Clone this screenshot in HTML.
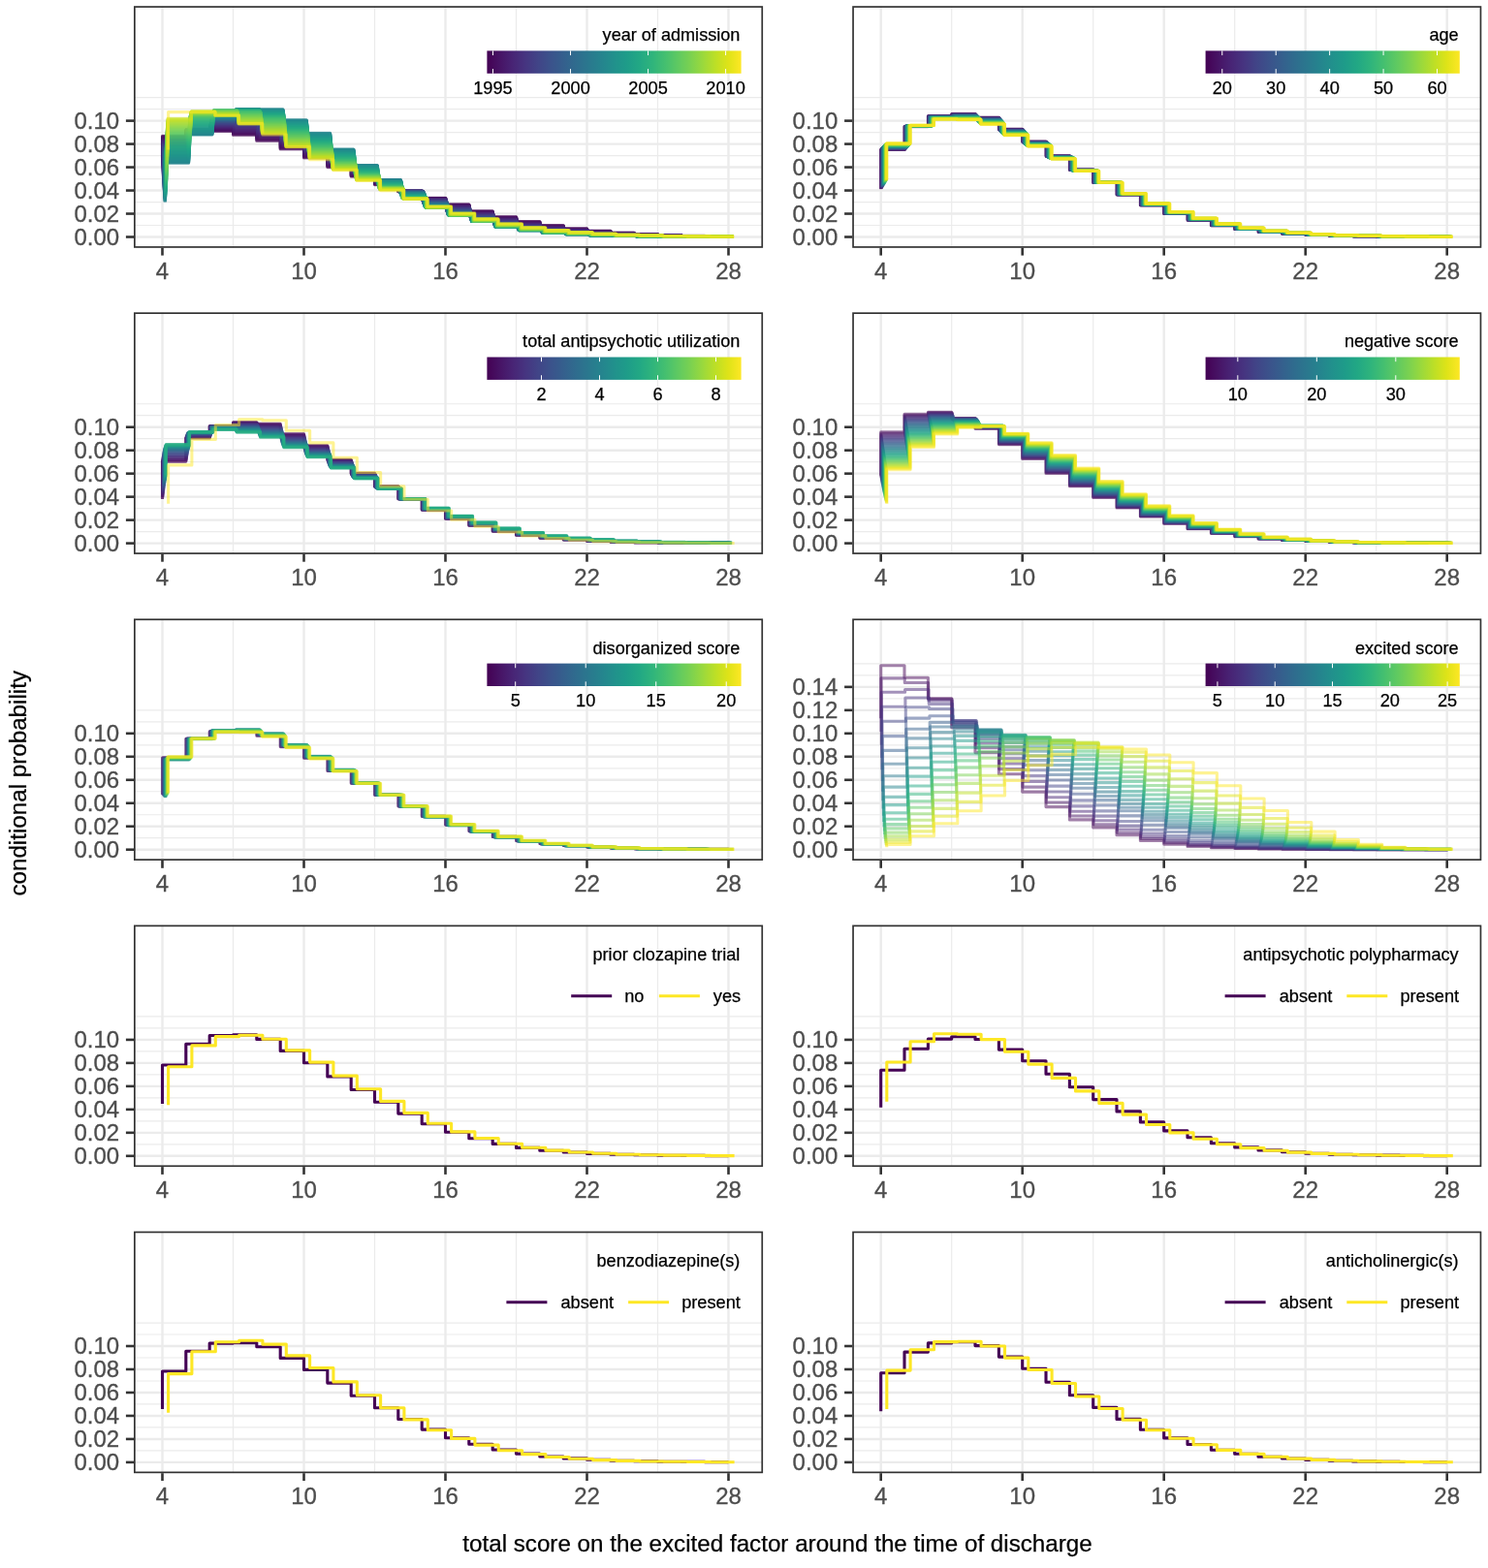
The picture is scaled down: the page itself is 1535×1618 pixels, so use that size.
<!DOCTYPE html><html><head><meta charset="utf-8"><title>conditional probability</title>
<style>html,body{margin:0;padding:0;background:#fff;}svg{display:block;}</style></head><body>
<svg width="1535" height="1618" viewBox="0 0 1535 1618" style="font-family:'Liberation Sans',Arial,Helvetica,sans-serif">
<rect width="1535" height="1618" fill="#fff"/>
<defs><clipPath id="c0"><rect x="138.00" y="6.20" width="649.10" height="249.60"/></clipPath></defs>
<g clip-path="url(#c0)">
<line x1="138.00" y1="232.52" x2="787.10" y2="232.52" stroke="#ebebeb" stroke-width="1.2"/>
<line x1="138.00" y1="208.54" x2="787.10" y2="208.54" stroke="#ebebeb" stroke-width="1.2"/>
<line x1="138.00" y1="184.56" x2="787.10" y2="184.56" stroke="#ebebeb" stroke-width="1.2"/>
<line x1="138.00" y1="160.58" x2="787.10" y2="160.58" stroke="#ebebeb" stroke-width="1.2"/>
<line x1="138.00" y1="136.60" x2="787.10" y2="136.60" stroke="#ebebeb" stroke-width="1.2"/>
<line x1="138.00" y1="112.62" x2="787.10" y2="112.62" stroke="#ebebeb" stroke-width="1.2"/>
<line x1="138.00" y1="100.63" x2="787.10" y2="100.63" stroke="#ebebeb" stroke-width="1.2"/>
<line x1="240.50" y1="6.20" x2="240.50" y2="255.80" stroke="#ebebeb" stroke-width="1.2"/>
<line x1="386.50" y1="6.20" x2="386.50" y2="255.80" stroke="#ebebeb" stroke-width="1.2"/>
<line x1="532.50" y1="6.20" x2="532.50" y2="255.80" stroke="#ebebeb" stroke-width="1.2"/>
<line x1="678.50" y1="6.20" x2="678.50" y2="255.80" stroke="#ebebeb" stroke-width="1.2"/>
<line x1="138.00" y1="244.51" x2="787.10" y2="244.51" stroke="#ebebeb" stroke-width="2.4"/>
<line x1="138.00" y1="220.53" x2="787.10" y2="220.53" stroke="#ebebeb" stroke-width="2.4"/>
<line x1="138.00" y1="196.55" x2="787.10" y2="196.55" stroke="#ebebeb" stroke-width="2.4"/>
<line x1="138.00" y1="172.57" x2="787.10" y2="172.57" stroke="#ebebeb" stroke-width="2.4"/>
<line x1="138.00" y1="148.59" x2="787.10" y2="148.59" stroke="#ebebeb" stroke-width="2.4"/>
<line x1="138.00" y1="124.61" x2="787.10" y2="124.61" stroke="#ebebeb" stroke-width="2.4"/>
<line x1="167.50" y1="6.20" x2="167.50" y2="255.80" stroke="#ebebeb" stroke-width="2.4"/>
<line x1="313.50" y1="6.20" x2="313.50" y2="255.80" stroke="#ebebeb" stroke-width="2.4"/>
<line x1="459.50" y1="6.20" x2="459.50" y2="255.80" stroke="#ebebeb" stroke-width="2.4"/>
<line x1="605.50" y1="6.20" x2="605.50" y2="255.80" stroke="#ebebeb" stroke-width="2.4"/>
<line x1="751.50" y1="6.20" x2="751.50" y2="255.80" stroke="#ebebeb" stroke-width="2.4"/>
<path d="M167.5,163.0L167.5,140.2 191.8,140.2 191.8,134.8 216.2,134.8 216.2,135.4 240.5,135.4 240.5,139.4 264.8,139.4 264.8,145.5 289.2,145.5 289.2,154.0 313.5,154.0 313.5,163.0 337.8,163.0 337.8,172.6 362.2,172.6 362.2,182.2 386.5,182.2 386.5,190.6 410.8,190.6 410.8,197.8 435.2,197.8 435.2,204.3 459.5,204.3 459.5,210.9 483.8,210.9 483.8,217.9 508.2,217.9 508.2,223.7 532.5,223.7 532.5,228.6 556.8,228.6 556.8,232.5 581.2,232.5 581.2,235.8 605.5,235.8 605.5,238.3 629.8,238.3 629.8,240.2 654.2,240.2 654.2,241.6 678.5,241.6 678.5,242.7 702.8,242.7 702.8,243.4 727.2,243.4 727.2,243.9 751.5,243.9" fill="none" stroke="#440154" stroke-width="3.10" stroke-opacity="0.500" stroke-linejoin="round"/>
<path d="M167.6,164.1L167.6,140.6 191.9,140.6 191.9,134.7 216.2,134.7 216.2,135.0 240.6,135.0 240.6,138.8 264.9,138.8 264.9,144.8 289.2,144.8 289.2,153.4 313.6,153.4 313.6,162.5 337.9,162.5 337.9,172.1 362.2,172.1 362.2,181.8 386.6,181.8 386.6,190.3 410.9,190.3 410.9,197.7 435.2,197.7 435.2,204.5 459.6,204.5 459.6,211.2 483.9,211.2 483.9,218.1 508.2,218.1 508.2,223.9 532.6,223.9 532.6,228.8 556.9,228.8 556.9,232.8 581.2,232.8 581.2,236.0 605.5,236.0 605.5,238.4 629.9,238.4 629.9,240.3 654.2,240.3 654.2,241.7 678.5,241.7 678.5,242.8 702.9,242.8 702.9,243.5 727.2,243.5 727.2,243.9 751.5,243.9" fill="none" stroke="#450457" stroke-width="3.10" stroke-opacity="0.500" stroke-linejoin="round"/>
<path d="M167.6,165.3L167.6,141.1 191.9,141.1 191.9,134.6 216.3,134.6 216.3,134.6 240.6,134.6 240.6,138.3 264.9,138.3 264.9,144.2 289.3,144.2 289.3,152.8 313.6,152.8 313.6,161.9 337.9,161.9 337.9,171.7 362.3,171.7 362.3,181.5 386.6,181.5 386.6,190.1 410.9,190.1 410.9,197.6 435.3,197.6 435.3,204.6 459.6,204.6 459.6,211.4 483.9,211.4 483.9,218.4 508.3,218.4 508.3,224.2 532.6,224.2 532.6,229.1 556.9,229.1 556.9,233.0 581.3,233.0 581.3,236.2 605.6,236.2 605.6,238.6 629.9,238.6 629.9,240.4 654.3,240.4 654.3,241.8 678.6,241.8 678.6,242.8 702.9,242.8 702.9,243.5 727.3,243.5 727.3,243.9 751.6,243.9" fill="none" stroke="#46075a" stroke-width="3.10" stroke-opacity="0.500" stroke-linejoin="round"/>
<path d="M167.7,166.4L167.7,141.5 192.0,141.5 192.0,134.5 216.3,134.5 216.3,134.2 240.7,134.2 240.7,137.7 265.0,137.7 265.0,143.5 289.3,143.5 289.3,152.2 313.7,152.2 313.7,161.4 338.0,161.4 338.0,171.3 362.3,171.3 362.3,181.1 386.7,181.1 386.7,189.8 411.0,189.8 411.0,197.5 435.3,197.5 435.3,204.7 459.7,204.7 459.7,211.6 484.0,211.6 484.0,218.6 508.3,218.6 508.3,224.5 532.7,224.5 532.7,229.4 557.0,229.4 557.0,233.3 581.3,233.3 581.3,236.4 605.7,236.4 605.7,238.8 630.0,238.8 630.0,240.6 654.3,240.6 654.3,241.9 678.7,241.9 678.7,242.9 703.0,242.9 703.0,243.5 727.3,243.5 727.3,244.0 751.6,244.0" fill="none" stroke="#460a5d" stroke-width="3.10" stroke-opacity="0.500" stroke-linejoin="round"/>
<path d="M167.7,167.5L167.7,141.9 192.0,141.9 192.0,134.4 216.4,134.4 216.4,133.8 240.7,133.8 240.7,137.2 265.0,137.2 265.0,142.9 289.4,142.9 289.4,151.7 313.7,151.7 313.7,160.9 338.0,160.9 338.0,170.8 362.4,170.8 362.4,180.8 386.7,180.8 386.7,189.6 411.0,189.6 411.0,197.5 435.4,197.5 435.4,204.8 459.7,204.8 459.7,211.8 484.0,211.8 484.0,218.8 508.4,218.8 508.4,224.7 532.7,224.7 532.7,229.6 557.0,229.6 557.0,233.5 581.4,233.5 581.4,236.6 605.7,236.6 605.7,238.9 630.0,238.9 630.0,240.7 654.4,240.7 654.4,242.0 678.7,242.0 678.7,242.9 703.0,242.9 703.0,243.5 727.4,243.5 727.4,244.0 751.7,244.0" fill="none" stroke="#470d60" stroke-width="3.10" stroke-opacity="0.500" stroke-linejoin="round"/>
<path d="M167.8,168.6L167.8,142.4 192.1,142.4 192.1,134.3 216.4,134.3 216.4,133.5 240.8,133.5 240.8,136.6 265.1,136.6 265.1,142.3 289.4,142.3 289.4,151.1 313.8,151.1 313.8,160.3 338.1,160.3 338.1,170.4 362.4,170.4 362.4,180.4 386.8,180.4 386.8,189.4 411.1,189.4 411.1,197.4 435.4,197.4 435.4,204.9 459.8,204.9 459.8,212.1 484.1,212.1 484.1,219.1 508.4,219.1 508.4,225.0 532.8,225.0 532.8,229.9 557.1,229.9 557.1,233.8 581.4,233.8 581.4,236.8 605.8,236.8 605.8,239.1 630.1,239.1 630.1,240.8 654.4,240.8 654.4,242.0 678.8,242.0 678.8,242.9 703.1,242.9 703.1,243.6 727.4,243.6 727.4,244.0 751.8,244.0" fill="none" stroke="#471063" stroke-width="3.10" stroke-opacity="0.500" stroke-linejoin="round"/>
<path d="M167.8,169.7L167.8,142.8 192.1,142.8 192.1,134.2 216.5,134.2 216.5,133.1 240.8,133.1 240.8,136.1 265.1,136.1 265.1,141.6 289.5,141.6 289.5,150.5 313.8,150.5 313.8,159.8 338.1,159.8 338.1,170.0 362.5,170.0 362.5,180.1 386.8,180.1 386.8,189.2 411.1,189.2 411.1,197.4 435.5,197.4 435.5,205.0 459.8,205.0 459.8,212.3 484.1,212.3 484.1,219.3 508.5,219.3 508.5,225.3 532.8,225.3 532.8,230.2 557.1,230.2 557.1,234.0 581.5,234.0 581.5,236.9 605.8,236.9 605.8,239.2 630.1,239.2 630.1,240.9 654.5,240.9 654.5,242.1 678.8,242.1 678.8,243.0 703.1,243.0 703.1,243.6 727.5,243.6 727.5,244.0 751.8,244.0" fill="none" stroke="#471365" stroke-width="3.10" stroke-opacity="0.500" stroke-linejoin="round"/>
<path d="M167.9,170.7L167.9,143.3 192.2,143.3 192.2,134.1 216.5,134.1 216.5,132.7 240.9,132.7 240.9,135.5 265.2,135.5 265.2,141.0 289.5,141.0 289.5,149.9 313.9,149.9 313.9,159.3 338.2,159.3 338.2,169.5 362.5,169.5 362.5,179.7 386.9,179.7 386.9,189.0 411.2,189.0 411.2,197.3 435.5,197.3 435.5,205.2 459.9,205.2 459.9,212.5 484.2,212.5 484.2,219.5 508.5,219.5 508.5,225.5 532.9,225.5 532.9,230.4 557.2,230.4 557.2,234.2 581.5,234.2 581.5,237.1 605.9,237.1 605.9,239.4 630.2,239.4 630.2,241.0 654.5,241.0 654.5,242.2 678.9,242.2 678.9,243.0 703.2,243.0 703.2,243.6 727.5,243.6 727.5,244.0 751.9,244.0" fill="none" stroke="#481769" stroke-width="3.10" stroke-opacity="0.500" stroke-linejoin="round"/>
<path d="M167.9,171.8L167.9,143.7 192.2,143.7 192.2,134.0 216.6,134.0 216.6,132.3 240.9,132.3 240.9,135.0 265.2,135.0 265.2,140.3 289.6,140.3 289.6,149.3 313.9,149.3 313.9,158.8 338.2,158.8 338.2,169.1 362.6,169.1 362.6,179.4 386.9,179.4 386.9,188.8 411.2,188.8 411.2,197.3 435.6,197.3 435.6,205.3 459.9,205.3 459.9,212.8 484.2,212.8 484.2,219.8 508.6,219.8 508.6,225.8 532.9,225.8 532.9,230.7 557.2,230.7 557.2,234.4 581.6,234.4 581.6,237.3 605.9,237.3 605.9,239.5 630.2,239.5 630.2,241.1 654.6,241.1 654.6,242.3 678.9,242.3 678.9,243.1 703.2,243.1 703.2,243.6 727.6,243.6 727.6,244.0 751.9,244.0" fill="none" stroke="#481a6c" stroke-width="3.10" stroke-opacity="0.500" stroke-linejoin="round"/>
<path d="M168.0,172.8L168.0,144.2 192.3,144.2 192.3,134.0 216.6,134.0 216.6,132.0 241.0,132.0 241.0,134.5 265.3,134.5 265.3,139.7 289.6,139.7 289.6,148.8 314.0,148.8 314.0,158.2 338.3,158.2 338.3,168.7 362.6,168.7 362.6,179.1 387.0,179.1 387.0,188.6 411.3,188.6 411.3,197.3 435.6,197.3 435.6,205.4 460.0,205.4 460.0,213.0 484.3,213.0 484.3,220.0 508.6,220.0 508.6,226.1 533.0,226.1 533.0,230.9 557.3,230.9 557.3,234.7 581.6,234.7 581.6,237.5 606.0,237.5 606.0,239.6 630.3,239.6 630.3,241.2 654.6,241.2 654.6,242.3 679.0,242.3 679.0,243.1 703.3,243.1 703.3,243.6 727.6,243.6 727.6,244.0 752.0,244.0" fill="none" stroke="#481c6e" stroke-width="3.10" stroke-opacity="0.500" stroke-linejoin="round"/>
<path d="M168.0,173.8L168.0,144.7 192.4,144.7 192.4,133.9 216.7,133.9 216.7,131.6 241.0,131.6 241.0,133.9 265.3,133.9 265.3,139.0 289.7,139.0 289.7,148.2 314.0,148.2 314.0,157.7 338.3,157.7 338.3,168.3 362.7,168.3 362.7,178.8 387.0,178.8 387.0,188.4 411.3,188.4 411.3,197.3 435.7,197.3 435.7,205.6 460.0,205.6 460.0,213.2 484.3,213.2 484.3,220.3 508.7,220.3 508.7,226.3 533.0,226.3 533.0,231.1 557.3,231.1 557.3,234.9 581.7,234.9 581.7,237.6 606.0,237.6 606.0,239.8 630.3,239.8 630.3,241.3 654.7,241.3 654.7,242.4 679.0,242.4 679.0,243.1 703.3,243.1 703.3,243.7 727.7,243.7 727.7,244.0 752.0,244.0" fill="none" stroke="#481f70" stroke-width="3.10" stroke-opacity="0.500" stroke-linejoin="round"/>
<path d="M168.1,174.8L168.1,145.1 192.4,145.1 192.4,133.9 216.7,133.9 216.7,131.2 241.1,131.2 241.1,133.4 265.4,133.4 265.4,138.4 289.7,138.4 289.7,147.6 314.1,147.6 314.1,157.2 338.4,157.2 338.4,167.9 362.7,167.9 362.7,178.5 387.1,178.5 387.1,188.2 411.4,188.2 411.4,197.2 435.7,197.2 435.7,205.7 460.1,205.7 460.1,213.5 484.4,213.5 484.4,220.5 508.7,220.5 508.7,226.6 533.1,226.6 533.1,231.4 557.4,231.4 557.4,235.1 581.7,235.1 581.7,237.8 606.1,237.8 606.1,239.9 630.4,239.9 630.4,241.4 654.7,241.4 654.7,242.5 679.1,242.5 679.1,243.2 703.4,243.2 703.4,243.7 727.7,243.7 727.7,244.1 752.1,244.1" fill="none" stroke="#482173" stroke-width="3.10" stroke-opacity="0.500" stroke-linejoin="round"/>
<path d="M168.1,175.8L168.1,145.6 192.5,145.6 192.5,133.8 216.8,133.8 216.8,130.9 241.1,130.9 241.1,132.8 265.5,132.8 265.5,137.7 289.8,137.7 289.8,147.0 314.1,147.0 314.1,156.7 338.5,156.7 338.5,167.5 362.8,167.5 362.8,178.1 387.1,178.1 387.1,188.0 411.4,188.0 411.4,197.2 435.8,197.2 435.8,205.9 460.1,205.9 460.1,213.7 484.4,213.7 484.4,220.7 508.8,220.7 508.8,226.8 533.1,226.8 533.1,231.6 557.4,231.6 557.4,235.3 581.8,235.3 581.8,238.0 606.1,238.0 606.1,240.0 630.4,240.0 630.4,241.5 654.8,241.5 654.8,242.5 679.1,242.5 679.1,243.2 703.4,243.2 703.4,243.7 727.8,243.7 727.8,244.1 752.1,244.1" fill="none" stroke="#482475" stroke-width="3.10" stroke-opacity="0.500" stroke-linejoin="round"/>
<path d="M168.2,176.8L168.2,146.1 192.5,146.1 192.5,133.8 216.8,133.8 216.8,130.5 241.2,130.5 241.2,132.3 265.5,132.3 265.5,137.1 289.8,137.1 289.8,146.4 314.2,146.4 314.2,156.1 338.5,156.1 338.5,167.0 362.8,167.0 362.8,177.8 387.2,177.8 387.2,187.8 411.5,187.8 411.5,197.2 435.8,197.2 435.8,206.0 460.2,206.0 460.2,213.9 484.5,213.9 484.5,221.0 508.8,221.0 508.8,227.1 533.2,227.1 533.2,231.8 557.5,231.8 557.5,235.5 581.8,235.5 581.8,238.1 606.2,238.1 606.2,240.1 630.5,240.1 630.5,241.6 654.8,241.6 654.8,242.6 679.2,242.6 679.2,243.3 703.5,243.3 703.5,243.7 727.8,243.7 727.8,244.1 752.2,244.1" fill="none" stroke="#482878" stroke-width="3.10" stroke-opacity="0.500" stroke-linejoin="round"/>
<path d="M168.2,177.8L168.2,146.5 192.6,146.5 192.6,133.7 216.9,133.7 216.9,130.2 241.2,130.2 241.2,131.8 265.6,131.8 265.6,136.5 289.9,136.5 289.9,145.9 314.2,145.9 314.2,155.6 338.6,155.6 338.6,166.6 362.9,166.6 362.9,177.5 387.2,177.5 387.2,187.7 411.6,187.7 411.6,197.2 435.9,197.2 435.9,206.2 460.2,206.2 460.2,214.2 484.6,214.2 484.6,221.2 508.9,221.2 508.9,227.3 533.2,227.3 533.2,232.1 557.6,232.1 557.6,235.7 581.9,235.7 581.9,238.3 606.2,238.3 606.2,240.3 630.5,240.3 630.5,241.7 654.9,241.7 654.9,242.6 679.2,242.6 679.2,243.3 703.5,243.3 703.5,243.7 727.9,243.7 727.9,244.1 752.2,244.1" fill="none" stroke="#472a7a" stroke-width="3.10" stroke-opacity="0.500" stroke-linejoin="round"/>
<path d="M168.3,178.7L168.3,147.0 192.6,147.0 192.6,133.7 216.9,133.7 216.9,129.8 241.3,129.8 241.3,131.2 265.6,131.2 265.6,135.8 289.9,135.8 289.9,145.3 314.3,145.3 314.3,155.1 338.6,155.1 338.6,166.2 362.9,166.2 362.9,177.2 387.3,177.2 387.3,187.5 411.6,187.5 411.6,197.2 435.9,197.2 435.9,206.3 460.3,206.3 460.3,214.4 484.6,214.4 484.6,221.4 508.9,221.4 508.9,227.6 533.3,227.6 533.3,232.3 557.6,232.3 557.6,235.9 581.9,235.9 581.9,238.4 606.3,238.4 606.3,240.4 630.6,240.4 630.6,241.8 654.9,241.8 654.9,242.7 679.3,242.7 679.3,243.3 703.6,243.3 703.6,243.7 727.9,243.7 727.9,244.1 752.3,244.1" fill="none" stroke="#472d7b" stroke-width="3.10" stroke-opacity="0.500" stroke-linejoin="round"/>
<path d="M168.3,179.7L168.3,147.5 192.7,147.5 192.7,133.7 217.0,133.7 217.0,129.5 241.3,129.5 241.3,130.7 265.7,130.7 265.7,135.2 290.0,135.2 290.0,144.7 314.3,144.7 314.3,154.6 338.7,154.6 338.7,165.8 363.0,165.8 363.0,176.9 387.3,176.9 387.3,187.4 411.7,187.4 411.7,197.2 436.0,197.2 436.0,206.5 460.3,206.5 460.3,214.7 484.7,214.7 484.7,221.7 509.0,221.7 509.0,227.8 533.3,227.8 533.3,232.5 557.7,232.5 557.7,236.1 582.0,236.1 582.0,238.6 606.3,238.6 606.3,240.5 630.7,240.5 630.7,241.8 655.0,241.8 655.0,242.8 679.3,242.8 679.3,243.4 703.7,243.4 703.7,243.8 728.0,243.8 728.0,244.1 752.3,244.1" fill="none" stroke="#472f7d" stroke-width="3.10" stroke-opacity="0.500" stroke-linejoin="round"/>
<path d="M168.4,180.6L168.4,148.0 192.7,148.0 192.7,133.7 217.0,133.7 217.0,129.1 241.4,129.1 241.4,130.2 265.7,130.2 265.7,134.5 290.0,134.5 290.0,144.1 314.4,144.1 314.4,154.1 338.7,154.1 338.7,165.4 363.0,165.4 363.0,176.6 387.4,176.6 387.4,187.2 411.7,187.2 411.7,197.3 436.0,197.3 436.0,206.7 460.4,206.7 460.4,214.9 484.7,214.9 484.7,221.9 509.0,221.9 509.0,228.1 533.4,228.1 533.4,232.7 557.7,232.7 557.7,236.3 582.0,236.3 582.0,238.7 606.4,238.7 606.4,240.6 630.7,240.6 630.7,241.9 655.0,241.9 655.0,242.8 679.4,242.8 679.4,243.4 703.7,243.4 703.7,243.8 728.0,243.8 728.0,244.1 752.4,244.1" fill="none" stroke="#46327e" stroke-width="3.10" stroke-opacity="0.500" stroke-linejoin="round"/>
<path d="M168.4,181.5L168.4,148.5 192.8,148.5 192.8,133.6 217.1,133.6 217.1,128.8 241.4,128.8 241.4,129.6 265.8,129.6 265.8,133.9 290.1,133.9 290.1,143.5 314.4,143.5 314.4,153.5 338.8,153.5 338.8,165.0 363.1,165.0 363.1,176.4 387.4,176.4 387.4,187.1 411.8,187.1 411.8,197.3 436.1,197.3 436.1,206.8 460.4,206.8 460.4,215.2 484.8,215.2 484.8,222.2 509.1,222.2 509.1,228.3 533.4,228.3 533.4,233.0 557.8,233.0 557.8,236.5 582.1,236.5 582.1,238.9 606.4,238.9 606.4,240.7 630.8,240.7 630.8,242.0 655.1,242.0 655.1,242.9 679.4,242.9 679.4,243.4 703.8,243.4 703.8,243.8 728.1,243.8 728.1,244.1 752.4,244.1" fill="none" stroke="#463480" stroke-width="3.10" stroke-opacity="0.500" stroke-linejoin="round"/>
<path d="M168.5,182.4L168.5,148.9 192.8,148.9 192.8,133.6 217.1,133.6 217.1,128.5 241.5,128.5 241.5,129.1 265.8,129.1 265.8,133.2 290.1,133.2 290.1,142.9 314.5,142.9 314.5,153.0 338.8,153.0 338.8,164.6 363.1,164.6 363.1,176.1 387.5,176.1 387.5,186.9 411.8,186.9 411.8,197.3 436.1,197.3 436.1,207.0 460.5,207.0 460.5,215.4 484.8,215.4 484.8,222.4 509.1,222.4 509.1,228.5 533.5,228.5 533.5,233.2 557.8,233.2 557.8,236.6 582.1,236.6 582.1,239.0 606.5,239.0 606.5,240.8 630.8,240.8 630.8,242.1 655.1,242.1 655.1,242.9 679.5,242.9 679.5,243.5 703.8,243.5 703.8,243.8 728.1,243.8 728.1,244.1 752.5,244.1" fill="none" stroke="#453882" stroke-width="3.10" stroke-opacity="0.500" stroke-linejoin="round"/>
<path d="M168.5,183.3L168.5,149.4 192.9,149.4 192.9,133.6 217.2,133.6 217.2,128.1 241.5,128.1 241.5,128.6 265.9,128.6 265.9,132.6 290.2,132.6 290.2,142.4 314.5,142.4 314.5,152.5 338.9,152.5 338.9,164.2 363.2,164.2 363.2,175.8 387.5,175.8 387.5,186.8 411.9,186.8 411.9,197.3 436.2,197.3 436.2,207.2 460.5,207.2 460.5,215.6 484.9,215.6 484.9,222.6 509.2,222.6 509.2,228.8 533.5,228.8 533.5,233.4 557.9,233.4 557.9,236.8 582.2,236.8 582.2,239.1 606.5,239.1 606.5,240.9 630.9,240.9 630.9,242.1 655.2,242.1 655.2,243.0 679.5,243.0 679.5,243.5 703.9,243.5 703.9,243.8 728.2,243.8 728.2,244.1 752.5,244.1" fill="none" stroke="#443a83" stroke-width="3.10" stroke-opacity="0.500" stroke-linejoin="round"/>
<path d="M168.6,184.2L168.6,149.9 192.9,149.9 192.9,133.6 217.2,133.6 217.2,127.8 241.6,127.8 241.6,128.1 265.9,128.1 265.9,131.9 290.2,131.9 290.2,141.8 314.6,141.8 314.6,152.0 338.9,152.0 338.9,163.8 363.2,163.8 363.2,175.5 387.6,175.5 387.6,186.6 411.9,186.6 411.9,197.4 436.2,197.4 436.2,207.4 460.6,207.4 460.6,215.9 484.9,215.9 484.9,222.9 509.2,222.9 509.2,229.0 533.6,229.0 533.6,233.6 557.9,233.6 557.9,237.0 582.2,237.0 582.2,239.3 606.6,239.3 606.6,241.0 630.9,241.0 630.9,242.2 655.2,242.2 655.2,243.0 679.6,243.0 679.6,243.5 703.9,243.5 703.9,243.8 728.2,243.8 728.2,244.2 752.6,244.2" fill="none" stroke="#433d84" stroke-width="3.10" stroke-opacity="0.500" stroke-linejoin="round"/>
<path d="M168.6,185.1L168.6,150.4 193.0,150.4 193.0,133.6 217.3,133.6 217.3,127.5 241.6,127.5 241.6,127.5 266.0,127.5 266.0,131.3 290.3,131.3 290.3,141.2 314.6,141.2 314.6,151.5 339.0,151.5 339.0,163.4 363.3,163.4 363.3,175.3 387.6,175.3 387.6,186.5 412.0,186.5 412.0,197.4 436.3,197.4 436.3,207.5 460.6,207.5 460.6,216.1 485.0,216.1 485.0,223.1 509.3,223.1 509.3,229.2 533.6,229.2 533.6,233.8 558.0,233.8 558.0,237.1 582.3,237.1 582.3,239.4 606.6,239.4 606.6,241.1 631.0,241.1 631.0,242.3 655.3,242.3 655.3,243.1 679.6,243.1 679.6,243.5 704.0,243.5 704.0,243.9 728.3,243.9 728.3,244.2 752.6,244.2" fill="none" stroke="#423f85" stroke-width="3.10" stroke-opacity="0.500" stroke-linejoin="round"/>
<path d="M168.7,185.9L168.7,150.9 193.0,150.9 193.0,133.6 217.4,133.6 217.4,127.2 241.7,127.2 241.7,127.0 266.0,127.0 266.0,130.6 290.3,130.6 290.3,140.6 314.7,140.6 314.7,151.0 339.0,151.0 339.0,163.1 363.3,163.1 363.3,175.0 387.7,175.0 387.7,186.4 412.0,186.4 412.0,197.5 436.3,197.5 436.3,207.7 460.7,207.7 460.7,216.4 485.0,216.4 485.0,223.3 509.3,223.3 509.3,229.5 533.7,229.5 533.7,234.0 558.0,234.0 558.0,237.3 582.3,237.3 582.3,239.5 606.7,239.5 606.7,241.2 631.0,241.2 631.0,242.4 655.3,242.4 655.3,243.1 679.7,243.1 679.7,243.6 704.0,243.6 704.0,243.9 728.3,243.9 728.3,244.2 752.7,244.2" fill="none" stroke="#424186" stroke-width="3.10" stroke-opacity="0.500" stroke-linejoin="round"/>
<path d="M168.7,186.8L168.7,151.4 193.1,151.4 193.1,133.7 217.4,133.7 217.4,126.9 241.7,126.9 241.7,126.5 266.1,126.5 266.1,130.0 290.4,130.0 290.4,140.0 314.7,140.0 314.7,150.5 339.1,150.5 339.1,162.7 363.4,162.7 363.4,174.7 387.7,174.7 387.7,186.3 412.1,186.3 412.1,197.5 436.4,197.5 436.4,207.9 460.7,207.9 460.7,216.6 485.1,216.6 485.1,223.6 509.4,223.6 509.4,229.7 533.7,229.7 533.7,234.2 558.1,234.2 558.1,237.5 582.4,237.5 582.4,239.6 606.7,239.6 606.7,241.3 631.1,241.3 631.1,242.4 655.4,242.4 655.4,243.1 679.7,243.1 679.7,243.6 704.1,243.6 704.1,243.9 728.4,243.9 728.4,244.2 752.7,244.2" fill="none" stroke="#414487" stroke-width="3.10" stroke-opacity="0.500" stroke-linejoin="round"/>
<path d="M168.8,187.6L168.8,151.9 193.1,151.9 193.1,133.7 217.5,133.7 217.5,126.6 241.8,126.6 241.8,126.0 266.1,126.0 266.1,129.4 290.5,129.4 290.5,139.5 314.8,139.5 314.8,150.0 339.1,150.0 339.1,162.3 363.5,162.3 363.5,174.5 387.8,174.5 387.8,186.2 412.1,186.2 412.1,197.6 436.5,197.6 436.5,208.1 460.8,208.1 460.8,216.9 485.1,216.9 485.1,223.8 509.4,223.8 509.4,229.9 533.8,229.9 533.8,234.4 558.1,234.4 558.1,237.6 582.4,237.6 582.4,239.8 606.8,239.8 606.8,241.4 631.1,241.4 631.1,242.5 655.4,242.5 655.4,243.2 679.8,243.2 679.8,243.6 704.1,243.6 704.1,243.9 728.4,243.9 728.4,244.2 752.8,244.2" fill="none" stroke="#3f4788" stroke-width="3.10" stroke-opacity="0.500" stroke-linejoin="round"/>
<path d="M168.8,188.4L168.8,152.4 193.2,152.4 193.2,133.7 217.5,133.7 217.5,126.2 241.8,126.2 241.8,125.5 266.2,125.5 266.2,128.7 290.5,128.7 290.5,138.9 314.8,138.9 314.8,149.4 339.2,149.4 339.2,161.9 363.5,161.9 363.5,174.2 387.8,174.2 387.8,186.1 412.2,186.1 412.2,197.6 436.5,197.6 436.5,208.3 460.8,208.3 460.8,217.1 485.2,217.1 485.2,224.0 509.5,224.0 509.5,230.1 533.8,230.1 533.8,234.6 558.2,234.6 558.2,237.8 582.5,237.8 582.5,239.9 606.8,239.9 606.8,241.5 631.2,241.5 631.2,242.5 655.5,242.5 655.5,243.2 679.8,243.2 679.8,243.6 704.2,243.6 704.2,243.9 728.5,243.9 728.5,244.2 752.8,244.2" fill="none" stroke="#3e4989" stroke-width="3.10" stroke-opacity="0.500" stroke-linejoin="round"/>
<path d="M168.9,189.3L168.9,153.0 193.2,153.0 193.2,133.8 217.6,133.8 217.6,126.0 241.9,126.0 241.9,125.0 266.2,125.0 266.2,128.1 290.6,128.1 290.6,138.3 314.9,138.3 314.9,149.0 339.2,149.0 339.2,161.6 363.6,161.6 363.6,174.1 387.9,174.1 387.9,186.0 412.2,186.0 412.2,197.7 436.6,197.7 436.6,208.4 460.9,208.4 460.9,217.3 485.2,217.3 485.2,224.2 509.6,224.2 509.6,230.3 533.9,230.3 533.9,234.7 558.2,234.7 558.2,237.9 582.6,237.9 582.6,240.0 606.9,240.0 606.9,241.5 631.2,241.5 631.2,242.6 655.6,242.6 655.6,243.3 679.9,243.3 679.9,243.7 704.2,243.7 704.2,243.9 728.5,243.9 728.5,244.2 752.9,244.2" fill="none" stroke="#3e4c8a" stroke-width="3.10" stroke-opacity="0.500" stroke-linejoin="round"/>
<path d="M168.9,190.2L168.9,153.6 193.3,153.6 193.3,134.0 217.6,134.0 217.6,125.7 241.9,125.7 241.9,124.5 266.3,124.5 266.3,127.5 290.6,127.5 290.6,137.8 314.9,137.8 314.9,148.5 339.3,148.5 339.3,161.3 363.6,161.3 363.6,173.9 387.9,173.9 387.9,186.0 412.3,186.0 412.3,197.8 436.6,197.8 436.6,208.5 460.9,208.5 460.9,217.4 485.3,217.4 485.3,224.4 509.6,224.4 509.6,230.4 533.9,230.4 533.9,234.8 558.3,234.8 558.3,238.0 582.6,238.0 582.6,240.0 606.9,240.0 606.9,241.6 631.3,241.6 631.3,242.6 655.6,242.6 655.6,243.3 679.9,243.3 679.9,243.7 704.3,243.7 704.3,244.0 728.6,244.0 728.6,244.2 752.9,244.2" fill="none" stroke="#3d4e8a" stroke-width="3.10" stroke-opacity="0.500" stroke-linejoin="round"/>
<path d="M169.0,191.1L169.0,154.2 193.3,154.2 193.3,134.1 217.7,134.1 217.7,125.5 242.0,125.5 242.0,124.0 266.3,124.0 266.3,126.9 290.7,126.9 290.7,137.2 315.0,137.2 315.0,148.1 339.3,148.1 339.3,161.0 363.7,161.0 363.7,173.7 388.0,173.7 388.0,186.0 412.3,186.0 412.3,197.8 436.7,197.8 436.7,208.7 461.0,208.7 461.0,217.6 485.3,217.6 485.3,224.6 509.7,224.6 509.7,230.6 534.0,230.6 534.0,235.0 558.3,235.0 558.3,238.1 582.7,238.1 582.7,240.1 607.0,240.1 607.0,241.6 631.3,241.6 631.3,242.7 655.7,242.7 655.7,243.3 680.0,243.3 680.0,243.7 704.3,243.7 704.3,244.0 728.7,244.0 728.7,244.2 753.0,244.2" fill="none" stroke="#3c508b" stroke-width="3.10" stroke-opacity="0.500" stroke-linejoin="round"/>
<path d="M169.0,192.0L169.0,154.8 193.4,154.8 193.4,134.3 217.7,134.3 217.7,125.3 242.0,125.3 242.0,123.5 266.4,123.5 266.4,126.3 290.7,126.3 290.7,136.6 315.0,136.6 315.0,147.6 339.4,147.6 339.4,160.7 363.7,160.7 363.7,173.6 388.0,173.6 388.0,186.0 412.4,186.0 412.4,197.9 436.7,197.9 436.7,208.8 461.0,208.8 461.0,217.8 485.4,217.8 485.4,224.7 509.7,224.7 509.7,230.7 534.0,230.7 534.0,235.1 558.4,235.1 558.4,238.2 582.7,238.2 582.7,240.2 607.0,240.2 607.0,241.7 631.4,241.7 631.4,242.7 655.7,242.7 655.7,243.4 680.0,243.4 680.0,243.7 704.4,243.7 704.4,244.0 728.7,244.0 728.7,244.2 753.0,244.2" fill="none" stroke="#3b528b" stroke-width="3.10" stroke-opacity="0.500" stroke-linejoin="round"/>
<path d="M169.1,192.9L169.1,155.3 193.4,155.3 193.4,134.4 217.8,134.4 217.8,125.0 242.1,125.0 242.1,123.0 266.4,123.0 266.4,125.7 290.8,125.7 290.8,136.1 315.1,136.1 315.1,147.2 339.4,147.2 339.4,160.4 363.8,160.4 363.8,173.4 388.1,173.4 388.1,185.9 412.4,185.9 412.4,198.0 436.8,198.0 436.8,209.0 461.1,209.0 461.1,217.9 485.4,217.9 485.4,224.9 509.8,224.9 509.8,230.9 534.1,230.9 534.1,235.2 558.4,235.2 558.4,238.3 582.8,238.3 582.8,240.3 607.1,240.3 607.1,241.8 631.4,241.8 631.4,242.8 655.8,242.8 655.8,243.4 680.1,243.4 680.1,243.8 704.4,243.8 704.4,244.0 728.8,244.0 728.8,244.3 753.1,244.3" fill="none" stroke="#3a548c" stroke-width="3.10" stroke-opacity="0.500" stroke-linejoin="round"/>
<path d="M169.1,193.7L169.1,155.9 193.5,155.9 193.5,134.6 217.8,134.6 217.8,124.8 242.1,124.8 242.1,122.6 266.5,122.6 266.5,125.2 290.8,125.2 290.8,135.5 315.1,135.5 315.1,146.7 339.5,146.7 339.5,160.1 363.8,160.1 363.8,173.3 388.1,173.3 388.1,185.9 412.5,185.9 412.5,198.1 436.8,198.1 436.8,209.1 461.1,209.1 461.1,218.1 485.5,218.1 485.5,225.1 509.8,225.1 509.8,231.0 534.1,231.0 534.1,235.3 558.5,235.3 558.5,238.4 582.8,238.4 582.8,240.4 607.1,240.4 607.1,241.8 631.5,241.8 631.5,242.8 655.8,242.8 655.8,243.4 680.1,243.4 680.1,243.8 704.5,243.8 704.5,244.0 728.8,244.0 728.8,244.3 753.1,244.3" fill="none" stroke="#38588c" stroke-width="3.10" stroke-opacity="0.500" stroke-linejoin="round"/>
<path d="M169.2,194.5L169.2,156.5 193.5,156.5 193.5,134.7 217.9,134.7 217.9,124.6 242.2,124.6 242.2,122.1 266.5,122.1 266.5,124.6 290.9,124.6 290.9,135.0 315.2,135.0 315.2,146.3 339.5,146.3 339.5,159.8 363.9,159.8 363.9,173.1 388.2,173.1 388.2,185.9 412.5,185.9 412.5,198.2 436.9,198.2 436.9,209.2 461.2,209.2 461.2,218.3 485.5,218.3 485.5,225.2 509.9,225.2 509.9,231.2 534.2,231.2 534.2,235.5 558.5,235.5 558.5,238.5 582.9,238.5 582.9,240.4 607.2,240.4 607.2,241.9 631.5,241.9 631.5,242.8 655.9,242.8 655.9,243.4 680.2,243.4 680.2,243.8 704.5,243.8 704.5,244.0 728.9,244.0 728.9,244.3 753.2,244.3" fill="none" stroke="#375a8c" stroke-width="3.10" stroke-opacity="0.500" stroke-linejoin="round"/>
<path d="M169.2,195.4L169.2,157.1 193.6,157.1 193.6,134.9 217.9,134.9 217.9,124.4 242.2,124.4 242.2,121.6 266.6,121.6 266.6,124.0 290.9,124.0 290.9,134.4 315.2,134.4 315.2,145.8 339.6,145.8 339.6,159.5 363.9,159.5 363.9,173.0 388.2,173.0 388.2,185.9 412.6,185.9 412.6,198.2 436.9,198.2 436.9,209.4 461.2,209.4 461.2,218.4 485.6,218.4 485.6,225.4 509.9,225.4 509.9,231.3 534.2,231.3 534.2,235.6 558.6,235.6 558.6,238.6 582.9,238.6 582.9,240.5 607.2,240.5 607.2,241.9 631.6,241.9 631.6,242.9 655.9,242.9 655.9,243.5 680.2,243.5 680.2,243.8 704.6,243.8 704.6,244.1 728.9,244.1 728.9,244.3 753.2,244.3" fill="none" stroke="#365c8d" stroke-width="3.10" stroke-opacity="0.500" stroke-linejoin="round"/>
<path d="M169.3,196.2L169.3,157.7 193.6,157.7 193.6,135.1 218.0,135.1 218.0,124.2 242.3,124.2 242.3,121.1 266.6,121.1 266.6,123.4 291.0,123.4 291.0,133.8 315.3,133.8 315.3,145.4 339.6,145.4 339.6,159.2 364.0,159.2 364.0,172.8 388.3,172.8 388.3,185.9 412.6,185.9 412.6,198.3 437.0,198.3 437.0,209.5 461.3,209.5 461.3,218.6 485.6,218.6 485.6,225.6 510.0,225.6 510.0,231.5 534.3,231.5 534.3,235.7 558.6,235.7 558.6,238.7 583.0,238.7 583.0,240.6 607.3,240.6 607.3,242.0 631.6,242.0 631.6,242.9 656.0,242.9 656.0,243.5 680.3,243.5 680.3,243.8 704.6,243.8 704.6,244.1 729.0,244.1 729.0,244.3 753.3,244.3" fill="none" stroke="#355e8d" stroke-width="3.10" stroke-opacity="0.500" stroke-linejoin="round"/>
<path d="M169.4,196.9L169.4,158.3 193.7,158.3 193.7,135.2 218.0,135.2 218.0,124.0 242.4,124.0 242.4,120.7 266.7,120.7 266.7,122.8 291.0,122.8 291.0,133.3 315.4,133.3 315.4,144.9 339.7,144.9 339.7,158.9 364.0,158.9 364.0,172.7 388.3,172.7 388.3,185.9 412.7,185.9 412.7,198.4 437.0,198.4 437.0,209.7 461.3,209.7 461.3,218.8 485.7,218.8 485.7,225.7 510.0,225.7 510.0,231.6 534.3,231.6 534.3,235.8 558.7,235.8 558.7,238.8 583.0,238.8 583.0,240.7 607.3,240.7 607.3,242.0 631.7,242.0 631.7,243.0 656.0,243.0 656.0,243.5 680.3,243.5 680.3,243.9 704.7,243.9 704.7,244.1 729.0,244.1 729.0,244.3 753.3,244.3" fill="none" stroke="#34608d" stroke-width="3.10" stroke-opacity="0.500" stroke-linejoin="round"/>
<path d="M169.4,197.7L169.4,158.9 193.7,158.9 193.7,135.4 218.1,135.4 218.1,123.7 242.4,123.7 242.4,120.2 266.7,120.2 266.7,122.2 291.1,122.2 291.1,132.7 315.4,132.7 315.4,144.5 339.7,144.5 339.7,158.6 364.1,158.6 364.1,172.6 388.4,172.6 388.4,185.9 412.7,185.9 412.7,198.5 437.1,198.5 437.1,209.8 461.4,209.8 461.4,218.9 485.7,218.9 485.7,225.9 510.1,225.9 510.1,231.8 534.4,231.8 534.4,235.9 558.7,235.9 558.7,238.9 583.1,238.9 583.1,240.7 607.4,240.7 607.4,242.1 631.7,242.1 631.7,243.0 656.1,243.0 656.1,243.6 680.4,243.6 680.4,243.9 704.7,243.9 704.7,244.1 729.1,244.1 729.1,244.3 753.4,244.3" fill="none" stroke="#33628d" stroke-width="3.10" stroke-opacity="0.500" stroke-linejoin="round"/>
<path d="M169.5,198.5L169.5,159.5 193.8,159.5 193.8,135.6 218.1,135.6 218.1,123.6 242.5,123.6 242.5,119.7 266.8,119.7 266.8,121.6 291.1,121.6 291.1,132.2 315.5,132.2 315.5,144.0 339.8,144.0 339.8,158.3 364.1,158.3 364.1,172.4 388.5,172.4 388.5,185.9 412.8,185.9 412.8,198.6 437.1,198.6 437.1,210.0 461.5,210.0 461.5,219.1 485.8,219.1 485.8,226.1 510.1,226.1 510.1,231.9 534.4,231.9 534.4,236.1 558.8,236.1 558.8,239.0 583.1,239.0 583.1,240.8 607.4,240.8 607.4,242.1 631.8,242.1 631.8,243.0 656.1,243.0 656.1,243.6 680.4,243.6 680.4,243.9 704.8,243.9 704.8,244.1 729.1,244.1 729.1,244.3 753.4,244.3" fill="none" stroke="#32658e" stroke-width="3.10" stroke-opacity="0.500" stroke-linejoin="round"/>
<path d="M169.5,199.3L169.5,160.1 193.8,160.1 193.8,135.8 218.2,135.8 218.2,123.4 242.5,123.4 242.5,119.3 266.8,119.3 266.8,121.0 291.2,121.0 291.2,131.6 315.5,131.6 315.5,143.6 339.8,143.6 339.8,158.0 364.2,158.0 364.2,172.3 388.5,172.3 388.5,185.9 412.8,185.9 412.8,198.7 437.2,198.7 437.2,210.1 461.5,210.1 461.5,219.3 485.8,219.3 485.8,226.2 510.2,226.2 510.2,232.1 534.5,232.1 534.5,236.2 558.8,236.2 558.8,239.0 583.2,239.0 583.2,240.9 607.5,240.9 607.5,242.2 631.8,242.2 631.8,243.1 656.2,243.1 656.2,243.6 680.5,243.6 680.5,243.9 704.8,243.9 704.8,244.1 729.2,244.1 729.2,244.3 753.5,244.3" fill="none" stroke="#31678e" stroke-width="3.10" stroke-opacity="0.500" stroke-linejoin="round"/>
<path d="M169.6,200.0L169.6,160.7 193.9,160.7 193.9,136.0 218.2,136.0 218.2,123.2 242.6,123.2 242.6,118.8 266.9,118.8 266.9,120.5 291.2,120.5 291.2,131.1 315.6,131.1 315.6,143.1 339.9,143.1 339.9,157.7 364.2,157.7 364.2,172.2 388.6,172.2 388.6,185.9 412.9,185.9 412.9,198.8 437.2,198.8 437.2,210.2 461.6,210.2 461.6,219.4 485.9,219.4 485.9,226.4 510.2,226.4 510.2,232.2 534.6,232.2 534.6,236.3 558.9,236.3 558.9,239.1 583.2,239.1 583.2,240.9 607.6,240.9 607.6,242.2 631.9,242.2 631.9,243.1 656.2,243.1 656.2,243.6 680.6,243.6 680.6,243.9 704.9,243.9 704.9,244.1 729.2,244.1 729.2,244.3 753.5,244.3" fill="none" stroke="#30698e" stroke-width="3.10" stroke-opacity="0.500" stroke-linejoin="round"/>
<path d="M169.6,200.7L169.6,161.3 193.9,161.3 193.9,136.2 218.3,136.2 218.3,123.0 242.6,123.0 242.6,118.3 266.9,118.3 266.9,119.9 291.3,119.9 291.3,130.5 315.6,130.5 315.6,142.7 339.9,142.7 339.9,157.4 364.3,157.4 364.3,172.0 388.6,172.0 388.6,185.9 412.9,185.9 412.9,198.9 437.3,198.9 437.3,210.4 461.6,210.4 461.6,219.6 485.9,219.6 485.9,226.5 510.3,226.5 510.3,232.3 534.6,232.3 534.6,236.4 558.9,236.4 558.9,239.2 583.3,239.2 583.3,241.0 607.6,241.0 607.6,242.3 631.9,242.3 631.9,243.1 656.3,243.1 656.3,243.6 680.6,243.6 680.6,244.0 704.9,244.0 704.9,244.2 729.3,244.2 729.3,244.3 753.6,244.3" fill="none" stroke="#2f6b8e" stroke-width="3.10" stroke-opacity="0.500" stroke-linejoin="round"/>
<path d="M169.7,201.4L169.7,161.9 194.0,161.9 194.0,136.4 218.3,136.4 218.3,122.8 242.7,122.8 242.7,117.9 267.0,117.9 267.0,119.3 291.3,119.3 291.3,129.9 315.7,129.9 315.7,142.2 340.0,142.2 340.0,157.2 364.3,157.2 364.3,171.9 388.7,171.9 388.7,185.9 413.0,185.9 413.0,199.0 437.3,199.0 437.3,210.5 461.7,210.5 461.7,219.8 486.0,219.8 486.0,226.7 510.3,226.7 510.3,232.5 534.7,232.5 534.7,236.5 559.0,236.5 559.0,239.3 583.3,239.3 583.3,241.1 607.7,241.1 607.7,242.3 632.0,242.3 632.0,243.2 656.3,243.2 656.3,243.7 680.7,243.7 680.7,244.0 705.0,244.0 705.0,244.2 729.3,244.2 729.3,244.4 753.7,244.4" fill="none" stroke="#2e6d8e" stroke-width="3.10" stroke-opacity="0.500" stroke-linejoin="round"/>
<path d="M169.7,202.2L169.7,162.5 194.0,162.5 194.0,136.6 218.4,136.6 218.4,122.6 242.7,122.6 242.7,117.4 267.0,117.4 267.0,118.7 291.4,118.7 291.4,129.4 315.7,129.4 315.7,141.8 340.0,141.8 340.0,156.9 364.4,156.9 364.4,171.8 388.7,171.8 388.7,185.9 413.0,185.9 413.0,199.1 437.4,199.1 437.4,210.7 461.7,210.7 461.7,219.9 486.0,219.9 486.0,226.9 510.4,226.9 510.4,232.6 534.7,232.6 534.7,236.6 559.0,236.6 559.0,239.4 583.4,239.4 583.4,241.1 607.7,241.1 607.7,242.4 632.0,242.4 632.0,243.2 656.4,243.2 656.4,243.7 680.7,243.7 680.7,244.0 705.0,244.0 705.0,244.2 729.4,244.2 729.4,244.4 753.7,244.4" fill="none" stroke="#2e6f8e" stroke-width="3.10" stroke-opacity="0.500" stroke-linejoin="round"/>
<path d="M169.8,202.9L169.8,163.1 194.1,163.1 194.1,136.9 218.4,136.9 218.4,122.5 242.8,122.5 242.8,117.0 267.1,117.0 267.1,118.1 291.4,118.1 291.4,128.8 315.8,128.8 315.8,141.4 340.1,141.4 340.1,156.6 364.4,156.6 364.4,171.7 388.8,171.7 388.8,185.9 413.1,185.9 413.1,199.2 437.4,199.2 437.4,210.8 461.8,210.8 461.8,220.1 486.1,220.1 486.1,227.0 510.4,227.0 510.4,232.8 534.8,232.8 534.8,236.7 559.1,236.7 559.1,239.5 583.4,239.5 583.4,241.2 607.8,241.2 607.8,242.4 632.1,242.4 632.1,243.2 656.4,243.2 656.4,243.7 680.8,243.7 680.8,244.0 705.1,244.0 705.1,244.2 729.4,244.2 729.4,244.4 753.8,244.4" fill="none" stroke="#2c718e" stroke-width="3.10" stroke-opacity="0.500" stroke-linejoin="round"/>
<path d="M169.8,203.5L169.8,163.6 194.1,163.6 194.1,137.1 218.5,137.1 218.5,122.3 242.8,122.3 242.8,116.5 267.1,116.5 267.1,117.5 291.5,117.5 291.5,128.3 315.8,128.3 315.8,140.9 340.1,140.9 340.1,156.3 364.5,156.3 364.5,171.5 388.8,171.5 388.8,185.9 413.1,185.9 413.1,199.3 437.5,199.3 437.5,211.0 461.8,211.0 461.8,220.2 486.1,220.2 486.1,227.2 510.5,227.2 510.5,232.9 534.8,232.9 534.8,236.8 559.1,236.8 559.1,239.6 583.5,239.6 583.5,241.2 607.8,241.2 607.8,242.5 632.1,242.5 632.1,243.3 656.5,243.3 656.5,243.7 680.8,243.7 680.8,244.0 705.1,244.0 705.1,244.2 729.5,244.2 729.5,244.4 753.8,244.4" fill="none" stroke="#2c738e" stroke-width="3.10" stroke-opacity="0.500" stroke-linejoin="round"/>
<path d="M169.9,204.2L169.9,164.2 194.2,164.2 194.2,137.3 218.5,137.3 218.5,122.1 242.9,122.1 242.9,116.1 267.2,116.1 267.2,117.0 291.5,117.0 291.5,127.7 315.9,127.7 315.9,140.5 340.2,140.5 340.2,156.0 364.5,156.0 364.5,171.4 388.9,171.4 388.9,185.9 413.2,185.9 413.2,199.4 437.5,199.4 437.5,211.1 461.9,211.1 461.9,220.4 486.2,220.4 486.2,227.3 510.5,227.3 510.5,233.0 534.9,233.0 534.9,236.9 559.2,236.9 559.2,239.6 583.5,239.6 583.5,241.3 607.9,241.3 607.9,242.5 632.2,242.5 632.2,243.3 656.5,243.3 656.5,243.8 680.9,243.8 680.9,244.0 705.2,244.0 705.2,244.2 729.5,244.2 729.5,244.4 753.9,244.4" fill="none" stroke="#2b758e" stroke-width="3.10" stroke-opacity="0.500" stroke-linejoin="round"/>
<path d="M169.9,204.9L169.9,164.8 194.2,164.8 194.2,137.5 218.6,137.5 218.6,122.0 242.9,122.0 242.9,115.7 267.2,115.7 267.2,116.4 291.6,116.4 291.6,127.2 315.9,127.2 315.9,140.0 340.2,140.0 340.2,155.7 364.6,155.7 364.6,171.3 388.9,171.3 388.9,185.9 413.2,185.9 413.2,199.5 437.6,199.5 437.6,211.3 461.9,211.3 461.9,220.6 486.2,220.6 486.2,227.5 510.6,227.5 510.6,233.2 534.9,233.2 534.9,237.0 559.2,237.0 559.2,239.7 583.6,239.7 583.6,241.4 607.9,241.4 607.9,242.6 632.2,242.6 632.2,243.3 656.6,243.3 656.6,243.8 680.9,243.8 680.9,244.0 705.2,244.0 705.2,244.2 729.6,244.2 729.6,244.4 753.9,244.4" fill="none" stroke="#2a778e" stroke-width="3.10" stroke-opacity="0.500" stroke-linejoin="round"/>
<path d="M170.0,205.5L170.0,165.4 194.3,165.4 194.3,137.8 218.6,137.8 218.6,121.8 243.0,121.8 243.0,115.2 267.3,115.2 267.3,115.8 291.6,115.8 291.6,126.6 316.0,126.6 316.0,139.6 340.3,139.6 340.3,155.5 364.6,155.5 364.6,171.2 389.0,171.2 389.0,185.9 413.3,185.9 413.3,199.6 437.6,199.6 437.6,211.4 462.0,211.4 462.0,220.7 486.3,220.7 486.3,227.7 510.6,227.7 510.6,233.3 535.0,233.3 535.0,237.2 559.3,237.2 559.3,239.8 583.6,239.8 583.6,241.4 608.0,241.4 608.0,242.6 632.3,242.6 632.3,243.3 656.6,243.3 656.6,243.8 681.0,243.8 681.0,244.1 705.3,244.1 705.3,244.2 729.6,244.2 729.6,244.4 754.0,244.4" fill="none" stroke="#29798e" stroke-width="3.10" stroke-opacity="0.500" stroke-linejoin="round"/>
<path d="M170.0,206.2L170.0,166.0 194.4,166.0 194.4,138.0 218.7,138.0 218.7,121.7 243.0,121.7 243.0,114.8 267.4,114.8 267.4,115.2 291.7,115.2 291.7,126.0 316.0,126.0 316.0,139.2 340.4,139.2 340.4,155.2 364.7,155.2 364.7,171.1 389.0,171.1 389.0,186.0 413.3,186.0 413.3,199.7 437.7,199.7 437.7,211.6 462.0,211.6 462.0,220.9 486.3,220.9 486.3,227.8 510.7,227.8 510.7,233.4 535.0,233.4 535.0,237.3 559.3,237.3 559.3,239.9 583.7,239.9 583.7,241.5 608.0,241.5 608.0,242.6 632.3,242.6 632.3,243.4 656.7,243.4 656.7,243.8 681.0,243.8 681.0,244.1 705.3,244.1 705.3,244.2 729.7,244.2 729.7,244.4 754.0,244.4" fill="none" stroke="#297b8e" stroke-width="3.10" stroke-opacity="0.500" stroke-linejoin="round"/>
<path d="M170.1,206.8L170.1,166.6 194.4,166.6 194.4,138.2 218.7,138.2 218.7,121.5 243.1,121.5 243.1,114.3 267.4,114.3 267.4,114.6 291.7,114.6 291.7,125.5 316.1,125.5 316.1,138.7 340.4,138.7 340.4,154.9 364.7,154.9 364.7,171.0 389.1,171.0 389.1,186.0 413.4,186.0 413.4,199.8 437.7,199.8 437.7,211.8 462.1,211.8 462.1,221.1 486.4,221.1 486.4,228.0 510.7,228.0 510.7,233.5 535.1,233.5 535.1,237.4 559.4,237.4 559.4,239.9 583.7,239.9 583.7,241.5 608.1,241.5 608.1,242.7 632.4,242.7 632.4,243.4 656.7,243.4 656.7,243.8 681.1,243.8 681.1,244.1 705.4,244.1 705.4,244.2 729.7,244.2 729.7,244.4 754.1,244.4" fill="none" stroke="#277e8e" stroke-width="3.10" stroke-opacity="0.500" stroke-linejoin="round"/>
<path d="M170.1,207.4L170.1,167.2 194.5,167.2 194.5,138.5 218.8,138.5 218.8,121.4 243.1,121.4 243.1,113.9 267.5,113.9 267.5,114.1 291.8,114.1 291.8,124.9 316.1,124.9 316.1,138.3 340.5,138.3 340.5,154.7 364.8,154.7 364.8,170.9 389.1,170.9 389.1,186.0 413.5,186.0 413.5,199.9 437.8,199.9 437.8,211.9 462.1,211.9 462.1,221.2 486.5,221.2 486.5,228.1 510.8,228.1 510.8,233.7 535.1,233.7 535.1,237.5 559.5,237.5 559.5,240.0 583.8,240.0 583.8,241.6 608.1,241.6 608.1,242.7 632.4,242.7 632.4,243.4 656.8,243.4 656.8,243.9 681.1,243.9 681.1,244.1 705.4,244.1 705.4,244.3 729.8,244.3 729.8,244.4 754.1,244.4" fill="none" stroke="#27808e" stroke-width="3.10" stroke-opacity="0.500" stroke-linejoin="round"/>
<path d="M170.2,208.0L170.2,167.7 194.5,167.7 194.5,138.7 218.8,138.7 218.8,121.2 243.2,121.2 243.2,113.5 267.5,113.5 267.5,113.5 291.8,113.5 291.8,124.4 316.2,124.4 316.2,137.8 340.5,137.8 340.5,154.4 364.8,154.4 364.8,170.7 389.2,170.7 389.2,186.0 413.5,186.0 413.5,200.0 437.8,200.0 437.8,212.1 462.2,212.1 462.2,221.4 486.5,221.4 486.5,228.3 510.8,228.3 510.8,233.8 535.2,233.8 535.2,237.6 559.5,237.6 559.5,240.1 583.8,240.1 583.8,241.7 608.2,241.7 608.2,242.8 632.5,242.8 632.5,243.5 656.8,243.5 656.8,243.9 681.2,243.9 681.2,244.1 705.5,244.1 705.5,244.3 729.8,244.3 729.8,244.4 754.2,244.4" fill="none" stroke="#26828e" stroke-width="3.10" stroke-opacity="0.500" stroke-linejoin="round"/>
<path d="M170.2,208.7L170.2,168.3 194.6,168.3 194.6,139.0 218.9,139.0 218.9,121.1 243.2,121.1 243.2,113.0 267.6,113.0 267.6,112.9 291.9,112.9 291.9,123.8 316.2,123.8 316.2,137.4 340.6,137.4 340.6,154.1 364.9,154.1 364.9,170.6 389.2,170.6 389.2,186.0 413.6,186.0 413.6,200.1 437.9,200.1 437.9,212.2 462.2,212.2 462.2,221.6 486.6,221.6 486.6,228.4 510.9,228.4 510.9,233.9 535.2,233.9 535.2,237.7 559.6,237.7 559.6,240.2 583.9,240.2 583.9,241.7 608.2,241.7 608.2,242.8 632.6,242.8 632.6,243.5 656.9,243.5 656.9,243.9 681.2,243.9 681.2,244.1 705.6,244.1 705.6,244.3 729.9,244.3 729.9,244.4 754.2,244.4" fill="none" stroke="#25838e" stroke-width="3.10" stroke-opacity="0.500" stroke-linejoin="round"/>
<path d="M170.3,208.4L170.3,168.0 194.6,168.0 194.6,138.6 218.9,138.6 218.9,120.8 243.3,120.8 243.3,112.9 267.6,112.9 267.6,112.9 291.9,112.9 291.9,124.0 316.3,124.0 316.3,137.6 340.6,137.6 340.6,154.3 364.9,154.3 364.9,170.8 389.3,170.8 389.3,186.2 413.6,186.2 413.6,200.3 437.9,200.3 437.9,212.3 462.3,212.3 462.3,221.6 486.6,221.6 486.6,228.5 510.9,228.5 510.9,234.0 535.3,234.0 535.3,237.7 559.6,237.7 559.6,240.2 583.9,240.2 583.9,241.7 608.3,241.7 608.3,242.8 632.6,242.8 632.6,243.5 656.9,243.5 656.9,243.9 681.3,243.9 681.3,244.1 705.6,244.1 705.6,244.3 729.9,244.3 729.9,244.4 754.3,244.4" fill="none" stroke="#25858e" stroke-width="3.10" stroke-opacity="0.500" stroke-linejoin="round"/>
<path d="M170.3,207.8L170.3,167.1 194.7,167.1 194.7,138.0 219.0,138.0 219.0,120.5 243.3,120.5 243.3,112.9 267.7,112.9 267.7,113.2 292.0,113.2 292.0,124.4 316.3,124.4 316.3,138.1 340.7,138.1 340.7,154.8 365.0,154.8 365.0,171.2 389.3,171.2 389.3,186.5 413.7,186.5 413.7,200.4 438.0,200.4 438.0,212.4 462.3,212.4 462.3,221.6 486.7,221.6 486.7,228.5 511.0,228.5 511.0,233.9 535.3,233.9 535.3,237.6 559.7,237.6 559.7,240.2 584.0,240.2 584.0,241.7 608.3,241.7 608.3,242.8 632.7,242.8 632.7,243.5 657.0,243.5 657.0,243.9 681.3,243.9 681.3,244.1 705.7,244.1 705.7,244.3 730.0,244.3 730.0,244.4 754.3,244.4" fill="none" stroke="#24878e" stroke-width="3.10" stroke-opacity="0.500" stroke-linejoin="round"/>
<path d="M170.4,207.2L170.4,166.3 194.7,166.3 194.7,137.3 219.0,137.3 219.0,120.2 243.4,120.2 243.4,113.0 267.7,113.0 267.7,113.5 292.0,113.5 292.0,124.9 316.4,124.9 316.4,138.6 340.7,138.6 340.7,155.2 365.0,155.2 365.0,171.5 389.4,171.5 389.4,186.7 413.7,186.7 413.7,200.6 438.0,200.6 438.0,212.5 462.4,212.5 462.4,221.7 486.7,221.7 486.7,228.5 511.0,228.5 511.0,233.9 535.4,233.9 535.4,237.6 559.7,237.6 559.7,240.1 584.0,240.1 584.0,241.7 608.4,241.7 608.4,242.8 632.7,242.8 632.7,243.5 657.0,243.5 657.0,243.9 681.4,243.9 681.4,244.1 705.7,244.1 705.7,244.3 730.0,244.3 730.0,244.4 754.4,244.4" fill="none" stroke="#238a8d" stroke-width="3.10" stroke-opacity="0.500" stroke-linejoin="round"/>
<path d="M170.4,206.5L170.4,165.5 194.8,165.5 194.8,136.7 219.1,136.7 219.1,119.9 243.4,119.9 243.4,113.0 267.8,113.0 267.8,113.8 292.1,113.8 292.1,125.3 316.4,125.3 316.4,139.1 340.8,139.1 340.8,155.7 365.1,155.7 365.1,171.9 389.4,171.9 389.4,187.0 413.8,187.0 413.8,200.7 438.1,200.7 438.1,212.5 462.4,212.5 462.4,221.7 486.8,221.7 486.8,228.5 511.1,228.5 511.1,233.9 535.4,233.9 535.4,237.6 559.8,237.6 559.8,240.1 584.1,240.1 584.1,241.7 608.4,241.7 608.4,242.8 632.8,242.8 632.8,243.4 657.1,243.4 657.1,243.9 681.4,243.9 681.4,244.1 705.8,244.1 705.8,244.3 730.1,244.3 730.1,244.4 754.4,244.4" fill="none" stroke="#228c8d" stroke-width="3.10" stroke-opacity="0.500" stroke-linejoin="round"/>
<path d="M170.5,205.9L170.5,164.7 194.8,164.7 194.8,136.0 219.1,136.0 219.1,119.6 243.5,119.6 243.5,113.0 267.8,113.0 267.8,114.2 292.1,114.2 292.1,125.8 316.5,125.8 316.5,139.6 340.8,139.6 340.8,156.1 365.1,156.1 365.1,172.2 389.5,172.2 389.5,187.2 413.8,187.2 413.8,200.9 438.1,200.9 438.1,212.6 462.5,212.6 462.5,221.7 486.8,221.7 486.8,228.4 511.1,228.4 511.1,233.9 535.5,233.9 535.5,237.6 559.8,237.6 559.8,240.1 584.1,240.1 584.1,241.6 608.5,241.6 608.5,242.7 632.8,242.7 632.8,243.4 657.1,243.4 657.1,243.9 681.5,243.9 681.5,244.1 705.8,244.1 705.8,244.3 730.1,244.3 730.1,244.4 754.5,244.4" fill="none" stroke="#218e8d" stroke-width="3.10" stroke-opacity="0.500" stroke-linejoin="round"/>
<path d="M170.5,205.2L170.5,163.8 194.9,163.8 194.9,135.4 219.2,135.4 219.2,119.3 243.5,119.3 243.5,113.1 267.9,113.1 267.9,114.5 292.2,114.5 292.2,126.2 316.5,126.2 316.5,140.1 340.9,140.1 340.9,156.5 365.2,156.5 365.2,172.6 389.5,172.6 389.5,187.4 413.9,187.4 413.9,201.0 438.2,201.0 438.2,212.7 462.5,212.7 462.5,221.7 486.9,221.7 486.9,228.4 511.2,228.4 511.2,233.9 535.5,233.9 535.5,237.6 559.9,237.6 559.9,240.1 584.2,240.1 584.2,241.6 608.5,241.6 608.5,242.7 632.9,242.7 632.9,243.4 657.2,243.4 657.2,243.8 681.5,243.8 681.5,244.1 705.9,244.1 705.9,244.3 730.2,244.3 730.2,244.4 754.5,244.4" fill="none" stroke="#21908d" stroke-width="3.10" stroke-opacity="0.500" stroke-linejoin="round"/>
<path d="M170.6,204.5L170.6,163.0 194.9,163.0 194.9,134.7 219.3,134.7 219.3,119.0 243.6,119.0 243.6,113.1 267.9,113.1 267.9,114.8 292.2,114.8 292.2,126.7 316.6,126.7 316.6,140.6 340.9,140.6 340.9,157.0 365.2,157.0 365.2,172.9 389.6,172.9 389.6,187.7 413.9,187.7 413.9,201.2 438.2,201.2 438.2,212.8 462.6,212.8 462.6,221.8 486.9,221.8 486.9,228.4 511.2,228.4 511.2,233.8 535.6,233.8 535.6,237.5 559.9,237.5 559.9,240.1 584.2,240.1 584.2,241.6 608.6,241.6 608.6,242.7 632.9,242.7 632.9,243.4 657.2,243.4 657.2,243.8 681.6,243.8 681.6,244.1 705.9,244.1 705.9,244.3 730.2,244.3 730.2,244.4 754.6,244.4" fill="none" stroke="#20928c" stroke-width="3.10" stroke-opacity="0.500" stroke-linejoin="round"/>
<path d="M170.6,203.8L170.6,162.1 195.0,162.1 195.0,134.1 219.3,134.1 219.3,118.7 243.6,118.7 243.6,113.2 268.0,113.2 268.0,115.1 292.3,115.1 292.3,127.2 316.6,127.2 316.6,141.0 341.0,141.0 341.0,157.4 365.3,157.4 365.3,173.3 389.6,173.3 389.6,187.9 414.0,187.9 414.0,201.3 438.3,201.3 438.3,212.8 462.6,212.8 462.6,221.8 487.0,221.8 487.0,228.4 511.3,228.4 511.3,233.8 535.6,233.8 535.6,237.5 560.0,237.5 560.0,240.0 584.3,240.0 584.3,241.6 608.6,241.6 608.6,242.7 633.0,242.7 633.0,243.4 657.3,243.4 657.3,243.8 681.6,243.8 681.6,244.1 706.0,244.1 706.0,244.2 730.3,244.2 730.3,244.4 754.6,244.4" fill="none" stroke="#20938c" stroke-width="3.10" stroke-opacity="0.500" stroke-linejoin="round"/>
<path d="M170.7,203.1L170.7,161.3 195.0,161.3 195.0,133.4 219.4,133.4 219.4,118.4 243.7,118.4 243.7,113.3 268.0,113.3 268.0,115.5 292.4,115.5 292.4,127.6 316.7,127.6 316.7,141.5 341.0,141.5 341.0,157.8 365.4,157.8 365.4,173.6 389.7,173.6 389.7,188.2 414.0,188.2 414.0,201.5 438.4,201.5 438.4,212.9 462.7,212.9 462.7,221.8 487.0,221.8 487.0,228.4 511.3,228.4 511.3,233.8 535.7,233.8 535.7,237.5 560.0,237.5 560.0,240.0 584.3,240.0 584.3,241.6 608.7,241.6 608.7,242.7 633.0,242.7 633.0,243.4 657.3,243.4 657.3,243.8 681.7,243.8 681.7,244.1 706.0,244.1 706.0,244.2 730.3,244.2 730.3,244.4 754.7,244.4" fill="none" stroke="#1f958b" stroke-width="3.10" stroke-opacity="0.500" stroke-linejoin="round"/>
<path d="M170.7,202.4L170.7,160.4 195.1,160.4 195.1,132.8 219.4,132.8 219.4,118.1 243.7,118.1 243.7,113.3 268.1,113.3 268.1,115.8 292.4,115.8 292.4,128.1 316.7,128.1 316.7,142.0 341.1,142.0 341.1,158.3 365.4,158.3 365.4,173.9 389.7,173.9 389.7,188.4 414.1,188.4 414.1,201.6 438.4,201.6 438.4,213.0 462.7,213.0 462.7,221.8 487.1,221.8 487.1,228.4 511.4,228.4 511.4,233.8 535.7,233.8 535.7,237.5 560.1,237.5 560.1,240.0 584.4,240.0 584.4,241.5 608.7,241.5 608.7,242.7 633.1,242.7 633.1,243.4 657.4,243.4 657.4,243.8 681.7,243.8 681.7,244.1 706.1,244.1 706.1,244.2 730.4,244.2 730.4,244.4 754.7,244.4" fill="none" stroke="#1f988b" stroke-width="3.10" stroke-opacity="0.500" stroke-linejoin="round"/>
<path d="M170.8,201.7L170.8,159.6 195.1,159.6 195.1,132.2 219.5,132.2 219.5,117.8 243.8,117.8 243.8,113.4 268.1,113.4 268.1,116.1 292.5,116.1 292.5,128.6 316.8,128.6 316.8,142.5 341.1,142.5 341.1,158.7 365.5,158.7 365.5,174.3 389.8,174.3 389.8,188.6 414.1,188.6 414.1,201.8 438.5,201.8 438.5,213.0 462.8,213.0 462.8,221.9 487.1,221.9 487.1,228.4 511.5,228.4 511.5,233.8 535.8,233.8 535.8,237.4 560.1,237.4 560.1,240.0 584.5,240.0 584.5,241.5 608.8,241.5 608.8,242.7 633.1,242.7 633.1,243.4 657.4,243.4 657.4,243.8 681.8,243.8 681.8,244.1 706.1,244.1 706.1,244.2 730.4,244.2 730.4,244.4 754.8,244.4" fill="none" stroke="#1f9a8a" stroke-width="3.10" stroke-opacity="0.500" stroke-linejoin="round"/>
<path d="M170.8,200.9L170.8,158.7 195.2,158.7 195.2,131.5 219.5,131.5 219.5,117.6 243.8,117.6 243.8,113.5 268.2,113.5 268.2,116.5 292.5,116.5 292.5,129.0 316.8,129.0 316.8,143.0 341.2,143.0 341.2,159.1 365.5,159.1 365.5,174.6 389.8,174.6 389.8,188.9 414.2,188.9 414.2,201.9 438.5,201.9 438.5,213.1 462.8,213.1 462.8,221.9 487.2,221.9 487.2,228.4 511.5,228.4 511.5,233.8 535.8,233.8 535.8,237.4 560.2,237.4 560.2,239.9 584.5,239.9 584.5,241.5 608.8,241.5 608.8,242.6 633.2,242.6 633.2,243.4 657.5,243.4 657.5,243.8 681.8,243.8 681.8,244.1 706.2,244.1 706.2,244.2 730.5,244.2 730.5,244.4 754.8,244.4" fill="none" stroke="#1e9c89" stroke-width="3.10" stroke-opacity="0.500" stroke-linejoin="round"/>
<path d="M170.9,200.2L170.9,157.8 195.2,157.8 195.2,130.9 219.6,130.9 219.6,117.3 243.9,117.3 243.9,113.6 268.2,113.6 268.2,116.8 292.6,116.8 292.6,129.5 316.9,129.5 316.9,143.5 341.2,143.5 341.2,159.6 365.6,159.6 365.6,175.0 389.9,175.0 389.9,189.1 414.2,189.1 414.2,202.0 438.6,202.0 438.6,213.2 462.9,213.2 462.9,221.9 487.2,221.9 487.2,228.4 511.6,228.4 511.6,233.7 535.9,233.7 535.9,237.4 560.2,237.4 560.2,239.9 584.6,239.9 584.6,241.5 608.9,241.5 608.9,242.6 633.2,242.6 633.2,243.4 657.6,243.4 657.6,243.8 681.9,243.8 681.9,244.1 706.2,244.1 706.2,244.2 730.6,244.2 730.6,244.4 754.9,244.4" fill="none" stroke="#1f9e89" stroke-width="3.10" stroke-opacity="0.500" stroke-linejoin="round"/>
<path d="M170.9,199.4L170.9,156.9 195.3,156.9 195.3,130.3 219.6,130.3 219.6,117.0 243.9,117.0 243.9,113.7 268.3,113.7 268.3,117.2 292.6,117.2 292.6,130.0 316.9,130.0 316.9,144.0 341.3,144.0 341.3,160.0 365.6,160.0 365.6,175.3 389.9,175.3 389.9,189.3 414.3,189.3 414.3,202.2 438.6,202.2 438.6,213.3 462.9,213.3 462.9,221.9 487.3,221.9 487.3,228.4 511.6,228.4 511.6,233.7 535.9,233.7 535.9,237.4 560.3,237.4 560.3,239.9 584.6,239.9 584.6,241.5 608.9,241.5 608.9,242.6 633.3,242.6 633.3,243.3 657.6,243.3 657.6,243.8 681.9,243.8 681.9,244.0 706.3,244.0 706.3,244.2 730.6,244.2 730.6,244.4 754.9,244.4" fill="none" stroke="#1fa088" stroke-width="3.10" stroke-opacity="0.500" stroke-linejoin="round"/>
<path d="M171.0,198.6L171.0,156.1 195.3,156.1 195.3,129.6 219.7,129.6 219.7,116.8 244.0,116.8 244.0,113.8 268.3,113.8 268.3,117.5 292.7,117.5 292.7,130.5 317.0,130.5 317.0,144.5 341.3,144.5 341.3,160.4 365.7,160.4 365.7,175.6 390.0,175.6 390.0,189.6 414.3,189.6 414.3,202.3 438.7,202.3 438.7,213.3 463.0,213.3 463.0,222.0 487.3,222.0 487.3,228.4 511.7,228.4 511.7,233.7 536.0,233.7 536.0,237.4 560.3,237.4 560.3,239.9 584.7,239.9 584.7,241.5 609.0,241.5 609.0,242.6 633.3,242.6 633.3,243.3 657.7,243.3 657.7,243.8 682.0,243.8 682.0,244.0 706.3,244.0 706.3,244.2 730.7,244.2 730.7,244.4 755.0,244.4" fill="none" stroke="#1fa187" stroke-width="3.10" stroke-opacity="0.500" stroke-linejoin="round"/>
<path d="M171.0,197.9L171.0,155.2 195.4,155.2 195.4,129.0 219.7,129.0 219.7,116.5 244.0,116.5 244.0,113.9 268.4,113.9 268.4,117.9 292.7,117.9 292.7,130.9 317.0,130.9 317.0,145.0 341.4,145.0 341.4,160.9 365.7,160.9 365.7,176.0 390.0,176.0 390.0,189.8 414.4,189.8 414.4,202.5 438.7,202.5 438.7,213.4 463.0,213.4 463.0,222.0 487.4,222.0 487.4,228.4 511.7,228.4 511.7,233.7 536.0,233.7 536.0,237.3 560.4,237.3 560.4,239.9 584.7,239.9 584.7,241.4 609.0,241.4 609.0,242.6 633.4,242.6 633.4,243.3 657.7,243.3 657.7,243.8 682.0,243.8 682.0,244.0 706.4,244.0 706.4,244.2 730.7,244.2 730.7,244.4 755.0,244.4" fill="none" stroke="#20a486" stroke-width="3.10" stroke-opacity="0.500" stroke-linejoin="round"/>
<path d="M171.1,197.1L171.1,154.3 195.4,154.3 195.4,128.4 219.8,128.4 219.8,116.3 244.1,116.3 244.1,114.0 268.4,114.0 268.4,118.3 292.8,118.3 292.8,131.4 317.1,131.4 317.1,145.5 341.4,145.5 341.4,161.3 365.8,161.3 365.8,176.3 390.1,176.3 390.1,190.1 414.4,190.1 414.4,202.6 438.8,202.6 438.8,213.5 463.1,213.5 463.1,222.0 487.4,222.0 487.4,228.4 511.8,228.4 511.8,233.7 536.1,233.7 536.1,237.3 560.4,237.3 560.4,239.8 584.8,239.8 584.8,241.4 609.1,241.4 609.1,242.6 633.4,242.6 633.4,243.3 657.8,243.3 657.8,243.8 682.1,243.8 682.1,244.0 706.4,244.0 706.4,244.2 730.8,244.2 730.8,244.4 755.1,244.4" fill="none" stroke="#21a685" stroke-width="3.10" stroke-opacity="0.500" stroke-linejoin="round"/>
<path d="M171.1,196.2L171.1,153.4 195.5,153.4 195.5,127.7 219.8,127.7 219.8,116.1 244.1,116.1 244.1,114.1 268.5,114.1 268.5,118.6 292.8,118.6 292.8,131.9 317.1,131.9 317.1,146.0 341.5,146.0 341.5,161.7 365.8,161.7 365.8,176.6 390.1,176.6 390.1,190.3 414.5,190.3 414.5,202.8 438.8,202.8 438.8,213.6 463.1,213.6 463.1,222.1 487.5,222.1 487.5,228.4 511.8,228.4 511.8,233.7 536.1,233.7 536.1,237.3 560.5,237.3 560.5,239.8 584.8,239.8 584.8,241.4 609.1,241.4 609.1,242.5 633.5,242.5 633.5,243.3 657.8,243.3 657.8,243.8 682.1,243.8 682.1,244.0 706.5,244.0 706.5,244.2 730.8,244.2 730.8,244.4 755.1,244.4" fill="none" stroke="#22a884" stroke-width="3.10" stroke-opacity="0.500" stroke-linejoin="round"/>
<path d="M171.2,195.4L171.2,152.5 195.5,152.5 195.5,127.1 219.9,127.1 219.9,115.9 244.2,115.9 244.2,114.3 268.5,114.3 268.5,119.0 292.9,119.0 292.9,132.4 317.2,132.4 317.2,146.4 341.5,146.4 341.5,162.1 365.9,162.1 365.9,177.0 390.2,177.0 390.2,190.5 414.5,190.5 414.5,202.9 438.9,202.9 438.9,213.6 463.2,213.6 463.2,222.1 487.5,222.1 487.5,228.4 511.9,228.4 511.9,233.6 536.2,233.6 536.2,237.3 560.5,237.3 560.5,239.8 584.9,239.8 584.9,241.4 609.2,241.4 609.2,242.5 633.5,242.5 633.5,243.3 657.9,243.3 657.9,243.7 682.2,243.7 682.2,244.0 706.5,244.0 706.5,244.2 730.9,244.2 730.9,244.4 755.2,244.4" fill="none" stroke="#24aa83" stroke-width="3.10" stroke-opacity="0.500" stroke-linejoin="round"/>
<path d="M171.3,194.6L171.3,151.5 195.6,151.5 195.6,126.5 219.9,126.5 219.9,115.6 244.3,115.6 244.3,114.4 268.6,114.4 268.6,119.4 292.9,119.4 292.9,132.9 317.2,132.9 317.2,146.9 341.6,146.9 341.6,162.6 365.9,162.6 365.9,177.3 390.2,177.3 390.2,190.8 414.6,190.8 414.6,203.1 438.9,203.1 438.9,213.7 463.2,213.7 463.2,222.1 487.6,222.1 487.6,228.4 511.9,228.4 511.9,233.6 536.2,233.6 536.2,237.2 560.6,237.2 560.6,239.8 584.9,239.8 584.9,241.4 609.2,241.4 609.2,242.5 633.6,242.5 633.6,243.3 657.9,243.3 657.9,243.7 682.2,243.7 682.2,244.0 706.6,244.0 706.6,244.2 730.9,244.2 730.9,244.4 755.2,244.4" fill="none" stroke="#25ac82" stroke-width="3.10" stroke-opacity="0.500" stroke-linejoin="round"/>
<path d="M171.3,193.7L171.3,150.6 195.6,150.6 195.6,125.9 220.0,125.9 220.0,115.4 244.3,115.4 244.3,114.5 268.6,114.5 268.6,119.8 293.0,119.8 293.0,133.3 317.3,133.3 317.3,147.4 341.6,147.4 341.6,163.0 366.0,163.0 366.0,177.6 390.3,177.6 390.3,191.0 414.6,191.0 414.6,203.2 439.0,203.2 439.0,213.8 463.3,213.8 463.3,222.1 487.6,222.1 487.6,228.4 512.0,228.4 512.0,233.6 536.3,233.6 536.3,237.2 560.6,237.2 560.6,239.8 585.0,239.8 585.0,241.3 609.3,241.3 609.3,242.5 633.6,242.5 633.6,243.3 658.0,243.3 658.0,243.7 682.3,243.7 682.3,244.0 706.6,244.0 706.6,244.2 731.0,244.2 731.0,244.4 755.3,244.4" fill="none" stroke="#27ad81" stroke-width="3.10" stroke-opacity="0.500" stroke-linejoin="round"/>
<path d="M171.4,192.8L171.4,149.7 195.7,149.7 195.7,125.3 220.0,125.3 220.0,115.2 244.4,115.2 244.4,114.7 268.7,114.7 268.7,120.2 293.0,120.2 293.0,133.8 317.4,133.8 317.4,147.9 341.7,147.9 341.7,163.4 366.0,163.4 366.0,178.0 390.4,178.0 390.4,191.2 414.7,191.2 414.7,203.4 439.0,203.4 439.0,213.9 463.4,213.9 463.4,222.2 487.7,222.2 487.7,228.4 512.0,228.4 512.0,233.6 536.3,233.6 536.3,237.2 560.7,237.2 560.7,239.7 585.0,239.7 585.0,241.3 609.3,241.3 609.3,242.5 633.7,242.5 633.7,243.2 658.0,243.2 658.0,243.7 682.3,243.7 682.3,244.0 706.7,244.0 706.7,244.2 731.0,244.2 731.0,244.4 755.3,244.4" fill="none" stroke="#2ab07f" stroke-width="3.10" stroke-opacity="0.500" stroke-linejoin="round"/>
<path d="M171.4,192.0L171.4,148.8 195.7,148.8 195.7,124.7 220.1,124.7 220.1,115.0 244.4,115.0 244.4,114.8 268.7,114.8 268.7,120.5 293.1,120.5 293.1,134.3 317.4,134.3 317.4,148.4 341.7,148.4 341.7,163.8 366.1,163.8 366.1,178.3 390.4,178.3 390.4,191.5 414.7,191.5 414.7,203.5 439.1,203.5 439.1,213.9 463.4,213.9 463.4,222.2 487.7,222.2 487.7,228.4 512.1,228.4 512.1,233.6 536.4,233.6 536.4,237.2 560.7,237.2 560.7,239.7 585.1,239.7 585.1,241.3 609.4,241.3 609.4,242.5 633.7,242.5 633.7,243.2 658.1,243.2 658.1,243.7 682.4,243.7 682.4,244.0 706.7,244.0 706.7,244.2 731.1,244.2 731.1,244.4 755.4,244.4" fill="none" stroke="#2db27d" stroke-width="3.10" stroke-opacity="0.500" stroke-linejoin="round"/>
<path d="M171.5,191.1L171.5,147.8 195.8,147.8 195.8,124.1 220.1,124.1 220.1,114.8 244.5,114.8 244.5,115.0 268.8,115.0 268.8,120.9 293.1,120.9 293.1,134.8 317.5,134.8 317.5,148.9 341.8,148.9 341.8,164.3 366.1,164.3 366.1,178.6 390.5,178.6 390.5,191.7 414.8,191.7 414.8,203.6 439.1,203.6 439.1,214.0 463.5,214.0 463.5,222.2 487.8,222.2 487.8,228.4 512.1,228.4 512.1,233.5 536.5,233.5 536.5,237.2 560.8,237.2 560.8,239.7 585.1,239.7 585.1,241.3 609.5,241.3 609.5,242.5 633.8,242.5 633.8,243.2 658.1,243.2 658.1,243.7 682.5,243.7 682.5,244.0 706.8,244.0 706.8,244.2 731.1,244.2 731.1,244.3 755.4,244.3" fill="none" stroke="#2fb47c" stroke-width="3.10" stroke-opacity="0.500" stroke-linejoin="round"/>
<path d="M171.5,190.2L171.5,146.9 195.8,146.9 195.8,123.5 220.2,123.5 220.2,114.6 244.5,114.6 244.5,115.1 268.8,115.1 268.8,121.3 293.2,121.3 293.2,135.3 317.5,135.3 317.5,149.4 341.8,149.4 341.8,164.7 366.2,164.7 366.2,179.0 390.5,179.0 390.5,191.9 414.8,191.9 414.8,203.8 439.2,203.8 439.2,214.1 463.5,214.1 463.5,222.3 487.8,222.3 487.8,228.4 512.2,228.4 512.2,233.5 536.5,233.5 536.5,237.1 560.8,237.1 560.8,239.7 585.2,239.7 585.2,241.3 609.5,241.3 609.5,242.4 633.8,242.4 633.8,243.2 658.2,243.2 658.2,243.7 682.5,243.7 682.5,244.0 706.8,244.0 706.8,244.2 731.2,244.2 731.2,244.3 755.5,244.3" fill="none" stroke="#32b67a" stroke-width="3.10" stroke-opacity="0.500" stroke-linejoin="round"/>
<path d="M171.6,189.2L171.6,146.0 195.9,146.0 195.9,122.9 220.2,122.9 220.2,114.5 244.6,114.5 244.6,115.3 268.9,115.3 268.9,121.7 293.2,121.7 293.2,135.8 317.6,135.8 317.6,149.9 341.9,149.9 341.9,165.1 366.2,165.1 366.2,179.3 390.6,179.3 390.6,192.2 414.9,192.2 414.9,203.9 439.2,203.9 439.2,214.2 463.6,214.2 463.6,222.3 487.9,222.3 487.9,228.4 512.2,228.4 512.2,233.5 536.6,233.5 536.6,237.1 560.9,237.1 560.9,239.6 585.2,239.6 585.2,241.2 609.6,241.2 609.6,242.4 633.9,242.4 633.9,243.2 658.2,243.2 658.2,243.7 682.6,243.7 682.6,244.0 706.9,244.0 706.9,244.2 731.2,244.2 731.2,244.3 755.6,244.3" fill="none" stroke="#35b779" stroke-width="3.10" stroke-opacity="0.500" stroke-linejoin="round"/>
<path d="M171.6,188.3L171.6,145.0 195.9,145.0 195.9,122.3 220.3,122.3 220.3,114.3 244.6,114.3 244.6,115.5 268.9,115.5 268.9,122.1 293.3,122.1 293.3,136.3 317.6,136.3 317.6,150.3 341.9,150.3 341.9,165.5 366.3,165.5 366.3,179.6 390.6,179.6 390.6,192.4 414.9,192.4 414.9,204.1 439.3,204.1 439.3,214.3 463.6,214.3 463.6,222.3 487.9,222.3 487.9,228.4 512.3,228.4 512.3,233.5 536.6,233.5 536.6,237.1 560.9,237.1 560.9,239.6 585.3,239.6 585.3,241.2 609.6,241.2 609.6,242.4 633.9,242.4 633.9,243.2 658.3,243.2 658.3,243.7 682.6,243.7 682.6,244.0 706.9,244.0 706.9,244.1 731.3,244.1 731.3,244.3 755.6,244.3" fill="none" stroke="#38b977" stroke-width="3.10" stroke-opacity="0.500" stroke-linejoin="round"/>
<path d="M171.7,187.3L171.7,144.1 196.0,144.1 196.0,121.7 220.3,121.7 220.3,114.1 244.7,114.1 244.7,115.7 269.0,115.7 269.0,122.5 293.3,122.5 293.3,136.8 317.7,136.8 317.7,150.8 342.0,150.8 342.0,166.0 366.3,166.0 366.3,180.0 390.7,180.0 390.7,192.6 415.0,192.6 415.0,204.2 439.3,204.2 439.3,214.3 463.7,214.3 463.7,222.3 488.0,222.3 488.0,228.4 512.3,228.4 512.3,233.5 536.7,233.5 536.7,237.1 561.0,237.1 561.0,239.6 585.3,239.6 585.3,241.2 609.7,241.2 609.7,242.4 634.0,242.4 634.0,243.2 658.3,243.2 658.3,243.7 682.7,243.7 682.7,244.0 707.0,244.0 707.0,244.1 731.3,244.1 731.3,244.3 755.7,244.3" fill="none" stroke="#3dbc74" stroke-width="3.10" stroke-opacity="0.500" stroke-linejoin="round"/>
<path d="M171.7,186.4L171.7,143.1 196.0,143.1 196.0,121.1 220.4,121.1 220.4,114.0 244.7,114.0 244.7,115.9 269.0,115.9 269.0,122.9 293.4,122.9 293.4,137.3 317.7,137.3 317.7,151.3 342.0,151.3 342.0,166.4 366.4,166.4 366.4,180.3 390.7,180.3 390.7,192.9 415.0,192.9 415.0,204.4 439.4,204.4 439.4,214.4 463.7,214.4 463.7,222.4 488.0,222.4 488.0,228.4 512.4,228.4 512.4,233.5 536.7,233.5 536.7,237.0 561.0,237.0 561.0,239.6 585.4,239.6 585.4,241.2 609.7,241.2 609.7,242.4 634.0,242.4 634.0,243.2 658.4,243.2 658.4,243.7 682.7,243.7 682.7,243.9 707.0,243.9 707.0,244.1 731.4,244.1 731.4,244.3 755.7,244.3" fill="none" stroke="#40bd72" stroke-width="3.10" stroke-opacity="0.500" stroke-linejoin="round"/>
<path d="M171.8,185.4L171.8,142.2 196.1,142.2 196.1,120.5 220.4,120.5 220.4,113.8 244.8,113.8 244.8,116.1 269.1,116.1 269.1,123.4 293.4,123.4 293.4,137.7 317.8,137.7 317.8,151.8 342.1,151.8 342.1,166.8 366.4,166.8 366.4,180.6 390.8,180.6 390.8,193.1 415.1,193.1 415.1,204.5 439.4,204.5 439.4,214.5 463.8,214.5 463.8,222.4 488.1,222.4 488.1,228.4 512.4,228.4 512.4,233.4 536.8,233.4 536.8,237.0 561.1,237.0 561.1,239.6 585.4,239.6 585.4,241.2 609.8,241.2 609.8,242.4 634.1,242.4 634.1,243.1 658.4,243.1 658.4,243.6 682.8,243.6 682.8,243.9 707.1,243.9 707.1,244.1 731.4,244.1 731.4,244.3 755.8,244.3" fill="none" stroke="#44bf70" stroke-width="3.10" stroke-opacity="0.500" stroke-linejoin="round"/>
<path d="M171.8,184.4L171.8,141.4 196.1,141.4 196.1,120.2 220.5,120.2 220.5,114.0 244.8,114.0 244.8,116.5 269.1,116.5 269.1,123.9 293.5,123.9 293.5,138.3 317.8,138.3 317.8,152.2 342.1,152.2 342.1,167.1 366.5,167.1 366.5,180.8 390.8,180.8 390.8,193.2 415.1,193.2 415.1,204.5 439.5,204.5 439.5,214.4 463.8,214.4 463.8,222.3 488.1,222.3 488.1,228.3 512.5,228.3 512.5,233.4 536.8,233.4 536.8,236.9 561.1,236.9 561.1,239.5 585.5,239.5 585.5,241.1 609.8,241.1 609.8,242.3 634.1,242.3 634.1,243.1 658.5,243.1 658.5,243.6 682.8,243.6 682.8,243.9 707.1,243.9 707.1,244.1 731.5,244.1 731.5,244.3 755.8,244.3" fill="none" stroke="#48c16e" stroke-width="3.10" stroke-opacity="0.500" stroke-linejoin="round"/>
<path d="M171.9,183.4L171.9,140.6 196.2,140.6 196.2,119.9 220.5,119.9 220.5,114.1 244.9,114.1 244.9,116.9 269.2,116.9 269.2,124.4 293.5,124.4 293.5,138.8 317.9,138.8 317.9,152.7 342.2,152.7 342.2,167.4 366.5,167.4 366.5,181.0 390.9,181.0 390.9,193.3 415.2,193.3 415.2,204.5 439.5,204.5 439.5,214.4 463.9,214.4 463.9,222.2 488.2,222.2 488.2,228.2 512.5,228.2 512.5,233.3 536.9,233.3 536.9,236.9 561.2,236.9 561.2,239.4 585.5,239.4 585.5,241.1 609.9,241.1 609.9,242.3 634.2,242.3 634.2,243.1 658.5,243.1 658.5,243.6 682.9,243.6 682.9,243.9 707.2,243.9 707.2,244.1 731.5,244.1 731.5,244.3 755.9,244.3" fill="none" stroke="#4cc26c" stroke-width="3.10" stroke-opacity="0.500" stroke-linejoin="round"/>
<path d="M171.9,182.3L171.9,139.8 196.3,139.8 196.3,119.7 220.6,119.7 220.6,114.3 244.9,114.3 244.9,117.3 269.3,117.3 269.3,125.0 293.6,125.0 293.6,139.3 317.9,139.3 317.9,153.1 342.3,153.1 342.3,167.7 366.6,167.7 366.6,181.2 390.9,181.2 390.9,193.3 415.2,193.3 415.2,204.5 439.6,204.5 439.6,214.3 463.9,214.3 463.9,222.2 488.2,222.2 488.2,228.1 512.6,228.1 512.6,233.2 536.9,233.2 536.9,236.8 561.2,236.8 561.2,239.4 585.6,239.4 585.6,241.0 609.9,241.0 609.9,242.2 634.2,242.2 634.2,243.1 658.6,243.1 658.6,243.6 682.9,243.6 682.9,243.9 707.2,243.9 707.2,244.1 731.6,244.1 731.6,244.3 755.9,244.3" fill="none" stroke="#50c46a" stroke-width="3.10" stroke-opacity="0.500" stroke-linejoin="round"/>
<path d="M172.0,181.3L172.0,139.0 196.3,139.0 196.3,119.4 220.6,119.4 220.6,114.4 245.0,114.4 245.0,117.7 269.3,117.7 269.3,125.5 293.6,125.5 293.6,139.9 318.0,139.9 318.0,153.6 342.3,153.6 342.3,168.1 366.6,168.1 366.6,181.4 391.0,181.4 391.0,193.4 415.3,193.4 415.3,204.5 439.6,204.5 439.6,214.3 464.0,214.3 464.0,222.1 488.3,222.1 488.3,228.0 512.6,228.0 512.6,233.1 537.0,233.1 537.0,236.7 561.3,236.7 561.3,239.3 585.6,239.3 585.6,241.0 610.0,241.0 610.0,242.2 634.3,242.2 634.3,243.0 658.6,243.0 658.6,243.6 683.0,243.6 683.0,243.9 707.3,243.9 707.3,244.1 731.6,244.1 731.6,244.3 756.0,244.3" fill="none" stroke="#54c568" stroke-width="3.10" stroke-opacity="0.500" stroke-linejoin="round"/>
<path d="M172.0,180.2L172.0,138.3 196.4,138.3 196.4,119.1 220.7,119.1 220.7,114.6 245.0,114.6 245.0,118.2 269.4,118.2 269.4,126.1 293.7,126.1 293.7,140.4 318.0,140.4 318.0,154.0 342.4,154.0 342.4,168.4 366.7,168.4 366.7,181.6 391.0,181.6 391.0,193.5 415.4,193.5 415.4,204.5 439.7,204.5 439.7,214.2 464.0,214.2 464.0,222.0 488.4,222.0 488.4,227.9 512.7,227.9 512.7,233.0 537.0,233.0 537.0,236.7 561.4,236.7 561.4,239.3 585.7,239.3 585.7,240.9 610.0,240.9 610.0,242.2 634.3,242.2 634.3,243.0 658.7,243.0 658.7,243.5 683.0,243.5 683.0,243.9 707.3,243.9 707.3,244.1 731.7,244.1 731.7,244.3 756.0,244.3" fill="none" stroke="#5ac864" stroke-width="3.10" stroke-opacity="0.500" stroke-linejoin="round"/>
<path d="M172.1,179.2L172.1,137.5 196.4,137.5 196.4,118.8 220.7,118.8 220.7,114.7 245.1,114.7 245.1,118.6 269.4,118.6 269.4,126.6 293.7,126.6 293.7,140.9 318.1,140.9 318.1,154.4 342.4,154.4 342.4,168.7 366.7,168.7 366.7,181.8 391.1,181.8 391.1,193.6 415.4,193.6 415.4,204.5 439.7,204.5 439.7,214.2 464.1,214.2 464.1,221.9 488.4,221.9 488.4,227.9 512.7,227.9 512.7,232.9 537.1,232.9 537.1,236.6 561.4,236.6 561.4,239.2 585.7,239.2 585.7,240.9 610.1,240.9 610.1,242.1 634.4,242.1 634.4,243.0 658.7,243.0 658.7,243.5 683.1,243.5 683.1,243.8 707.4,243.8 707.4,244.1 731.7,244.1 731.7,244.3 756.1,244.3" fill="none" stroke="#5ec962" stroke-width="3.10" stroke-opacity="0.500" stroke-linejoin="round"/>
<path d="M172.1,178.1L172.1,136.7 196.5,136.7 196.5,118.6 220.8,118.6 220.8,114.9 245.1,114.9 245.1,119.0 269.5,119.0 269.5,127.2 293.8,127.2 293.8,141.4 318.1,141.4 318.1,154.9 342.5,154.9 342.5,169.0 366.8,169.0 366.8,182.0 391.1,182.0 391.1,193.7 415.5,193.7 415.5,204.6 439.8,204.6 439.8,214.1 464.1,214.1 464.1,221.9 488.5,221.9 488.5,227.8 512.8,227.8 512.8,232.9 537.1,232.9 537.1,236.5 561.5,236.5 561.5,239.1 585.8,239.1 585.8,240.8 610.1,240.8 610.1,242.1 634.5,242.1 634.5,243.0 658.8,243.0 658.8,243.5 683.1,243.5 683.1,243.8 707.5,243.8 707.5,244.1 731.8,244.1 731.8,244.3 756.1,244.3" fill="none" stroke="#63cb5f" stroke-width="3.10" stroke-opacity="0.500" stroke-linejoin="round"/>
<path d="M172.2,177.0L172.2,135.9 196.5,135.9 196.5,118.3 220.8,118.3 220.8,115.1 245.2,115.1 245.2,119.5 269.5,119.5 269.5,127.7 293.8,127.7 293.8,142.0 318.2,142.0 318.2,155.3 342.5,155.3 342.5,169.3 366.8,169.3 366.8,182.2 391.2,182.2 391.2,193.8 415.5,193.8 415.5,204.6 439.8,204.6 439.8,214.1 464.2,214.1 464.2,221.8 488.5,221.8 488.5,227.7 512.8,227.7 512.8,232.8 537.2,232.8 537.2,236.4 561.5,236.4 561.5,239.1 585.8,239.1 585.8,240.8 610.2,240.8 610.2,242.1 634.5,242.1 634.5,242.9 658.8,242.9 658.8,243.5 683.2,243.5 683.2,243.8 707.5,243.8 707.5,244.0 731.8,244.0 731.8,244.3 756.2,244.3" fill="none" stroke="#67cc5c" stroke-width="3.10" stroke-opacity="0.500" stroke-linejoin="round"/>
<path d="M172.2,175.9L172.2,135.2 196.6,135.2 196.6,118.1 220.9,118.1 220.9,115.2 245.2,115.2 245.2,119.9 269.6,119.9 269.6,128.3 293.9,128.3 293.9,142.5 318.2,142.5 318.2,155.8 342.6,155.8 342.6,169.7 366.9,169.7 366.9,182.4 391.2,182.4 391.2,193.9 415.6,193.9 415.6,204.6 439.9,204.6 439.9,214.1 464.2,214.1 464.2,221.7 488.6,221.7 488.6,227.6 512.9,227.6 512.9,232.7 537.2,232.7 537.2,236.4 561.6,236.4 561.6,239.0 585.9,239.0 585.9,240.7 610.2,240.7 610.2,242.0 634.6,242.0 634.6,242.9 658.9,242.9 658.9,243.5 683.2,243.5 683.2,243.8 707.6,243.8 707.6,244.0 731.9,244.0 731.9,244.3 756.2,244.3" fill="none" stroke="#6ccd5a" stroke-width="3.10" stroke-opacity="0.500" stroke-linejoin="round"/>
<path d="M172.3,174.7L172.3,134.4 196.6,134.4 196.6,117.8 220.9,117.8 220.9,115.4 245.3,115.4 245.3,120.4 269.6,120.4 269.6,128.8 293.9,128.8 293.9,143.0 318.3,143.0 318.3,156.2 342.6,156.2 342.6,170.0 366.9,170.0 366.9,182.6 391.3,182.6 391.3,194.0 415.6,194.0 415.6,204.6 439.9,204.6 439.9,214.0 464.3,214.0 464.3,221.6 488.6,221.6 488.6,227.5 512.9,227.5 512.9,232.6 537.3,232.6 537.3,236.3 561.6,236.3 561.6,238.9 585.9,238.9 585.9,240.7 610.3,240.7 610.3,242.0 634.6,242.0 634.6,242.9 658.9,242.9 658.9,243.4 683.3,243.4 683.3,243.8 707.6,243.8 707.6,244.0 731.9,244.0 731.9,244.2 756.3,244.2" fill="none" stroke="#70cf57" stroke-width="3.10" stroke-opacity="0.500" stroke-linejoin="round"/>
<path d="M172.3,173.6L172.3,133.6 196.7,133.6 196.7,117.6 221.0,117.6 221.0,115.6 245.3,115.6 245.3,120.8 269.7,120.8 269.7,129.4 294.0,129.4 294.0,143.5 318.3,143.5 318.3,156.6 342.7,156.6 342.7,170.3 367.0,170.3 367.0,182.8 391.3,182.8 391.3,194.1 415.7,194.1 415.7,204.6 440.0,204.6 440.0,214.0 464.3,214.0 464.3,221.6 488.7,221.6 488.7,227.4 513.0,227.4 513.0,232.5 537.3,232.5 537.3,236.2 561.7,236.2 561.7,238.9 586.0,238.9 586.0,240.6 610.3,240.6 610.3,241.9 634.7,241.9 634.7,242.8 659.0,242.8 659.0,243.4 683.3,243.4 683.3,243.8 707.7,243.8 707.7,244.0 732.0,244.0 732.0,244.2 756.3,244.2" fill="none" stroke="#77d153" stroke-width="3.10" stroke-opacity="0.500" stroke-linejoin="round"/>
<path d="M172.4,172.4L172.4,132.8 196.7,132.8 196.7,117.3 221.0,117.3 221.0,115.8 245.4,115.8 245.4,121.3 269.7,121.3 269.7,129.9 294.0,129.9 294.0,144.1 318.4,144.1 318.4,157.1 342.7,157.1 342.7,170.6 367.0,170.6 367.0,183.0 391.4,183.0 391.4,194.2 415.7,194.2 415.7,204.6 440.0,204.6 440.0,213.9 464.4,213.9 464.4,221.5 488.7,221.5 488.7,227.3 513.0,227.3 513.0,232.4 537.4,232.4 537.4,236.1 561.7,236.1 561.7,238.8 586.0,238.8 586.0,240.6 610.4,240.6 610.4,241.9 634.7,241.9 634.7,242.8 659.0,242.8 659.0,243.4 683.4,243.4 683.4,243.7 707.7,243.7 707.7,244.0 732.0,244.0 732.0,244.2 756.4,244.2" fill="none" stroke="#7cd250" stroke-width="3.10" stroke-opacity="0.500" stroke-linejoin="round"/>
<path d="M172.4,171.2L172.4,132.0 196.8,132.0 196.8,117.1 221.1,117.1 221.1,116.0 245.4,116.0 245.4,121.7 269.8,121.7 269.8,130.5 294.1,130.5 294.1,144.6 318.4,144.6 318.4,157.5 342.8,157.5 342.8,170.9 367.1,170.9 367.1,183.2 391.4,183.2 391.4,194.3 415.8,194.3 415.8,204.6 440.1,204.6 440.1,213.9 464.4,213.9 464.4,221.4 488.8,221.4 488.8,227.2 513.1,227.2 513.1,232.3 537.4,232.3 537.4,236.0 561.8,236.0 561.8,238.8 586.1,238.8 586.1,240.5 610.4,240.5 610.4,241.9 634.8,241.9 634.8,242.8 659.1,242.8 659.1,243.4 683.4,243.4 683.4,243.7 707.8,243.7 707.8,244.0 732.1,244.0 732.1,244.2 756.4,244.2" fill="none" stroke="#81d34d" stroke-width="3.10" stroke-opacity="0.500" stroke-linejoin="round"/>
<path d="M172.5,170.0L172.5,131.3 196.8,131.3 196.8,116.9 221.2,116.9 221.2,116.2 245.5,116.2 245.5,122.2 269.8,122.2 269.8,131.0 294.1,131.0 294.1,145.1 318.5,145.1 318.5,158.0 342.8,158.0 342.8,171.3 367.1,171.3 367.1,183.4 391.5,183.4 391.5,194.4 415.8,194.4 415.8,204.7 440.1,204.7 440.1,213.8 464.5,213.8 464.5,221.3 488.8,221.3 488.8,227.1 513.1,227.1 513.1,232.3 537.5,232.3 537.5,236.0 561.8,236.0 561.8,238.7 586.1,238.7 586.1,240.5 610.5,240.5 610.5,241.8 634.8,241.8 634.8,242.8 659.1,242.8 659.1,243.3 683.5,243.3 683.5,243.7 707.8,243.7 707.8,244.0 732.1,244.0 732.1,244.2 756.5,244.2" fill="none" stroke="#86d549" stroke-width="3.10" stroke-opacity="0.500" stroke-linejoin="round"/>
<path d="M172.5,168.7L172.5,130.5 196.9,130.5 196.9,116.7 221.2,116.7 221.2,116.5 245.5,116.5 245.5,122.6 269.9,122.6 269.9,131.6 294.2,131.6 294.2,145.6 318.5,145.6 318.5,158.4 342.9,158.4 342.9,171.6 367.2,171.6 367.2,183.6 391.5,183.6 391.5,194.5 415.9,194.5 415.9,204.7 440.2,204.7 440.2,213.8 464.5,213.8 464.5,221.3 488.9,221.3 488.9,227.1 513.2,227.1 513.2,232.2 537.5,232.2 537.5,235.9 561.9,235.9 561.9,238.6 586.2,238.6 586.2,240.4 610.5,240.4 610.5,241.8 634.9,241.8 634.9,242.7 659.2,242.7 659.2,243.3 683.5,243.3 683.5,243.7 707.9,243.7 707.9,243.9 732.2,243.9 732.2,244.2 756.5,244.2" fill="none" stroke="#8bd646" stroke-width="3.10" stroke-opacity="0.500" stroke-linejoin="round"/>
<path d="M172.6,167.5L172.6,129.7 196.9,129.7 196.9,116.5 221.3,116.5 221.3,116.7 245.6,116.7 245.6,123.1 269.9,123.1 269.9,132.1 294.3,132.1 294.3,146.1 318.6,146.1 318.6,158.8 342.9,158.8 342.9,171.9 367.3,171.9 367.3,183.8 391.6,183.8 391.6,194.6 415.9,194.6 415.9,204.7 440.2,204.7 440.2,213.8 464.6,213.8 464.6,221.2 488.9,221.2 488.9,227.0 513.2,227.0 513.2,232.1 537.6,232.1 537.6,235.8 561.9,235.8 561.9,238.6 586.2,238.6 586.2,240.3 610.6,240.3 610.6,241.7 634.9,241.7 634.9,242.7 659.2,242.7 659.2,243.3 683.6,243.3 683.6,243.7 707.9,243.7 707.9,243.9 732.2,243.9 732.2,244.2 756.6,244.2" fill="none" stroke="#90d743" stroke-width="3.10" stroke-opacity="0.500" stroke-linejoin="round"/>
<path d="M172.6,166.2L172.6,129.0 197.0,129.0 197.0,116.3 221.3,116.3 221.3,116.9 245.6,116.9 245.6,123.6 270.0,123.6 270.0,132.7 294.3,132.7 294.3,146.7 318.6,146.7 318.6,159.3 343.0,159.3 343.0,172.2 367.3,172.2 367.3,184.0 391.6,184.0 391.6,194.7 416.0,194.7 416.0,204.7 440.3,204.7 440.3,213.7 464.6,213.7 464.6,221.1 489.0,221.1 489.0,226.9 513.3,226.9 513.3,232.0 537.6,232.0 537.6,235.7 562.0,235.7 562.0,238.5 586.3,238.5 586.3,240.3 610.6,240.3 610.6,241.7 635.0,241.7 635.0,242.7 659.3,242.7 659.3,243.3 683.6,243.3 683.6,243.7 708.0,243.7 708.0,243.9 732.3,243.9 732.3,244.2 756.6,244.2" fill="none" stroke="#98d83e" stroke-width="3.10" stroke-opacity="0.500" stroke-linejoin="round"/>
<path d="M172.7,164.9L172.7,128.2 197.0,128.2 197.0,116.1 221.4,116.1 221.4,117.1 245.7,117.1 245.7,124.0 270.0,124.0 270.0,133.3 294.4,133.3 294.4,147.2 318.7,147.2 318.7,159.7 343.0,159.7 343.0,172.5 367.4,172.5 367.4,184.2 391.7,184.2 391.7,194.8 416.0,194.8 416.0,204.7 440.4,204.7 440.4,213.7 464.7,213.7 464.7,221.1 489.0,221.1 489.0,226.8 513.4,226.8 513.4,231.9 537.7,231.9 537.7,235.7 562.0,235.7 562.0,238.4 586.4,238.4 586.4,240.2 610.7,240.2 610.7,241.6 635.0,241.6 635.0,242.6 659.3,242.6 659.3,243.2 683.7,243.2 683.7,243.6 708.0,243.6 708.0,243.9 732.3,243.9 732.3,244.2 756.7,244.2" fill="none" stroke="#9dd93b" stroke-width="3.10" stroke-opacity="0.500" stroke-linejoin="round"/>
<path d="M172.7,163.6L172.7,127.4 197.1,127.4 197.1,115.9 221.4,115.9 221.4,117.4 245.7,117.4 245.7,124.5 270.1,124.5 270.1,133.8 294.4,133.8 294.4,147.7 318.7,147.7 318.7,160.1 343.1,160.1 343.1,172.9 367.4,172.9 367.4,184.4 391.7,184.4 391.7,194.9 416.1,194.9 416.1,204.8 440.4,204.8 440.4,213.7 464.7,213.7 464.7,221.0 489.1,221.0 489.1,226.7 513.4,226.7 513.4,231.8 537.7,231.8 537.7,235.6 562.1,235.6 562.1,238.3 586.4,238.3 586.4,240.2 610.7,240.2 610.7,241.6 635.1,241.6 635.1,242.6 659.4,242.6 659.4,243.2 683.7,243.2 683.7,243.6 708.1,243.6 708.1,243.9 732.4,243.9 732.4,244.1 756.7,244.1" fill="none" stroke="#a2da37" stroke-width="3.10" stroke-opacity="0.500" stroke-linejoin="round"/>
<path d="M172.8,162.3L172.8,126.7 197.1,126.7 197.1,115.8 221.5,115.8 221.5,117.6 245.8,117.6 245.8,125.0 270.1,125.0 270.1,134.4 294.5,134.4 294.5,148.2 318.8,148.2 318.8,160.6 343.1,160.6 343.1,173.2 367.5,173.2 367.5,184.6 391.8,184.6 391.8,195.0 416.1,195.0 416.1,204.8 440.5,204.8 440.5,213.6 464.8,213.6 464.8,220.9 489.1,220.9 489.1,226.6 513.5,226.6 513.5,231.7 537.8,231.7 537.8,235.5 562.1,235.5 562.1,238.3 586.5,238.3 586.5,240.1 610.8,240.1 610.8,241.6 635.1,241.6 635.1,242.6 659.5,242.6 659.5,243.2 683.8,243.2 683.8,243.6 708.1,243.6 708.1,243.9 732.5,243.9 732.5,244.1 756.8,244.1" fill="none" stroke="#a8db34" stroke-width="3.10" stroke-opacity="0.500" stroke-linejoin="round"/>
<path d="M172.8,160.9L172.8,125.9 197.2,125.9 197.2,115.6 221.5,115.6 221.5,117.9 245.8,117.9 245.8,125.5 270.2,125.5 270.2,134.9 294.5,134.9 294.5,148.8 318.8,148.8 318.8,161.0 343.2,161.0 343.2,173.5 367.5,173.5 367.5,184.8 391.8,184.8 391.8,195.1 416.2,195.1 416.2,204.8 440.5,204.8 440.5,213.6 464.8,213.6 464.8,220.8 489.2,220.8 489.2,226.5 513.5,226.5 513.5,231.6 537.8,231.6 537.8,235.4 562.2,235.4 562.2,238.2 586.5,238.2 586.5,240.1 610.8,240.1 610.8,241.5 635.2,241.5 635.2,242.5 659.5,242.5 659.5,243.2 683.8,243.2 683.8,243.6 708.2,243.6 708.2,243.8 732.5,243.8 732.5,244.1 756.8,244.1" fill="none" stroke="#addc30" stroke-width="3.10" stroke-opacity="0.500" stroke-linejoin="round"/>
<path d="M172.9,159.6L172.9,125.2 197.2,125.2 197.2,115.5 221.6,115.5 221.6,118.2 245.9,118.2 245.9,125.9 270.2,125.9 270.2,135.5 294.6,135.5 294.6,149.3 318.9,149.3 318.9,161.5 343.2,161.5 343.2,173.8 367.6,173.8 367.6,185.1 391.9,185.1 391.9,195.2 416.2,195.2 416.2,204.8 440.6,204.8 440.6,213.6 464.9,213.6 464.9,220.8 489.2,220.8 489.2,226.4 513.6,226.4 513.6,231.5 537.9,231.5 537.9,235.3 562.2,235.3 562.2,238.1 586.6,238.1 586.6,240.0 610.9,240.0 610.9,241.5 635.2,241.5 635.2,242.5 659.6,242.5 659.6,243.1 683.9,243.1 683.9,243.5 708.2,243.5 708.2,243.8 732.6,243.8 732.6,244.1 756.9,244.1" fill="none" stroke="#b2dd2d" stroke-width="3.10" stroke-opacity="0.500" stroke-linejoin="round"/>
<path d="M172.9,158.2L172.9,124.4 197.3,124.4 197.3,115.3 221.6,115.3 221.6,118.4 245.9,118.4 245.9,126.4 270.3,126.4 270.3,136.1 294.6,136.1 294.6,149.8 318.9,149.8 318.9,161.9 343.3,161.9 343.3,174.2 367.6,174.2 367.6,185.3 391.9,185.3 391.9,195.4 416.3,195.4 416.3,204.9 440.6,204.9 440.6,213.5 464.9,213.5 464.9,220.7 489.3,220.7 489.3,226.4 513.6,226.4 513.6,231.5 537.9,231.5 537.9,235.2 562.3,235.2 562.3,238.1 586.6,238.1 586.6,239.9 610.9,239.9 610.9,241.4 635.3,241.4 635.3,242.4 659.6,242.4 659.6,243.1 683.9,243.1 683.9,243.5 708.3,243.5 708.3,243.8 732.6,243.8 732.6,244.1 756.9,244.1" fill="none" stroke="#bade28" stroke-width="3.10" stroke-opacity="0.500" stroke-linejoin="round"/>
<path d="M173.0,156.8L173.0,123.7 197.3,123.7 197.3,115.2 221.7,115.2 221.7,118.7 246.0,118.7 246.0,126.9 270.3,126.9 270.3,136.6 294.7,136.6 294.7,150.3 319.0,150.3 319.0,162.3 343.3,162.3 343.3,174.5 367.7,174.5 367.7,185.5 392.0,185.5 392.0,195.5 416.3,195.5 416.3,204.9 440.7,204.9 440.7,213.5 465.0,213.5 465.0,220.6 489.3,220.6 489.3,226.3 513.7,226.3 513.7,231.4 538.0,231.4 538.0,235.2 562.3,235.2 562.3,238.0 586.7,238.0 586.7,239.9 611.0,239.9 611.0,241.4 635.3,241.4 635.3,242.4 659.7,242.4 659.7,243.1 684.0,243.1 684.0,243.5 708.3,243.5 708.3,243.8 732.7,243.8 732.7,244.1 757.0,244.1" fill="none" stroke="#c0df25" stroke-width="3.10" stroke-opacity="0.500" stroke-linejoin="round"/>
<path d="M173.0,155.3L173.0,122.9 197.4,122.9 197.4,115.0 221.7,115.0 221.7,119.0 246.0,119.0 246.0,127.4 270.4,127.4 270.4,137.2 294.7,137.2 294.7,150.9 319.0,150.9 319.0,162.8 343.4,162.8 343.4,174.8 367.7,174.8 367.7,185.7 392.0,185.7 392.0,195.6 416.4,195.6 416.4,204.9 440.7,204.9 440.7,213.5 465.0,213.5 465.0,220.6 489.4,220.6 489.4,226.2 513.7,226.2 513.7,231.3 538.0,231.3 538.0,235.1 562.4,235.1 562.4,237.9 586.7,237.9 586.7,239.8 611.0,239.8 611.0,241.3 635.4,241.3 635.4,242.4 659.7,242.4 659.7,243.1 684.0,243.1 684.0,243.5 708.4,243.5 708.4,243.8 732.7,243.8 732.7,244.1 757.0,244.1" fill="none" stroke="#c5e021" stroke-width="3.10" stroke-opacity="0.500" stroke-linejoin="round"/>
<path d="M173.1,153.9L173.1,122.2 197.4,122.2 197.4,114.9 221.8,114.9 221.8,119.3 246.1,119.3 246.1,127.9 270.4,127.9 270.4,137.7 294.8,137.7 294.8,151.4 319.1,151.4 319.1,163.2 343.4,163.2 343.4,175.1 367.8,175.1 367.8,185.9 392.1,185.9 392.1,195.7 416.4,195.7 416.4,205.0 440.8,205.0 440.8,213.4 465.1,213.4 465.1,220.5 489.4,220.5 489.4,226.1 513.8,226.1 513.8,231.2 538.1,231.2 538.1,235.0 562.4,235.0 562.4,237.9 586.8,237.9 586.8,239.8 611.1,239.8 611.1,241.3 635.4,241.3 635.4,242.3 659.8,242.3 659.8,243.0 684.1,243.0 684.1,243.5 708.4,243.5 708.4,243.7 732.8,243.7 732.8,244.0 757.1,244.0" fill="none" stroke="#cae11f" stroke-width="3.10" stroke-opacity="0.500" stroke-linejoin="round"/>
<path d="M173.6,154.6L173.6,115.6 197.9,115.6 197.9,115.6 222.3,115.6 222.3,119.2 246.6,119.2 246.6,127.6 270.9,127.6 270.9,139.0 295.3,139.0 295.3,151.6 319.6,151.6 319.6,164.8 343.9,164.8 343.9,175.6 368.3,175.6 368.3,186.4 392.6,186.4 392.6,196.6 416.9,196.6 416.9,205.5 441.3,205.5 441.3,212.7 465.6,212.7 465.6,219.9 489.9,219.9 489.9,225.9 514.2,225.9 514.2,230.7 538.6,230.7 538.6,234.7 562.9,234.7 562.9,237.6 587.2,237.6 587.2,239.7 611.6,239.7 611.6,241.3 635.9,241.3 635.9,242.4 660.2,242.4 660.2,243.1 684.6,243.1 684.6,243.6 708.9,243.6 708.9,243.9 733.2,243.9 733.2,244.2 757.6,244.2" fill="none" stroke="#fde725" stroke-width="3.10" stroke-opacity="0.500" stroke-linejoin="round"/>
</g>
<text x="763.40" y="42.30" text-anchor="end" font-size="18.1" fill="#000" stroke="#000" stroke-width="0.25">year of admission</text>
<defs><linearGradient id="cb0g" x1="0" x2="1" y1="0" y2="0"><stop offset="0.000" stop-color="#440154"/><stop offset="0.050" stop-color="#471365"/><stop offset="0.100" stop-color="#482475"/><stop offset="0.150" stop-color="#463480"/><stop offset="0.200" stop-color="#414487"/><stop offset="0.250" stop-color="#3b528b"/><stop offset="0.300" stop-color="#355f8d"/><stop offset="0.350" stop-color="#2f6c8e"/><stop offset="0.400" stop-color="#2a788e"/><stop offset="0.450" stop-color="#25848e"/><stop offset="0.500" stop-color="#21918c"/><stop offset="0.550" stop-color="#1e9c89"/><stop offset="0.600" stop-color="#22a884"/><stop offset="0.650" stop-color="#2fb47c"/><stop offset="0.700" stop-color="#44bf70"/><stop offset="0.750" stop-color="#5ec962"/><stop offset="0.800" stop-color="#7ad151"/><stop offset="0.850" stop-color="#9bd93c"/><stop offset="0.900" stop-color="#bddf26"/><stop offset="0.950" stop-color="#dfe318"/><stop offset="1.000" stop-color="#fde725"/></linearGradient></defs>
<rect x="502.40" y="52.40" width="262.20" height="23.40" fill="url(#cb0g)"/>
<line x1="508.48" y1="52.40" x2="508.48" y2="57.08" stroke="#fff" stroke-width="1"/>
<line x1="508.48" y1="71.12" x2="508.48" y2="75.80" stroke="#fff" stroke-width="1"/>
<text x="508.48" y="97.20" text-anchor="middle" font-size="18.2" fill="#000" stroke="#000" stroke-width="0.25">1995</text>
<line x1="588.52" y1="52.40" x2="588.52" y2="57.08" stroke="#fff" stroke-width="1"/>
<line x1="588.52" y1="71.12" x2="588.52" y2="75.80" stroke="#fff" stroke-width="1"/>
<text x="588.52" y="97.20" text-anchor="middle" font-size="18.2" fill="#000" stroke="#000" stroke-width="0.25">2000</text>
<line x1="668.56" y1="52.40" x2="668.56" y2="57.08" stroke="#fff" stroke-width="1"/>
<line x1="668.56" y1="71.12" x2="668.56" y2="75.80" stroke="#fff" stroke-width="1"/>
<text x="668.56" y="97.20" text-anchor="middle" font-size="18.2" fill="#000" stroke="#000" stroke-width="0.25">2005</text>
<line x1="748.59" y1="52.40" x2="748.59" y2="57.08" stroke="#fff" stroke-width="1"/>
<line x1="748.59" y1="71.12" x2="748.59" y2="75.80" stroke="#fff" stroke-width="1"/>
<text x="748.59" y="97.20" text-anchor="middle" font-size="18.2" fill="#000" stroke="#000" stroke-width="0.25">2010</text>
<rect x="138.85" y="7.05" width="647.40" height="247.90" fill="none" stroke="#333" stroke-width="1.7"/>
<line x1="129.90" y1="244.51" x2="138.00" y2="244.51" stroke="#333" stroke-width="2.6"/>
<text x="123.10" y="252.91" text-anchor="end" font-size="24" fill="#4d4d4d" stroke="#4d4d4d" stroke-width="0.3">0.00</text>
<line x1="129.90" y1="220.53" x2="138.00" y2="220.53" stroke="#333" stroke-width="2.6"/>
<text x="123.10" y="228.93" text-anchor="end" font-size="24" fill="#4d4d4d" stroke="#4d4d4d" stroke-width="0.3">0.02</text>
<line x1="129.90" y1="196.55" x2="138.00" y2="196.55" stroke="#333" stroke-width="2.6"/>
<text x="123.10" y="204.95" text-anchor="end" font-size="24" fill="#4d4d4d" stroke="#4d4d4d" stroke-width="0.3">0.04</text>
<line x1="129.90" y1="172.57" x2="138.00" y2="172.57" stroke="#333" stroke-width="2.6"/>
<text x="123.10" y="180.97" text-anchor="end" font-size="24" fill="#4d4d4d" stroke="#4d4d4d" stroke-width="0.3">0.06</text>
<line x1="129.90" y1="148.59" x2="138.00" y2="148.59" stroke="#333" stroke-width="2.6"/>
<text x="123.10" y="156.99" text-anchor="end" font-size="24" fill="#4d4d4d" stroke="#4d4d4d" stroke-width="0.3">0.08</text>
<line x1="129.90" y1="124.61" x2="138.00" y2="124.61" stroke="#333" stroke-width="2.6"/>
<text x="123.10" y="133.01" text-anchor="end" font-size="24" fill="#4d4d4d" stroke="#4d4d4d" stroke-width="0.3">0.10</text>
<line x1="167.50" y1="255.80" x2="167.50" y2="263.60" stroke="#333" stroke-width="2.6"/>
<text x="167.50" y="287.80" text-anchor="middle" font-size="24" fill="#4d4d4d" stroke="#4d4d4d" stroke-width="0.3">4</text>
<line x1="313.50" y1="255.80" x2="313.50" y2="263.60" stroke="#333" stroke-width="2.6"/>
<text x="313.50" y="287.80" text-anchor="middle" font-size="24" fill="#4d4d4d" stroke="#4d4d4d" stroke-width="0.3">10</text>
<line x1="459.50" y1="255.80" x2="459.50" y2="263.60" stroke="#333" stroke-width="2.6"/>
<text x="459.50" y="287.80" text-anchor="middle" font-size="24" fill="#4d4d4d" stroke="#4d4d4d" stroke-width="0.3">16</text>
<line x1="605.50" y1="255.80" x2="605.50" y2="263.60" stroke="#333" stroke-width="2.6"/>
<text x="605.50" y="287.80" text-anchor="middle" font-size="24" fill="#4d4d4d" stroke="#4d4d4d" stroke-width="0.3">22</text>
<line x1="751.50" y1="255.80" x2="751.50" y2="263.60" stroke="#333" stroke-width="2.6"/>
<text x="751.50" y="287.80" text-anchor="middle" font-size="24" fill="#4d4d4d" stroke="#4d4d4d" stroke-width="0.3">28</text>
<defs><clipPath id="c1"><rect x="879.20" y="6.20" width="649.10" height="249.60"/></clipPath></defs>
<g clip-path="url(#c1)">
<line x1="879.20" y1="232.52" x2="1528.30" y2="232.52" stroke="#ebebeb" stroke-width="1.2"/>
<line x1="879.20" y1="208.54" x2="1528.30" y2="208.54" stroke="#ebebeb" stroke-width="1.2"/>
<line x1="879.20" y1="184.56" x2="1528.30" y2="184.56" stroke="#ebebeb" stroke-width="1.2"/>
<line x1="879.20" y1="160.58" x2="1528.30" y2="160.58" stroke="#ebebeb" stroke-width="1.2"/>
<line x1="879.20" y1="136.60" x2="1528.30" y2="136.60" stroke="#ebebeb" stroke-width="1.2"/>
<line x1="879.20" y1="112.62" x2="1528.30" y2="112.62" stroke="#ebebeb" stroke-width="1.2"/>
<line x1="879.20" y1="100.63" x2="1528.30" y2="100.63" stroke="#ebebeb" stroke-width="1.2"/>
<line x1="981.70" y1="6.20" x2="981.70" y2="255.80" stroke="#ebebeb" stroke-width="1.2"/>
<line x1="1127.70" y1="6.20" x2="1127.70" y2="255.80" stroke="#ebebeb" stroke-width="1.2"/>
<line x1="1273.70" y1="6.20" x2="1273.70" y2="255.80" stroke="#ebebeb" stroke-width="1.2"/>
<line x1="1419.70" y1="6.20" x2="1419.70" y2="255.80" stroke="#ebebeb" stroke-width="1.2"/>
<line x1="879.20" y1="244.51" x2="1528.30" y2="244.51" stroke="#ebebeb" stroke-width="2.4"/>
<line x1="879.20" y1="220.53" x2="1528.30" y2="220.53" stroke="#ebebeb" stroke-width="2.4"/>
<line x1="879.20" y1="196.55" x2="1528.30" y2="196.55" stroke="#ebebeb" stroke-width="2.4"/>
<line x1="879.20" y1="172.57" x2="1528.30" y2="172.57" stroke="#ebebeb" stroke-width="2.4"/>
<line x1="879.20" y1="148.59" x2="1528.30" y2="148.59" stroke="#ebebeb" stroke-width="2.4"/>
<line x1="879.20" y1="124.61" x2="1528.30" y2="124.61" stroke="#ebebeb" stroke-width="2.4"/>
<line x1="908.70" y1="6.20" x2="908.70" y2="255.80" stroke="#ebebeb" stroke-width="2.4"/>
<line x1="1054.70" y1="6.20" x2="1054.70" y2="255.80" stroke="#ebebeb" stroke-width="2.4"/>
<line x1="1200.70" y1="6.20" x2="1200.70" y2="255.80" stroke="#ebebeb" stroke-width="2.4"/>
<line x1="1346.70" y1="6.20" x2="1346.70" y2="255.80" stroke="#ebebeb" stroke-width="2.4"/>
<line x1="1492.70" y1="6.20" x2="1492.70" y2="255.80" stroke="#ebebeb" stroke-width="2.4"/>
<path d="M908.7,195.3L908.7,154.5 933.0,154.5 933.0,130.6 957.4,130.6 957.4,119.7 981.7,119.7 981.7,117.5 1006.0,117.5 1006.0,121.2 1030.4,121.2 1030.4,133.2 1054.7,133.2 1054.7,146.1 1079.0,146.1 1079.0,160.9 1103.4,160.9 1103.4,175.2 1127.7,175.2 1127.7,188.5 1152.0,188.5 1152.0,200.9 1176.4,200.9 1176.4,211.8 1200.7,211.8 1200.7,220.5 1225.0,220.5 1225.0,227.1 1249.4,227.1 1249.4,232.7 1273.7,232.7 1273.7,236.5 1298.0,236.5 1298.0,239.3 1322.4,239.3 1322.4,241.0 1346.7,241.0 1346.7,242.3 1371.0,242.3 1371.0,243.1 1395.4,243.1 1395.4,243.6 1419.7,243.6 1419.7,243.9 1444.0,243.9 1444.0,244.1 1468.4,244.1 1468.4,244.3 1492.7,244.3" fill="none" stroke="#440154" stroke-width="3.10" stroke-opacity="0.500" stroke-linejoin="round"/>
<path d="M908.8,195.1L908.8,154.3 933.2,154.3 933.2,130.5 957.5,130.5 957.5,119.7 981.8,119.7 981.8,117.7 1006.2,117.7 1006.2,121.4 1030.5,121.4 1030.5,133.4 1054.8,133.4 1054.8,146.2 1079.2,146.2 1079.2,161.0 1103.5,161.0 1103.5,175.2 1127.8,175.2 1127.8,188.5 1152.2,188.5 1152.2,200.8 1176.5,200.8 1176.5,211.7 1200.8,211.7 1200.8,220.5 1225.2,220.5 1225.2,227.1 1249.5,227.1 1249.5,232.6 1273.8,232.6 1273.8,236.5 1298.2,236.5 1298.2,239.3 1322.5,239.3 1322.5,241.0 1346.8,241.0 1346.8,242.3 1371.2,242.3 1371.2,243.1 1395.5,243.1 1395.5,243.6 1419.8,243.6 1419.8,243.9 1444.2,243.9 1444.2,244.1 1468.5,244.1 1468.5,244.3 1492.8,244.3" fill="none" stroke="#46085c" stroke-width="3.10" stroke-opacity="0.500" stroke-linejoin="round"/>
<path d="M909.0,194.9L909.0,154.2 933.3,154.2 933.3,130.5 957.6,130.5 957.6,119.8 982.0,119.8 982.0,117.8 1006.3,117.8 1006.3,121.5 1030.6,121.5 1030.6,133.5 1055.0,133.5 1055.0,146.3 1079.3,146.3 1079.3,161.1 1103.6,161.1 1103.6,175.2 1128.0,175.2 1128.0,188.5 1152.3,188.5 1152.3,200.8 1176.6,200.8 1176.6,211.7 1201.0,211.7 1201.0,220.4 1225.3,220.4 1225.3,227.0 1249.6,227.0 1249.6,232.6 1274.0,232.6 1274.0,236.5 1298.3,236.5 1298.3,239.2 1322.6,239.2 1322.6,241.0 1347.0,241.0 1347.0,242.3 1371.3,242.3 1371.3,243.1 1395.6,243.1 1395.6,243.6 1420.0,243.6 1420.0,243.9 1444.3,243.9 1444.3,244.1 1468.6,244.1 1468.6,244.3 1493.0,244.3" fill="none" stroke="#471063" stroke-width="3.10" stroke-opacity="0.500" stroke-linejoin="round"/>
<path d="M909.1,194.7L909.1,154.0 933.4,154.0 933.4,130.5 957.8,130.5 957.8,119.9 982.1,119.9 982.1,117.9 1006.4,117.9 1006.4,121.7 1030.8,121.7 1030.8,133.7 1055.1,133.7 1055.1,146.4 1079.4,146.4 1079.4,161.1 1103.8,161.1 1103.8,175.3 1128.1,175.3 1128.1,188.4 1152.4,188.4 1152.4,200.8 1176.8,200.8 1176.8,211.7 1201.1,211.7 1201.1,220.4 1225.4,220.4 1225.4,227.0 1249.8,227.0 1249.8,232.5 1274.1,232.5 1274.1,236.5 1298.4,236.5 1298.4,239.2 1322.8,239.2 1322.8,241.0 1347.1,241.0 1347.1,242.2 1371.4,242.2 1371.4,243.1 1395.8,243.1 1395.8,243.6 1420.1,243.6 1420.1,243.9 1444.4,243.9 1444.4,244.1 1468.8,244.1 1468.8,244.3 1493.1,244.3" fill="none" stroke="#48186a" stroke-width="3.10" stroke-opacity="0.500" stroke-linejoin="round"/>
<path d="M909.2,194.4L909.2,153.9 933.6,153.9 933.6,130.4 957.9,130.4 957.9,120.0 982.2,120.0 982.2,118.1 1006.6,118.1 1006.6,121.8 1030.9,121.8 1030.9,133.8 1055.2,133.8 1055.2,146.6 1079.6,146.6 1079.6,161.2 1103.9,161.2 1103.9,175.3 1128.2,175.3 1128.2,188.4 1152.6,188.4 1152.6,200.7 1176.9,200.7 1176.9,211.6 1201.2,211.6 1201.2,220.3 1225.6,220.3 1225.6,226.9 1249.9,226.9 1249.9,232.5 1274.2,232.5 1274.2,236.4 1298.5,236.4 1298.5,239.2 1322.9,239.2 1322.9,240.9 1347.2,240.9 1347.2,242.2 1371.5,242.2 1371.5,243.1 1395.9,243.1 1395.9,243.6 1420.2,243.6 1420.2,243.9 1444.5,243.9 1444.5,244.1 1468.9,244.1 1468.9,244.3 1493.2,244.3" fill="none" stroke="#481f70" stroke-width="3.10" stroke-opacity="0.500" stroke-linejoin="round"/>
<path d="M909.4,194.2L909.4,153.7 933.7,153.7 933.7,130.4 958.0,130.4 958.0,120.0 982.3,120.0 982.3,118.2 1006.7,118.2 1006.7,122.0 1031.0,122.0 1031.0,134.0 1055.3,134.0 1055.3,146.7 1079.7,146.7 1079.7,161.2 1104.0,161.2 1104.0,175.3 1128.3,175.3 1128.3,188.4 1152.7,188.4 1152.7,200.7 1177.0,200.7 1177.0,211.6 1201.3,211.6 1201.3,220.3 1225.7,220.3 1225.7,226.9 1250.0,226.9 1250.0,232.5 1274.3,232.5 1274.3,236.4 1298.7,236.4 1298.7,239.2 1323.0,239.2 1323.0,240.9 1347.3,240.9 1347.3,242.2 1371.7,242.2 1371.7,243.1 1396.0,243.1 1396.0,243.6 1420.3,243.6 1420.3,243.9 1444.7,243.9 1444.7,244.1 1469.0,244.1 1469.0,244.3 1493.3,244.3" fill="none" stroke="#482677" stroke-width="3.10" stroke-opacity="0.500" stroke-linejoin="round"/>
<path d="M909.5,194.0L909.5,153.6 933.8,153.6 933.8,130.4 958.1,130.4 958.1,120.1 982.5,120.1 982.5,118.3 1006.8,118.3 1006.8,122.2 1031.1,122.2 1031.1,134.1 1055.5,134.1 1055.5,146.8 1079.8,146.8 1079.8,161.3 1104.1,161.3 1104.1,175.3 1128.5,175.3 1128.5,188.4 1152.8,188.4 1152.8,200.7 1177.1,200.7 1177.1,211.5 1201.5,211.5 1201.5,220.2 1225.8,220.2 1225.8,226.8 1250.1,226.8 1250.1,232.4 1274.5,232.4 1274.5,236.4 1298.8,236.4 1298.8,239.1 1323.1,239.1 1323.1,240.9 1347.5,240.9 1347.5,242.2 1371.8,242.2 1371.8,243.1 1396.1,243.1 1396.1,243.6 1420.5,243.6 1420.5,243.9 1444.8,243.9 1444.8,244.1 1469.1,244.1 1469.1,244.3 1493.5,244.3" fill="none" stroke="#472d7b" stroke-width="3.10" stroke-opacity="0.500" stroke-linejoin="round"/>
<path d="M909.6,193.8L909.6,153.4 933.9,153.4 933.9,130.3 958.3,130.3 958.3,120.2 982.6,120.2 982.6,118.5 1006.9,118.5 1006.9,122.3 1031.3,122.3 1031.3,134.2 1055.6,134.2 1055.6,146.9 1079.9,146.9 1079.9,161.4 1104.3,161.4 1104.3,175.4 1128.6,175.4 1128.6,188.4 1152.9,188.4 1152.9,200.7 1177.3,200.7 1177.3,211.5 1201.6,211.5 1201.6,220.2 1225.9,220.2 1225.9,226.8 1250.3,226.8 1250.3,232.4 1274.6,232.4 1274.6,236.3 1298.9,236.3 1298.9,239.1 1323.3,239.1 1323.3,240.9 1347.6,240.9 1347.6,242.2 1371.9,242.2 1371.9,243.1 1396.3,243.1 1396.3,243.6 1420.6,243.6 1420.6,243.9 1444.9,243.9 1444.9,244.1 1469.3,244.1 1469.3,244.3 1493.6,244.3" fill="none" stroke="#463480" stroke-width="3.10" stroke-opacity="0.500" stroke-linejoin="round"/>
<path d="M909.7,193.6L909.7,153.3 934.1,153.3 934.1,130.3 958.4,130.3 958.4,120.2 982.7,120.2 982.7,118.6 1007.1,118.6 1007.1,122.5 1031.4,122.5 1031.4,134.4 1055.7,134.4 1055.7,147.0 1080.1,147.0 1080.1,161.4 1104.4,161.4 1104.4,175.4 1128.7,175.4 1128.7,188.4 1153.1,188.4 1153.1,200.6 1177.4,200.6 1177.4,211.5 1201.7,211.5 1201.7,220.1 1226.1,220.1 1226.1,226.8 1250.4,226.8 1250.4,232.4 1274.7,232.4 1274.7,236.3 1299.1,236.3 1299.1,239.1 1323.4,239.1 1323.4,240.9 1347.7,240.9 1347.7,242.2 1372.1,242.2 1372.1,243.0 1396.4,243.0 1396.4,243.6 1420.7,243.6 1420.7,243.9 1445.1,243.9 1445.1,244.1 1469.4,244.1 1469.4,244.3 1493.7,244.3" fill="none" stroke="#443a83" stroke-width="3.10" stroke-opacity="0.500" stroke-linejoin="round"/>
<path d="M909.9,193.4L909.9,153.1 934.2,153.1 934.2,130.3 958.5,130.3 958.5,120.3 982.9,120.3 982.9,118.7 1007.2,118.7 1007.2,122.6 1031.5,122.6 1031.5,134.5 1055.9,134.5 1055.9,147.1 1080.2,147.1 1080.2,161.5 1104.5,161.5 1104.5,175.4 1128.9,175.4 1128.9,188.4 1153.2,188.4 1153.2,200.6 1177.5,200.6 1177.5,211.4 1201.9,211.4 1201.9,220.1 1226.2,220.1 1226.2,226.7 1250.5,226.7 1250.5,232.3 1274.9,232.3 1274.9,236.3 1299.2,236.3 1299.2,239.1 1323.5,239.1 1323.5,240.8 1347.9,240.8 1347.9,242.2 1372.2,242.2 1372.2,243.0 1396.5,243.0 1396.5,243.6 1420.9,243.6 1420.9,243.9 1445.2,243.9 1445.2,244.1 1469.5,244.1 1469.5,244.3 1493.9,244.3" fill="none" stroke="#424186" stroke-width="3.10" stroke-opacity="0.500" stroke-linejoin="round"/>
<path d="M910.0,193.2L910.0,153.0 934.3,153.0 934.3,130.3 958.7,130.3 958.7,120.4 983.0,120.4 983.0,118.9 1007.3,118.9 1007.3,122.8 1031.7,122.8 1031.7,134.7 1056.0,134.7 1056.0,147.2 1080.3,147.2 1080.3,161.6 1104.7,161.6 1104.7,175.4 1129.0,175.4 1129.0,188.4 1153.3,188.4 1153.3,200.6 1177.7,200.6 1177.7,211.4 1202.0,211.4 1202.0,220.1 1226.3,220.1 1226.3,226.7 1250.7,226.7 1250.7,232.3 1275.0,232.3 1275.0,236.2 1299.3,236.2 1299.3,239.0 1323.7,239.0 1323.7,240.8 1348.0,240.8 1348.0,242.2 1372.3,242.2 1372.3,243.0 1396.7,243.0 1396.7,243.6 1421.0,243.6 1421.0,243.9 1445.3,243.9 1445.3,244.1 1469.7,244.1 1469.7,244.3 1494.0,244.3" fill="none" stroke="#3f4788" stroke-width="3.10" stroke-opacity="0.500" stroke-linejoin="round"/>
<path d="M910.1,193.0L910.1,152.8 934.5,152.8 934.5,130.2 958.8,130.2 958.8,120.4 983.1,120.4 983.1,119.0 1007.5,119.0 1007.5,122.9 1031.8,122.9 1031.8,134.8 1056.1,134.8 1056.1,147.3 1080.5,147.3 1080.5,161.6 1104.8,161.6 1104.8,175.5 1129.1,175.5 1129.1,188.4 1153.5,188.4 1153.5,200.5 1177.8,200.5 1177.8,211.3 1202.1,211.3 1202.1,220.0 1226.5,220.0 1226.5,226.6 1250.8,226.6 1250.8,232.2 1275.1,232.2 1275.1,236.2 1299.5,236.2 1299.5,239.0 1323.8,239.0 1323.8,240.8 1348.1,240.8 1348.1,242.1 1372.5,242.1 1372.5,243.0 1396.8,243.0 1396.8,243.6 1421.1,243.6 1421.1,243.9 1445.5,243.9 1445.5,244.1 1469.8,244.1 1469.8,244.3 1494.1,244.3" fill="none" stroke="#3d4d8a" stroke-width="3.10" stroke-opacity="0.500" stroke-linejoin="round"/>
<path d="M910.3,192.8L910.3,152.7 934.6,152.7 934.6,130.2 958.9,130.2 958.9,120.5 983.3,120.5 983.3,119.1 1007.6,119.1 1007.6,123.1 1031.9,123.1 1031.9,134.9 1056.3,134.9 1056.3,147.4 1080.6,147.4 1080.6,161.7 1104.9,161.7 1104.9,175.5 1129.3,175.5 1129.3,188.4 1153.6,188.4 1153.6,200.5 1177.9,200.5 1177.9,211.3 1202.3,211.3 1202.3,220.0 1226.6,220.0 1226.6,226.6 1250.9,226.6 1250.9,232.2 1275.3,232.2 1275.3,236.2 1299.6,236.2 1299.6,239.0 1323.9,239.0 1323.9,240.8 1348.3,240.8 1348.3,242.1 1372.6,242.1 1372.6,243.0 1396.9,243.0 1396.9,243.6 1421.2,243.6 1421.2,243.9 1445.6,243.9 1445.6,244.1 1469.9,244.1 1469.9,244.3 1494.2,244.3" fill="none" stroke="#3a538b" stroke-width="3.10" stroke-opacity="0.500" stroke-linejoin="round"/>
<path d="M910.4,192.6L910.4,152.5 934.7,152.5 934.7,130.2 959.1,130.2 959.1,120.6 983.4,120.6 983.4,119.3 1007.7,119.3 1007.7,123.2 1032.1,123.2 1032.1,135.1 1056.4,135.1 1056.4,147.5 1080.7,147.5 1080.7,161.8 1105.1,161.8 1105.1,175.5 1129.4,175.5 1129.4,188.4 1153.7,188.4 1153.7,200.5 1178.0,200.5 1178.0,211.3 1202.4,211.3 1202.4,219.9 1226.7,219.9 1226.7,226.5 1251.0,226.5 1251.0,232.2 1275.4,232.2 1275.4,236.2 1299.7,236.2 1299.7,239.0 1324.0,239.0 1324.0,240.8 1348.4,240.8 1348.4,242.1 1372.7,242.1 1372.7,243.0 1397.0,243.0 1397.0,243.5 1421.4,243.5 1421.4,243.9 1445.7,243.9 1445.7,244.1 1470.0,244.1 1470.0,244.3 1494.4,244.3" fill="none" stroke="#38598c" stroke-width="3.10" stroke-opacity="0.500" stroke-linejoin="round"/>
<path d="M910.5,192.4L910.5,152.4 934.8,152.4 934.8,130.1 959.2,130.1 959.2,120.7 983.5,120.7 983.5,119.4 1007.8,119.4 1007.8,123.4 1032.2,123.4 1032.2,135.2 1056.5,135.2 1056.5,147.6 1080.8,147.6 1080.8,161.8 1105.2,161.8 1105.2,175.5 1129.5,175.5 1129.5,188.4 1153.8,188.4 1153.8,200.5 1178.2,200.5 1178.2,211.2 1202.5,211.2 1202.5,219.9 1226.8,219.9 1226.8,226.5 1251.2,226.5 1251.2,232.1 1275.5,232.1 1275.5,236.1 1299.8,236.1 1299.8,239.0 1324.2,239.0 1324.2,240.8 1348.5,240.8 1348.5,242.1 1372.8,242.1 1372.8,243.0 1397.2,243.0 1397.2,243.5 1421.5,243.5 1421.5,243.9 1445.8,243.9 1445.8,244.1 1470.2,244.1 1470.2,244.3 1494.5,244.3" fill="none" stroke="#355f8d" stroke-width="3.10" stroke-opacity="0.500" stroke-linejoin="round"/>
<path d="M910.6,192.2L910.6,152.3 935.0,152.3 935.0,130.1 959.3,130.1 959.3,120.7 983.6,120.7 983.6,119.5 1008.0,119.5 1008.0,123.5 1032.3,123.5 1032.3,135.4 1056.6,135.4 1056.6,147.7 1081.0,147.7 1081.0,161.9 1105.3,161.9 1105.3,175.6 1129.6,175.6 1129.6,188.4 1154.0,188.4 1154.0,200.4 1178.3,200.4 1178.3,211.2 1202.6,211.2 1202.6,219.8 1227.0,219.8 1227.0,226.5 1251.3,226.5 1251.3,232.1 1275.6,232.1 1275.6,236.1 1300.0,236.1 1300.0,238.9 1324.3,238.9 1324.3,240.7 1348.6,240.7 1348.6,242.1 1373.0,242.1 1373.0,243.0 1397.3,243.0 1397.3,243.5 1421.6,243.5 1421.6,243.9 1446.0,243.9 1446.0,244.1 1470.3,244.1 1470.3,244.3 1494.6,244.3" fill="none" stroke="#32648e" stroke-width="3.10" stroke-opacity="0.500" stroke-linejoin="round"/>
<path d="M910.8,191.9L910.8,152.1 935.1,152.1 935.1,130.1 959.4,130.1 959.4,120.8 983.8,120.8 983.8,119.7 1008.1,119.7 1008.1,123.7 1032.4,123.7 1032.4,135.5 1056.8,135.5 1056.8,147.8 1081.1,147.8 1081.1,162.0 1105.4,162.0 1105.4,175.6 1129.8,175.6 1129.8,188.4 1154.1,188.4 1154.1,200.4 1178.4,200.4 1178.4,211.1 1202.8,211.1 1202.8,219.8 1227.1,219.8 1227.1,226.4 1251.4,226.4 1251.4,232.1 1275.8,232.1 1275.8,236.1 1300.1,236.1 1300.1,238.9 1324.4,238.9 1324.4,240.7 1348.8,240.7 1348.8,242.1 1373.1,242.1 1373.1,243.0 1397.4,243.0 1397.4,243.5 1421.8,243.5 1421.8,243.9 1446.1,243.9 1446.1,244.1 1470.4,244.1 1470.4,244.3 1494.8,244.3" fill="none" stroke="#306a8e" stroke-width="3.10" stroke-opacity="0.500" stroke-linejoin="round"/>
<path d="M910.9,191.7L910.9,152.0 935.2,152.0 935.2,130.1 959.6,130.1 959.6,120.9 983.9,120.9 983.9,119.8 1008.2,119.8 1008.2,123.9 1032.6,123.9 1032.6,135.6 1056.9,135.6 1056.9,147.9 1081.2,147.9 1081.2,162.0 1105.6,162.0 1105.6,175.6 1129.9,175.6 1129.9,188.4 1154.2,188.4 1154.2,200.4 1178.6,200.4 1178.6,211.1 1202.9,211.1 1202.9,219.7 1227.2,219.7 1227.2,226.4 1251.6,226.4 1251.6,232.0 1275.9,232.0 1275.9,236.0 1300.2,236.0 1300.2,238.9 1324.6,238.9 1324.6,240.7 1348.9,240.7 1348.9,242.1 1373.2,242.1 1373.2,243.0 1397.6,243.0 1397.6,243.5 1421.9,243.5 1421.9,243.9 1446.2,243.9 1446.2,244.1 1470.6,244.1 1470.6,244.3 1494.9,244.3" fill="none" stroke="#2e6f8e" stroke-width="3.10" stroke-opacity="0.500" stroke-linejoin="round"/>
<path d="M911.0,191.5L911.0,151.8 935.4,151.8 935.4,130.0 959.7,130.0 959.7,120.9 984.0,120.9 984.0,119.9 1008.4,119.9 1008.4,124.0 1032.7,124.0 1032.7,135.8 1057.0,135.8 1057.0,148.0 1081.4,148.0 1081.4,162.1 1105.7,162.1 1105.7,175.7 1130.0,175.7 1130.0,188.4 1154.4,188.4 1154.4,200.3 1178.7,200.3 1178.7,211.1 1203.0,211.1 1203.0,219.7 1227.4,219.7 1227.4,226.3 1251.7,226.3 1251.7,232.0 1276.0,232.0 1276.0,236.0 1300.4,236.0 1300.4,238.9 1324.7,238.9 1324.7,240.7 1349.0,240.7 1349.0,242.0 1373.4,242.0 1373.4,242.9 1397.7,242.9 1397.7,243.5 1422.0,243.5 1422.0,243.8 1446.4,243.8 1446.4,244.1 1470.7,244.1 1470.7,244.3 1495.0,244.3" fill="none" stroke="#2b748e" stroke-width="3.10" stroke-opacity="0.500" stroke-linejoin="round"/>
<path d="M911.2,191.3L911.2,151.7 935.5,151.7 935.5,130.0 959.8,130.0 959.8,121.0 984.2,121.0 984.2,120.1 1008.5,120.1 1008.5,124.2 1032.8,124.2 1032.8,135.9 1057.2,135.9 1057.2,148.1 1081.5,148.1 1081.5,162.2 1105.8,162.2 1105.8,175.7 1130.2,175.7 1130.2,188.4 1154.5,188.4 1154.5,200.3 1178.8,200.3 1178.8,211.0 1203.2,211.0 1203.2,219.7 1227.5,219.7 1227.5,226.3 1251.8,226.3 1251.8,231.9 1276.2,231.9 1276.2,236.0 1300.5,236.0 1300.5,238.8 1324.8,238.8 1324.8,240.7 1349.2,240.7 1349.2,242.0 1373.5,242.0 1373.5,242.9 1397.8,242.9 1397.8,243.5 1422.2,243.5 1422.2,243.8 1446.5,243.8 1446.5,244.1 1470.8,244.1 1470.8,244.3 1495.2,244.3" fill="none" stroke="#29798e" stroke-width="3.10" stroke-opacity="0.500" stroke-linejoin="round"/>
<path d="M911.3,191.1L911.3,151.5 935.6,151.5 935.6,130.0 960.0,130.0 960.0,121.1 984.3,121.1 984.3,120.2 1008.6,120.2 1008.6,124.3 1033.0,124.3 1033.0,136.0 1057.3,136.0 1057.3,148.3 1081.6,148.3 1081.6,162.2 1106.0,162.2 1106.0,175.7 1130.3,175.7 1130.3,188.4 1154.6,188.4 1154.6,200.3 1179.0,200.3 1179.0,211.0 1203.3,211.0 1203.3,219.6 1227.6,219.6 1227.6,226.2 1252.0,226.2 1252.0,231.9 1276.3,231.9 1276.3,235.9 1300.6,235.9 1300.6,238.8 1325.0,238.8 1325.0,240.6 1349.3,240.6 1349.3,242.0 1373.6,242.0 1373.6,242.9 1398.0,242.9 1398.0,243.5 1422.3,243.5 1422.3,243.8 1446.6,243.8 1446.6,244.1 1471.0,244.1 1471.0,244.3 1495.3,244.3" fill="none" stroke="#277e8e" stroke-width="3.10" stroke-opacity="0.500" stroke-linejoin="round"/>
<path d="M911.4,190.9L911.4,151.4 935.8,151.4 935.8,129.9 960.1,129.9 960.1,121.2 984.4,121.2 984.4,120.3 1008.8,120.3 1008.8,124.5 1033.1,124.5 1033.1,136.2 1057.4,136.2 1057.4,148.4 1081.8,148.4 1081.8,162.3 1106.1,162.3 1106.1,175.7 1130.4,175.7 1130.4,188.3 1154.8,188.3 1154.8,200.3 1179.1,200.3 1179.1,210.9 1203.4,210.9 1203.4,219.6 1227.8,219.6 1227.8,226.2 1252.1,226.2 1252.1,231.9 1276.4,231.9 1276.4,235.9 1300.7,235.9 1300.7,238.8 1325.1,238.8 1325.1,240.6 1349.4,240.6 1349.4,242.0 1373.7,242.0 1373.7,242.9 1398.1,242.9 1398.1,243.5 1422.4,243.5 1422.4,243.8 1446.7,243.8 1446.7,244.1 1471.1,244.1 1471.1,244.3 1495.4,244.3" fill="none" stroke="#25838e" stroke-width="3.10" stroke-opacity="0.500" stroke-linejoin="round"/>
<path d="M911.6,190.7L911.6,151.3 935.9,151.3 935.9,129.9 960.2,129.9 960.2,121.2 984.6,121.2 984.6,120.5 1008.9,120.5 1008.9,124.6 1033.2,124.6 1033.2,136.3 1057.5,136.3 1057.5,148.5 1081.9,148.5 1081.9,162.4 1106.2,162.4 1106.2,175.8 1130.5,175.8 1130.5,188.3 1154.9,188.3 1154.9,200.2 1179.2,200.2 1179.2,210.9 1203.5,210.9 1203.5,219.5 1227.9,219.5 1227.9,226.2 1252.2,226.2 1252.2,231.8 1276.5,231.8 1276.5,235.9 1300.9,235.9 1300.9,238.8 1325.2,238.8 1325.2,240.6 1349.5,240.6 1349.5,242.0 1373.9,242.0 1373.9,242.9 1398.2,242.9 1398.2,243.5 1422.5,243.5 1422.5,243.8 1446.9,243.8 1446.9,244.1 1471.2,244.1 1471.2,244.3 1495.5,244.3" fill="none" stroke="#23888e" stroke-width="3.10" stroke-opacity="0.500" stroke-linejoin="round"/>
<path d="M911.7,190.5L911.7,151.1 936.0,151.1 936.0,129.9 960.3,129.9 960.3,121.3 984.7,121.3 984.7,120.6 1009.0,120.6 1009.0,124.8 1033.3,124.8 1033.3,136.4 1057.7,136.4 1057.7,148.6 1082.0,148.6 1082.0,162.4 1106.3,162.4 1106.3,175.8 1130.7,175.8 1130.7,188.3 1155.0,188.3 1155.0,200.2 1179.3,200.2 1179.3,210.9 1203.7,210.9 1203.7,219.5 1228.0,219.5 1228.0,226.1 1252.3,226.1 1252.3,231.8 1276.7,231.8 1276.7,235.8 1301.0,235.8 1301.0,238.7 1325.3,238.7 1325.3,240.6 1349.7,240.6 1349.7,242.0 1374.0,242.0 1374.0,242.9 1398.3,242.9 1398.3,243.5 1422.7,243.5 1422.7,243.8 1447.0,243.8 1447.0,244.1 1471.3,244.1 1471.3,244.3 1495.7,244.3" fill="none" stroke="#218e8d" stroke-width="3.10" stroke-opacity="0.500" stroke-linejoin="round"/>
<path d="M911.8,190.3L911.8,151.0 936.1,151.0 936.1,129.9 960.5,129.9 960.5,121.4 984.8,121.4 984.8,120.7 1009.1,120.7 1009.1,124.9 1033.5,124.9 1033.5,136.6 1057.8,136.6 1057.8,148.7 1082.1,148.7 1082.1,162.5 1106.5,162.5 1106.5,175.8 1130.8,175.8 1130.8,188.3 1155.1,188.3 1155.1,200.2 1179.5,200.2 1179.5,210.8 1203.8,210.8 1203.8,219.4 1228.1,219.4 1228.1,226.1 1252.5,226.1 1252.5,231.8 1276.8,231.8 1276.8,235.8 1301.1,235.8 1301.1,238.7 1325.5,238.7 1325.5,240.6 1349.8,240.6 1349.8,242.0 1374.1,242.0 1374.1,242.9 1398.5,242.9 1398.5,243.5 1422.8,243.5 1422.8,243.8 1447.1,243.8 1447.1,244.0 1471.5,244.0 1471.5,244.3 1495.8,244.3" fill="none" stroke="#20928c" stroke-width="3.10" stroke-opacity="0.500" stroke-linejoin="round"/>
<path d="M911.9,190.0L911.9,150.8 936.3,150.8 936.3,129.8 960.6,129.8 960.6,121.4 984.9,121.4 984.9,120.8 1009.3,120.8 1009.3,125.1 1033.6,125.1 1033.6,136.7 1057.9,136.7 1057.9,148.8 1082.3,148.8 1082.3,162.6 1106.6,162.6 1106.6,175.8 1130.9,175.8 1130.9,188.3 1155.3,188.3 1155.3,200.2 1179.6,200.2 1179.6,210.8 1203.9,210.8 1203.9,219.4 1228.3,219.4 1228.3,226.0 1252.6,226.0 1252.6,231.7 1276.9,231.7 1276.9,235.8 1301.3,235.8 1301.3,238.7 1325.6,238.7 1325.6,240.6 1349.9,240.6 1349.9,241.9 1374.3,241.9 1374.3,242.9 1398.6,242.9 1398.6,243.5 1422.9,243.5 1422.9,243.8 1447.3,243.8 1447.3,244.0 1471.6,244.0 1471.6,244.3 1495.9,244.3" fill="none" stroke="#1f988b" stroke-width="3.10" stroke-opacity="0.500" stroke-linejoin="round"/>
<path d="M912.1,189.8L912.1,150.7 936.4,150.7 936.4,129.8 960.7,129.8 960.7,121.5 985.1,121.5 985.1,121.0 1009.4,121.0 1009.4,125.2 1033.7,125.2 1033.7,136.8 1058.1,136.8 1058.1,148.9 1082.4,148.9 1082.4,162.6 1106.7,162.6 1106.7,175.9 1131.1,175.9 1131.1,188.3 1155.4,188.3 1155.4,200.1 1179.7,200.1 1179.7,210.7 1204.1,210.7 1204.1,219.4 1228.4,219.4 1228.4,226.0 1252.7,226.0 1252.7,231.7 1277.1,231.7 1277.1,235.8 1301.4,235.8 1301.4,238.7 1325.7,238.7 1325.7,240.5 1350.1,240.5 1350.1,241.9 1374.4,241.9 1374.4,242.9 1398.7,242.9 1398.7,243.5 1423.1,243.5 1423.1,243.8 1447.4,243.8 1447.4,244.0 1471.7,244.0 1471.7,244.3 1496.1,244.3" fill="none" stroke="#1e9d89" stroke-width="3.10" stroke-opacity="0.500" stroke-linejoin="round"/>
<path d="M912.2,189.6L912.2,150.6 936.5,150.6 936.5,129.8 960.9,129.8 960.9,121.6 985.2,121.6 985.2,121.1 1009.5,121.1 1009.5,125.4 1033.9,125.4 1033.9,137.0 1058.2,137.0 1058.2,149.0 1082.5,149.0 1082.5,162.7 1106.9,162.7 1106.9,175.9 1131.2,175.9 1131.2,188.3 1155.5,188.3 1155.5,200.1 1179.9,200.1 1179.9,210.7 1204.2,210.7 1204.2,219.3 1228.5,219.3 1228.5,225.9 1252.9,225.9 1252.9,231.6 1277.2,231.6 1277.2,235.7 1301.5,235.7 1301.5,238.6 1325.9,238.6 1325.9,240.5 1350.2,240.5 1350.2,241.9 1374.5,241.9 1374.5,242.9 1398.9,242.9 1398.9,243.4 1423.2,243.4 1423.2,243.8 1447.5,243.8 1447.5,244.0 1471.9,244.0 1471.9,244.3 1496.2,244.3" fill="none" stroke="#1fa287" stroke-width="3.10" stroke-opacity="0.500" stroke-linejoin="round"/>
<path d="M912.3,189.4L912.3,150.4 936.7,150.4 936.7,129.8 961.0,129.8 961.0,121.7 985.3,121.7 985.3,121.2 1009.7,121.2 1009.7,125.5 1034.0,125.5 1034.0,137.1 1058.3,137.1 1058.3,149.1 1082.7,149.1 1082.7,162.7 1107.0,162.7 1107.0,175.9 1131.3,175.9 1131.3,188.3 1155.7,188.3 1155.7,200.1 1180.0,200.1 1180.0,210.7 1204.3,210.7 1204.3,219.3 1228.7,219.3 1228.7,225.9 1253.0,225.9 1253.0,231.6 1277.3,231.6 1277.3,235.7 1301.7,235.7 1301.7,238.6 1326.0,238.6 1326.0,240.5 1350.3,240.5 1350.3,241.9 1374.7,241.9 1374.7,242.8 1399.0,242.8 1399.0,243.4 1423.3,243.4 1423.3,243.8 1447.7,243.8 1447.7,244.0 1472.0,244.0 1472.0,244.3 1496.3,244.3" fill="none" stroke="#22a785" stroke-width="3.10" stroke-opacity="0.500" stroke-linejoin="round"/>
<path d="M912.5,189.2L912.5,150.3 936.8,150.3 936.8,129.8 961.1,129.8 961.1,121.7 985.5,121.7 985.5,121.4 1009.8,121.4 1009.8,125.7 1034.1,125.7 1034.1,137.2 1058.5,137.2 1058.5,149.2 1082.8,149.2 1082.8,162.8 1107.1,162.8 1107.1,176.0 1131.5,176.0 1131.5,188.3 1155.8,188.3 1155.8,200.1 1180.1,200.1 1180.1,210.6 1204.5,210.6 1204.5,219.2 1228.8,219.2 1228.8,225.9 1253.1,225.9 1253.1,231.6 1277.5,231.6 1277.5,235.7 1301.8,235.7 1301.8,238.6 1326.1,238.6 1326.1,240.5 1350.5,240.5 1350.5,241.9 1374.8,241.9 1374.8,242.8 1399.1,242.8 1399.1,243.4 1423.5,243.4 1423.5,243.8 1447.8,243.8 1447.8,244.0 1472.1,244.0 1472.1,244.3 1496.4,244.3" fill="none" stroke="#25ac82" stroke-width="3.10" stroke-opacity="0.500" stroke-linejoin="round"/>
<path d="M912.6,189.0L912.6,150.2 936.9,150.2 936.9,129.7 961.3,129.7 961.3,121.8 985.6,121.8 985.6,121.5 1009.9,121.5 1009.9,125.8 1034.3,125.8 1034.3,137.4 1058.6,137.4 1058.6,149.3 1082.9,149.3 1082.9,162.9 1107.3,162.9 1107.3,176.0 1131.6,176.0 1131.6,188.3 1155.9,188.3 1155.9,200.0 1180.2,200.0 1180.2,210.6 1204.6,210.6 1204.6,219.2 1228.9,219.2 1228.9,225.8 1253.2,225.8 1253.2,231.5 1277.6,231.5 1277.6,235.6 1301.9,235.6 1301.9,238.6 1326.2,238.6 1326.2,240.5 1350.6,240.5 1350.6,241.9 1374.9,241.9 1374.9,242.8 1399.2,242.8 1399.2,243.4 1423.6,243.4 1423.6,243.8 1447.9,243.8 1447.9,244.0 1472.2,244.0 1472.2,244.3 1496.6,244.3" fill="none" stroke="#2cb17e" stroke-width="3.10" stroke-opacity="0.500" stroke-linejoin="round"/>
<path d="M912.7,188.8L912.7,150.0 937.0,150.0 937.0,129.7 961.4,129.7 961.4,121.9 985.7,121.9 985.7,121.6 1010.0,121.6 1010.0,125.9 1034.4,125.9 1034.4,137.5 1058.7,137.5 1058.7,149.4 1083.0,149.4 1083.0,162.9 1107.4,162.9 1107.4,176.0 1131.7,176.0 1131.7,188.3 1156.0,188.3 1156.0,200.0 1180.4,200.0 1180.4,210.6 1204.7,210.6 1204.7,219.1 1229.0,219.1 1229.0,225.8 1253.4,225.8 1253.4,231.5 1277.7,231.5 1277.7,235.6 1302.0,235.6 1302.0,238.5 1326.4,238.5 1326.4,240.4 1350.7,240.4 1350.7,241.9 1375.0,241.9 1375.0,242.8 1399.4,242.8 1399.4,243.4 1423.7,243.4 1423.7,243.8 1448.0,243.8 1448.0,244.0 1472.4,244.0 1472.4,244.3 1496.7,244.3" fill="none" stroke="#32b67a" stroke-width="3.10" stroke-opacity="0.500" stroke-linejoin="round"/>
<path d="M912.8,188.5L912.8,149.9 937.2,149.9 937.2,129.7 961.5,129.7 961.5,121.9 985.8,121.9 985.8,121.7 1010.2,121.7 1010.2,126.1 1034.5,126.1 1034.5,137.6 1058.8,137.6 1058.8,149.5 1083.2,149.5 1083.2,163.0 1107.5,163.0 1107.5,176.0 1131.8,176.0 1131.8,188.3 1156.2,188.3 1156.2,200.0 1180.5,200.0 1180.5,210.5 1204.8,210.5 1204.8,219.1 1229.2,219.1 1229.2,225.7 1253.5,225.7 1253.5,231.5 1277.8,231.5 1277.8,235.6 1302.2,235.6 1302.2,238.5 1326.5,238.5 1326.5,240.4 1350.8,240.4 1350.8,241.9 1375.2,241.9 1375.2,242.8 1399.5,242.8 1399.5,243.4 1423.8,243.4 1423.8,243.8 1448.2,243.8 1448.2,244.0 1472.5,244.0 1472.5,244.3 1496.8,244.3" fill="none" stroke="#3bbb75" stroke-width="3.10" stroke-opacity="0.500" stroke-linejoin="round"/>
<path d="M913.0,188.3L913.0,149.8 937.3,149.8 937.3,129.7 961.6,129.7 961.6,122.0 986.0,122.0 986.0,121.9 1010.3,121.9 1010.3,126.2 1034.6,126.2 1034.6,137.8 1059.0,137.8 1059.0,149.6 1083.3,149.6 1083.3,163.1 1107.6,163.1 1107.6,176.1 1132.0,176.1 1132.0,188.3 1156.3,188.3 1156.3,200.0 1180.6,200.0 1180.6,210.5 1205.0,210.5 1205.0,219.1 1229.3,219.1 1229.3,225.7 1253.6,225.7 1253.6,231.4 1278.0,231.4 1278.0,235.5 1302.3,235.5 1302.3,238.5 1326.6,238.5 1326.6,240.4 1351.0,240.4 1351.0,241.8 1375.3,241.8 1375.3,242.8 1399.6,242.8 1399.6,243.4 1424.0,243.4 1424.0,243.8 1448.3,243.8 1448.3,244.0 1472.6,244.0 1472.6,244.3 1497.0,244.3" fill="none" stroke="#44bf70" stroke-width="3.10" stroke-opacity="0.500" stroke-linejoin="round"/>
<path d="M913.1,188.1L913.1,149.6 937.4,149.6 937.4,129.6 961.8,129.6 961.8,122.1 986.1,122.1 986.1,122.0 1010.4,122.0 1010.4,126.4 1034.8,126.4 1034.8,137.9 1059.1,137.9 1059.1,149.7 1083.4,149.7 1083.4,163.1 1107.8,163.1 1107.8,176.1 1132.1,176.1 1132.1,188.3 1156.4,188.3 1156.4,199.9 1180.8,199.9 1180.8,210.4 1205.1,210.4 1205.1,219.0 1229.4,219.0 1229.4,225.6 1253.8,225.6 1253.8,231.4 1278.1,231.4 1278.1,235.5 1302.4,235.5 1302.4,238.5 1326.8,238.5 1326.8,240.4 1351.1,240.4 1351.1,241.8 1375.4,241.8 1375.4,242.8 1399.8,242.8 1399.8,243.4 1424.1,243.4 1424.1,243.8 1448.4,243.8 1448.4,244.0 1472.8,244.0 1472.8,244.3 1497.1,244.3" fill="none" stroke="#50c46a" stroke-width="3.10" stroke-opacity="0.500" stroke-linejoin="round"/>
<path d="M913.2,187.9L913.2,149.5 937.6,149.5 937.6,129.6 961.9,129.6 961.9,122.2 986.2,122.2 986.2,122.1 1010.6,122.1 1010.6,126.5 1034.9,126.5 1034.9,138.0 1059.2,138.0 1059.2,149.8 1083.6,149.8 1083.6,163.2 1107.9,163.2 1107.9,176.1 1132.2,176.1 1132.2,188.3 1156.6,188.3 1156.6,199.9 1180.9,199.9 1180.9,210.4 1205.2,210.4 1205.2,219.0 1229.6,219.0 1229.6,225.6 1253.9,225.6 1253.9,231.4 1278.2,231.4 1278.2,235.5 1302.6,235.5 1302.6,238.5 1326.9,238.5 1326.9,240.4 1351.2,240.4 1351.2,241.8 1375.6,241.8 1375.6,242.8 1399.9,242.8 1399.9,243.4 1424.2,243.4 1424.2,243.8 1448.6,243.8 1448.6,244.0 1472.9,244.0 1472.9,244.3 1497.2,244.3" fill="none" stroke="#5ac864" stroke-width="3.10" stroke-opacity="0.500" stroke-linejoin="round"/>
<path d="M913.4,187.7L913.4,149.3 937.7,149.3 937.7,129.6 962.0,129.6 962.0,122.2 986.4,122.2 986.4,122.2 1010.7,122.2 1010.7,126.7 1035.0,126.7 1035.0,138.2 1059.4,138.2 1059.4,149.9 1083.7,149.9 1083.7,163.3 1108.0,163.3 1108.0,176.2 1132.4,176.2 1132.4,188.3 1156.7,188.3 1156.7,199.9 1181.0,199.9 1181.0,210.4 1205.4,210.4 1205.4,218.9 1229.7,218.9 1229.7,225.6 1254.0,225.6 1254.0,231.3 1278.4,231.3 1278.4,235.5 1302.7,235.5 1302.7,238.4 1327.0,238.4 1327.0,240.3 1351.4,240.3 1351.4,241.8 1375.7,241.8 1375.7,242.8 1400.0,242.8 1400.0,243.4 1424.4,243.4 1424.4,243.8 1448.7,243.8 1448.7,244.0 1473.0,244.0 1473.0,244.2 1497.4,244.2" fill="none" stroke="#67cc5c" stroke-width="3.10" stroke-opacity="0.500" stroke-linejoin="round"/>
<path d="M913.5,187.5L913.5,149.2 937.8,149.2 937.8,129.6 962.2,129.6 962.2,122.3 986.5,122.3 986.5,122.4 1010.8,122.4 1010.8,126.8 1035.2,126.8 1035.2,138.3 1059.5,138.3 1059.5,150.0 1083.8,150.0 1083.8,163.3 1108.2,163.3 1108.2,176.2 1132.5,176.2 1132.5,188.3 1156.8,188.3 1156.8,199.9 1181.2,199.9 1181.2,210.3 1205.5,210.3 1205.5,218.9 1229.8,218.9 1229.8,225.5 1254.2,225.5 1254.2,231.3 1278.5,231.3 1278.5,235.4 1302.8,235.4 1302.8,238.4 1327.2,238.4 1327.2,240.3 1351.5,240.3 1351.5,241.8 1375.8,241.8 1375.8,242.8 1400.2,242.8 1400.2,243.4 1424.5,243.4 1424.5,243.7 1448.8,243.7 1448.8,244.0 1473.2,244.0 1473.2,244.2 1497.5,244.2" fill="none" stroke="#73d056" stroke-width="3.10" stroke-opacity="0.500" stroke-linejoin="round"/>
<path d="M913.6,187.3L913.6,149.1 938.0,149.1 938.0,129.6 962.3,129.6 962.3,122.4 986.6,122.4 986.6,122.5 1011.0,122.5 1011.0,127.0 1035.3,127.0 1035.3,138.4 1059.6,138.4 1059.6,150.1 1084.0,150.1 1084.0,163.4 1108.3,163.4 1108.3,176.2 1132.6,176.2 1132.6,188.3 1157.0,188.3 1157.0,199.8 1181.3,199.8 1181.3,210.3 1205.6,210.3 1205.6,218.9 1230.0,218.9 1230.0,225.5 1254.3,225.5 1254.3,231.2 1278.6,231.2 1278.6,235.4 1303.0,235.4 1303.0,238.4 1327.3,238.4 1327.3,240.3 1351.6,240.3 1351.6,241.8 1375.9,241.8 1375.9,242.7 1400.3,242.7 1400.3,243.4 1424.6,243.4 1424.6,243.7 1448.9,243.7 1448.9,244.0 1473.3,244.0 1473.3,244.2 1497.6,244.2" fill="none" stroke="#7fd34e" stroke-width="3.10" stroke-opacity="0.500" stroke-linejoin="round"/>
<path d="M913.8,187.0L913.8,148.9 938.1,148.9 938.1,129.5 962.4,129.5 962.4,122.4 986.8,122.4 986.8,122.6 1011.1,122.6 1011.1,127.1 1035.4,127.1 1035.4,138.6 1059.7,138.6 1059.7,150.2 1084.1,150.2 1084.1,163.5 1108.4,163.5 1108.4,176.2 1132.7,176.2 1132.7,188.3 1157.1,188.3 1157.1,199.8 1181.4,199.8 1181.4,210.3 1205.7,210.3 1205.7,218.8 1230.1,218.8 1230.1,225.4 1254.4,225.4 1254.4,231.2 1278.7,231.2 1278.7,235.4 1303.1,235.4 1303.1,238.4 1327.4,238.4 1327.4,240.3 1351.7,240.3 1351.7,241.8 1376.1,241.8 1376.1,242.7 1400.4,242.7 1400.4,243.4 1424.7,243.4 1424.7,243.7 1449.1,243.7 1449.1,244.0 1473.4,244.0 1473.4,244.2 1497.7,244.2" fill="none" stroke="#8ed645" stroke-width="3.10" stroke-opacity="0.500" stroke-linejoin="round"/>
<path d="M913.9,186.8L913.9,148.8 938.2,148.8 938.2,129.5 962.5,129.5 962.5,122.5 986.9,122.5 986.9,122.8 1011.2,122.8 1011.2,127.3 1035.5,127.3 1035.5,138.7 1059.9,138.7 1059.9,150.3 1084.2,150.3 1084.2,163.5 1108.5,163.5 1108.5,176.3 1132.9,176.3 1132.9,188.3 1157.2,188.3 1157.2,199.8 1181.5,199.8 1181.5,210.2 1205.9,210.2 1205.9,218.8 1230.2,218.8 1230.2,225.4 1254.5,225.4 1254.5,231.2 1278.9,231.2 1278.9,235.3 1303.2,235.3 1303.2,238.3 1327.5,238.3 1327.5,240.3 1351.9,240.3 1351.9,241.7 1376.2,241.7 1376.2,242.7 1400.5,242.7 1400.5,243.4 1424.9,243.4 1424.9,243.7 1449.2,243.7 1449.2,244.0 1473.5,244.0 1473.5,244.2 1497.9,244.2" fill="none" stroke="#9bd93c" stroke-width="3.10" stroke-opacity="0.500" stroke-linejoin="round"/>
<path d="M914.0,186.6L914.0,148.7 938.3,148.7 938.3,129.5 962.7,129.5 962.7,122.6 987.0,122.6 987.0,122.9 1011.3,122.9 1011.3,127.4 1035.7,127.4 1035.7,138.8 1060.0,138.8 1060.0,150.4 1084.3,150.4 1084.3,163.6 1108.7,163.6 1108.7,176.3 1133.0,176.3 1133.0,188.3 1157.3,188.3 1157.3,199.8 1181.7,199.8 1181.7,210.2 1206.0,210.2 1206.0,218.7 1230.3,218.7 1230.3,225.4 1254.7,225.4 1254.7,231.1 1279.0,231.1 1279.0,235.3 1303.3,235.3 1303.3,238.3 1327.7,238.3 1327.7,240.2 1352.0,240.2 1352.0,241.7 1376.3,241.7 1376.3,242.7 1400.7,242.7 1400.7,243.3 1425.0,243.3 1425.0,243.7 1449.3,243.7 1449.3,244.0 1473.7,244.0 1473.7,244.2 1498.0,244.2" fill="none" stroke="#aadc32" stroke-width="3.10" stroke-opacity="0.500" stroke-linejoin="round"/>
<path d="M914.1,186.4L914.1,148.5 938.5,148.5 938.5,129.5 962.8,129.5 962.8,122.7 987.1,122.7 987.1,123.0 1011.5,123.0 1011.5,127.5 1035.8,127.5 1035.8,138.9 1060.1,138.9 1060.1,150.5 1084.5,150.5 1084.5,163.6 1108.8,163.6 1108.8,176.3 1133.1,176.3 1133.1,188.3 1157.5,188.3 1157.5,199.8 1181.8,199.8 1181.8,210.2 1206.1,210.2 1206.1,218.7 1230.5,218.7 1230.5,225.3 1254.8,225.3 1254.8,231.1 1279.1,231.1 1279.1,235.3 1303.5,235.3 1303.5,238.3 1327.8,238.3 1327.8,240.2 1352.1,240.2 1352.1,241.7 1376.5,241.7 1376.5,242.7 1400.8,242.7 1400.8,243.3 1425.1,243.3 1425.1,243.7 1449.5,243.7 1449.5,244.0 1473.8,244.0 1473.8,244.2 1498.1,244.2" fill="none" stroke="#b8de29" stroke-width="3.10" stroke-opacity="0.500" stroke-linejoin="round"/>
<path d="M914.3,186.2L914.3,148.4 938.6,148.4 938.6,129.5 962.9,129.5 962.9,122.7 987.3,122.7 987.3,123.1 1011.6,123.1 1011.6,127.7 1035.9,127.7 1035.9,139.1 1060.3,139.1 1060.3,150.6 1084.6,150.6 1084.6,163.7 1108.9,163.7 1108.9,176.4 1133.3,176.4 1133.3,188.3 1157.6,188.3 1157.6,199.7 1181.9,199.7 1181.9,210.1 1206.3,210.1 1206.3,218.6 1230.6,218.6 1230.6,225.3 1254.9,225.3 1254.9,231.1 1279.3,231.1 1279.3,235.2 1303.6,235.2 1303.6,238.3 1327.9,238.3 1327.9,240.2 1352.3,240.2 1352.3,241.7 1376.6,241.7 1376.6,242.7 1400.9,242.7 1400.9,243.3 1425.3,243.3 1425.3,243.7 1449.6,243.7 1449.6,244.0 1473.9,244.0 1473.9,244.2 1498.3,244.2" fill="none" stroke="#c8e020" stroke-width="3.10" stroke-opacity="0.500" stroke-linejoin="round"/>
<path d="M914.4,186.0L914.4,148.3 938.7,148.3 938.7,129.5 963.1,129.5 963.1,122.8 987.4,122.8 987.4,123.3 1011.7,123.3 1011.7,127.8 1036.1,127.8 1036.1,139.2 1060.4,139.2 1060.4,150.7 1084.7,150.7 1084.7,163.8 1109.1,163.8 1109.1,176.4 1133.4,176.4 1133.4,188.3 1157.7,188.3 1157.7,199.7 1182.1,199.7 1182.1,210.1 1206.4,210.1 1206.4,218.6 1230.7,218.6 1230.7,225.2 1255.1,225.2 1255.1,231.0 1279.4,231.0 1279.4,235.2 1303.7,235.2 1303.7,238.2 1328.1,238.2 1328.1,240.2 1352.4,240.2 1352.4,241.7 1376.7,241.7 1376.7,242.7 1401.1,242.7 1401.1,243.3 1425.4,243.3 1425.4,243.7 1449.7,243.7 1449.7,244.0 1474.1,244.0 1474.1,244.2 1498.4,244.2" fill="none" stroke="#d5e21a" stroke-width="3.10" stroke-opacity="0.500" stroke-linejoin="round"/>
<path d="M914.5,185.7L914.5,148.2 938.9,148.2 938.9,129.4 963.2,129.4 963.2,122.9 987.5,122.9 987.5,123.4 1011.9,123.4 1011.9,128.0 1036.2,128.0 1036.2,139.3 1060.5,139.3 1060.5,150.8 1084.9,150.8 1084.9,163.8 1109.2,163.8 1109.2,176.4 1133.5,176.4 1133.5,188.3 1157.9,188.3 1157.9,199.7 1182.2,199.7 1182.2,210.1 1206.5,210.1 1206.5,218.6 1230.9,218.6 1230.9,225.2 1255.2,225.2 1255.2,231.0 1279.5,231.0 1279.5,235.2 1303.9,235.2 1303.9,238.2 1328.2,238.2 1328.2,240.2 1352.5,240.2 1352.5,241.7 1376.9,241.7 1376.9,242.7 1401.2,242.7 1401.2,243.3 1425.5,243.3 1425.5,243.7 1449.9,243.7 1449.9,244.0 1474.2,244.0 1474.2,244.2 1498.5,244.2" fill="none" stroke="#e5e419" stroke-width="3.10" stroke-opacity="0.500" stroke-linejoin="round"/>
<path d="M914.7,185.5L914.7,148.0 939.0,148.0 939.0,129.4 963.3,129.4 963.3,123.0 987.7,123.0 987.7,123.5 1012.0,123.5 1012.0,128.1 1036.3,128.1 1036.3,139.5 1060.7,139.5 1060.7,150.9 1085.0,150.9 1085.0,163.9 1109.3,163.9 1109.3,176.4 1133.7,176.4 1133.7,188.3 1158.0,188.3 1158.0,199.7 1182.3,199.7 1182.3,210.0 1206.7,210.0 1206.7,218.5 1231.0,218.5 1231.0,225.2 1255.3,225.2 1255.3,230.9 1279.7,230.9 1279.7,235.1 1304.0,235.1 1304.0,238.2 1328.3,238.2 1328.3,240.2 1352.7,240.2 1352.7,241.7 1377.0,241.7 1377.0,242.7 1401.3,242.7 1401.3,243.3 1425.7,243.3 1425.7,243.7 1450.0,243.7 1450.0,244.0 1474.3,244.0 1474.3,244.2 1498.6,244.2" fill="none" stroke="#f1e51d" stroke-width="3.10" stroke-opacity="0.500" stroke-linejoin="round"/>
<path d="M914.8,185.3L914.8,147.9 939.1,147.9 939.1,129.4 963.5,129.4 963.5,123.0 987.8,123.0 987.8,123.6 1012.1,123.6 1012.1,128.3 1036.5,128.3 1036.5,139.6 1060.8,139.6 1060.8,151.0 1085.1,151.0 1085.1,164.0 1109.5,164.0 1109.5,176.5 1133.8,176.5 1133.8,188.3 1158.1,188.3 1158.1,199.6 1182.5,199.6 1182.5,210.0 1206.8,210.0 1206.8,218.5 1231.1,218.5 1231.1,225.1 1255.4,225.1 1255.4,230.9 1279.8,230.9 1279.8,235.1 1304.1,235.1 1304.1,238.2 1328.4,238.2 1328.4,240.1 1352.8,240.1 1352.8,241.6 1377.1,241.6 1377.1,242.7 1401.4,242.7 1401.4,243.3 1425.8,243.3 1425.8,243.7 1450.1,243.7 1450.1,244.0 1474.4,244.0 1474.4,244.2 1498.8,244.2" fill="none" stroke="#fde725" stroke-width="3.10" stroke-opacity="0.500" stroke-linejoin="round"/>
</g>
<text x="1504.60" y="42.30" text-anchor="end" font-size="18.1" fill="#000" stroke="#000" stroke-width="0.25">age</text>
<defs><linearGradient id="cb1g" x1="0" x2="1" y1="0" y2="0"><stop offset="0.000" stop-color="#440154"/><stop offset="0.050" stop-color="#471365"/><stop offset="0.100" stop-color="#482475"/><stop offset="0.150" stop-color="#463480"/><stop offset="0.200" stop-color="#414487"/><stop offset="0.250" stop-color="#3b528b"/><stop offset="0.300" stop-color="#355f8d"/><stop offset="0.350" stop-color="#2f6c8e"/><stop offset="0.400" stop-color="#2a788e"/><stop offset="0.450" stop-color="#25848e"/><stop offset="0.500" stop-color="#21918c"/><stop offset="0.550" stop-color="#1e9c89"/><stop offset="0.600" stop-color="#22a884"/><stop offset="0.650" stop-color="#2fb47c"/><stop offset="0.700" stop-color="#44bf70"/><stop offset="0.750" stop-color="#5ec962"/><stop offset="0.800" stop-color="#7ad151"/><stop offset="0.850" stop-color="#9bd93c"/><stop offset="0.900" stop-color="#bddf26"/><stop offset="0.950" stop-color="#dfe318"/><stop offset="1.000" stop-color="#fde725"/></linearGradient></defs>
<rect x="1243.60" y="52.40" width="262.20" height="23.40" fill="url(#cb1g)"/>
<line x1="1260.78" y1="52.40" x2="1260.78" y2="57.08" stroke="#fff" stroke-width="1"/>
<line x1="1260.78" y1="71.12" x2="1260.78" y2="75.80" stroke="#fff" stroke-width="1"/>
<text x="1260.78" y="97.20" text-anchor="middle" font-size="18.2" fill="#000" stroke="#000" stroke-width="0.25">20</text>
<line x1="1316.22" y1="52.40" x2="1316.22" y2="57.08" stroke="#fff" stroke-width="1"/>
<line x1="1316.22" y1="71.12" x2="1316.22" y2="75.80" stroke="#fff" stroke-width="1"/>
<text x="1316.22" y="97.20" text-anchor="middle" font-size="18.2" fill="#000" stroke="#000" stroke-width="0.25">30</text>
<line x1="1371.65" y1="52.40" x2="1371.65" y2="57.08" stroke="#fff" stroke-width="1"/>
<line x1="1371.65" y1="71.12" x2="1371.65" y2="75.80" stroke="#fff" stroke-width="1"/>
<text x="1371.65" y="97.20" text-anchor="middle" font-size="18.2" fill="#000" stroke="#000" stroke-width="0.25">40</text>
<line x1="1427.08" y1="52.40" x2="1427.08" y2="57.08" stroke="#fff" stroke-width="1"/>
<line x1="1427.08" y1="71.12" x2="1427.08" y2="75.80" stroke="#fff" stroke-width="1"/>
<text x="1427.08" y="97.20" text-anchor="middle" font-size="18.2" fill="#000" stroke="#000" stroke-width="0.25">50</text>
<line x1="1482.52" y1="52.40" x2="1482.52" y2="57.08" stroke="#fff" stroke-width="1"/>
<line x1="1482.52" y1="71.12" x2="1482.52" y2="75.80" stroke="#fff" stroke-width="1"/>
<text x="1482.52" y="97.20" text-anchor="middle" font-size="18.2" fill="#000" stroke="#000" stroke-width="0.25">60</text>
<rect x="880.05" y="7.05" width="647.40" height="247.90" fill="none" stroke="#333" stroke-width="1.7"/>
<line x1="871.10" y1="244.51" x2="879.20" y2="244.51" stroke="#333" stroke-width="2.6"/>
<text x="864.30" y="252.91" text-anchor="end" font-size="24" fill="#4d4d4d" stroke="#4d4d4d" stroke-width="0.3">0.00</text>
<line x1="871.10" y1="220.53" x2="879.20" y2="220.53" stroke="#333" stroke-width="2.6"/>
<text x="864.30" y="228.93" text-anchor="end" font-size="24" fill="#4d4d4d" stroke="#4d4d4d" stroke-width="0.3">0.02</text>
<line x1="871.10" y1="196.55" x2="879.20" y2="196.55" stroke="#333" stroke-width="2.6"/>
<text x="864.30" y="204.95" text-anchor="end" font-size="24" fill="#4d4d4d" stroke="#4d4d4d" stroke-width="0.3">0.04</text>
<line x1="871.10" y1="172.57" x2="879.20" y2="172.57" stroke="#333" stroke-width="2.6"/>
<text x="864.30" y="180.97" text-anchor="end" font-size="24" fill="#4d4d4d" stroke="#4d4d4d" stroke-width="0.3">0.06</text>
<line x1="871.10" y1="148.59" x2="879.20" y2="148.59" stroke="#333" stroke-width="2.6"/>
<text x="864.30" y="156.99" text-anchor="end" font-size="24" fill="#4d4d4d" stroke="#4d4d4d" stroke-width="0.3">0.08</text>
<line x1="871.10" y1="124.61" x2="879.20" y2="124.61" stroke="#333" stroke-width="2.6"/>
<text x="864.30" y="133.01" text-anchor="end" font-size="24" fill="#4d4d4d" stroke="#4d4d4d" stroke-width="0.3">0.10</text>
<line x1="908.70" y1="255.80" x2="908.70" y2="263.60" stroke="#333" stroke-width="2.6"/>
<text x="908.70" y="287.80" text-anchor="middle" font-size="24" fill="#4d4d4d" stroke="#4d4d4d" stroke-width="0.3">4</text>
<line x1="1054.70" y1="255.80" x2="1054.70" y2="263.60" stroke="#333" stroke-width="2.6"/>
<text x="1054.70" y="287.80" text-anchor="middle" font-size="24" fill="#4d4d4d" stroke="#4d4d4d" stroke-width="0.3">10</text>
<line x1="1200.70" y1="255.80" x2="1200.70" y2="263.60" stroke="#333" stroke-width="2.6"/>
<text x="1200.70" y="287.80" text-anchor="middle" font-size="24" fill="#4d4d4d" stroke="#4d4d4d" stroke-width="0.3">16</text>
<line x1="1346.70" y1="255.80" x2="1346.70" y2="263.60" stroke="#333" stroke-width="2.6"/>
<text x="1346.70" y="287.80" text-anchor="middle" font-size="24" fill="#4d4d4d" stroke="#4d4d4d" stroke-width="0.3">22</text>
<line x1="1492.70" y1="255.80" x2="1492.70" y2="263.60" stroke="#333" stroke-width="2.6"/>
<text x="1492.70" y="287.80" text-anchor="middle" font-size="24" fill="#4d4d4d" stroke="#4d4d4d" stroke-width="0.3">28</text>
<defs><clipPath id="c2"><rect x="138.00" y="322.30" width="649.10" height="249.60"/></clipPath></defs>
<g clip-path="url(#c2)">
<line x1="138.00" y1="548.62" x2="787.10" y2="548.62" stroke="#ebebeb" stroke-width="1.2"/>
<line x1="138.00" y1="524.64" x2="787.10" y2="524.64" stroke="#ebebeb" stroke-width="1.2"/>
<line x1="138.00" y1="500.66" x2="787.10" y2="500.66" stroke="#ebebeb" stroke-width="1.2"/>
<line x1="138.00" y1="476.68" x2="787.10" y2="476.68" stroke="#ebebeb" stroke-width="1.2"/>
<line x1="138.00" y1="452.70" x2="787.10" y2="452.70" stroke="#ebebeb" stroke-width="1.2"/>
<line x1="138.00" y1="428.72" x2="787.10" y2="428.72" stroke="#ebebeb" stroke-width="1.2"/>
<line x1="138.00" y1="416.73" x2="787.10" y2="416.73" stroke="#ebebeb" stroke-width="1.2"/>
<line x1="240.50" y1="322.30" x2="240.50" y2="571.90" stroke="#ebebeb" stroke-width="1.2"/>
<line x1="386.50" y1="322.30" x2="386.50" y2="571.90" stroke="#ebebeb" stroke-width="1.2"/>
<line x1="532.50" y1="322.30" x2="532.50" y2="571.90" stroke="#ebebeb" stroke-width="1.2"/>
<line x1="678.50" y1="322.30" x2="678.50" y2="571.90" stroke="#ebebeb" stroke-width="1.2"/>
<line x1="138.00" y1="560.61" x2="787.10" y2="560.61" stroke="#ebebeb" stroke-width="2.4"/>
<line x1="138.00" y1="536.63" x2="787.10" y2="536.63" stroke="#ebebeb" stroke-width="2.4"/>
<line x1="138.00" y1="512.65" x2="787.10" y2="512.65" stroke="#ebebeb" stroke-width="2.4"/>
<line x1="138.00" y1="488.67" x2="787.10" y2="488.67" stroke="#ebebeb" stroke-width="2.4"/>
<line x1="138.00" y1="464.69" x2="787.10" y2="464.69" stroke="#ebebeb" stroke-width="2.4"/>
<line x1="138.00" y1="440.71" x2="787.10" y2="440.71" stroke="#ebebeb" stroke-width="2.4"/>
<line x1="167.50" y1="322.30" x2="167.50" y2="571.90" stroke="#ebebeb" stroke-width="2.4"/>
<line x1="313.50" y1="322.30" x2="313.50" y2="571.90" stroke="#ebebeb" stroke-width="2.4"/>
<line x1="459.50" y1="322.30" x2="459.50" y2="571.90" stroke="#ebebeb" stroke-width="2.4"/>
<line x1="605.50" y1="322.30" x2="605.50" y2="571.90" stroke="#ebebeb" stroke-width="2.4"/>
<line x1="751.50" y1="322.30" x2="751.50" y2="571.90" stroke="#ebebeb" stroke-width="2.4"/>
<path d="M167.5,515.1L167.5,476.1 191.8,476.1 191.8,452.0 216.2,452.0 216.2,439.7 240.5,439.7 240.5,435.7 264.8,435.7 264.8,437.4 289.2,437.4 289.2,447.9 313.5,447.9 313.5,459.8 337.8,459.8 337.8,474.2 362.2,474.2 362.2,488.4 386.5,488.4 386.5,501.9 410.8,501.9 410.8,514.7 435.2,514.7 435.2,526.1 459.5,526.1 459.5,535.2 483.8,535.2 483.8,542.2 508.2,542.2 508.2,548.1 532.5,548.1 532.5,552.2 556.8,552.2 556.8,555.1 581.2,555.1 581.2,556.9 605.5,556.9 605.5,558.3 629.8,558.3 629.8,559.1 654.2,559.1 654.2,559.7 678.5,559.7 678.5,560.0 702.8,560.0 702.8,560.2 727.2,560.2 727.2,560.4 751.5,560.4" fill="none" stroke="#440154" stroke-width="3.10" stroke-opacity="0.750" stroke-linejoin="round"/>
<path d="M167.8,513.3L167.8,474.5 192.1,474.5 192.1,451.2 216.4,451.2 216.4,439.7 240.8,439.7 240.8,436.4 265.1,436.4 265.1,438.6 289.4,438.6 289.4,449.1 313.8,449.1 313.8,460.9 338.1,460.9 338.1,475.0 362.4,475.0 362.4,488.9 386.8,488.9 386.8,502.1 411.1,502.1 411.1,514.7 435.4,514.7 435.4,525.9 459.8,525.9 459.8,535.0 484.1,535.0 484.1,542.0 508.4,542.0 508.4,547.9 532.8,547.9 532.8,552.0 557.1,552.0 557.1,554.9 581.4,554.9 581.4,556.8 605.7,556.8 605.7,558.2 630.1,558.2 630.1,559.1 654.4,559.1 654.4,559.6 678.7,559.6 678.7,560.0 703.1,560.0 703.1,560.2 727.4,560.2 727.4,560.4 751.7,560.4" fill="none" stroke="#471063" stroke-width="3.10" stroke-opacity="0.750" stroke-linejoin="round"/>
<path d="M168.0,511.4L168.0,472.9 192.3,472.9 192.3,450.4 216.7,450.4 216.7,439.8 241.0,439.8 241.0,437.1 265.3,437.1 265.3,439.7 289.7,439.7 289.7,450.3 314.0,450.3 314.0,461.9 338.3,461.9 338.3,475.8 362.7,475.8 362.7,489.4 387.0,489.4 387.0,502.3 411.3,502.3 411.3,514.7 435.7,514.7 435.7,525.8 460.0,525.8 460.0,534.8 484.3,534.8 484.3,541.7 508.7,541.7 508.7,547.6 533.0,547.6 533.0,551.8 557.3,551.8 557.3,554.8 581.7,554.8 581.7,556.7 606.0,556.7 606.0,558.1 630.3,558.1 630.3,559.0 654.7,559.0 654.7,559.6 679.0,559.6 679.0,559.9 703.3,559.9 703.3,560.2 727.7,560.2 727.7,560.4 752.0,560.4" fill="none" stroke="#481f70" stroke-width="3.10" stroke-opacity="0.750" stroke-linejoin="round"/>
<path d="M168.3,509.6L168.3,471.3 192.6,471.3 192.6,449.7 216.9,449.7 216.9,439.9 241.3,439.9 241.3,437.9 265.6,437.9 265.6,440.8 289.9,440.8 289.9,451.5 314.3,451.5 314.3,463.0 338.6,463.0 338.6,476.5 362.9,476.5 362.9,489.9 387.3,489.9 387.3,502.6 411.6,502.6 411.6,514.7 435.9,514.7 435.9,525.7 460.3,525.7 460.3,534.6 484.6,534.6 484.6,541.5 508.9,541.5 508.9,547.4 533.3,547.4 533.3,551.6 557.6,551.6 557.6,554.6 581.9,554.6 581.9,556.6 606.3,556.6 606.3,558.0 630.6,558.0 630.6,558.9 654.9,558.9 654.9,559.5 679.3,559.5 679.3,559.9 703.6,559.9 703.6,560.1 727.9,560.1 727.9,560.4 752.3,560.4" fill="none" stroke="#472c7a" stroke-width="3.10" stroke-opacity="0.750" stroke-linejoin="round"/>
<path d="M168.5,507.6L168.5,469.7 192.8,469.7 192.8,449.0 217.2,449.0 217.2,440.1 241.5,440.1 241.5,438.6 265.8,438.6 265.8,441.9 290.2,441.9 290.2,452.6 314.5,452.6 314.5,464.0 338.8,464.0 338.8,477.3 363.2,477.3 363.2,490.4 387.5,490.4 387.5,502.8 411.8,502.8 411.8,514.8 436.2,514.8 436.2,525.6 460.5,525.6 460.5,534.4 484.8,534.4 484.8,541.3 509.2,541.3 509.2,547.2 533.5,547.2 533.5,551.4 557.8,551.4 557.8,554.5 582.2,554.5 582.2,556.4 606.5,556.4 606.5,557.9 630.8,557.9 630.8,558.9 655.2,558.9 655.2,559.5 679.5,559.5 679.5,559.9 703.8,559.9 703.8,560.1 728.2,560.1 728.2,560.4 752.5,560.4" fill="none" stroke="#443983" stroke-width="3.10" stroke-opacity="0.750" stroke-linejoin="round"/>
<path d="M168.8,505.7L168.8,468.2 193.1,468.2 193.1,448.3 217.4,448.3 217.4,440.2 241.8,440.2 241.8,439.4 266.1,439.4 266.1,443.0 290.4,443.0 290.4,453.8 314.8,453.8 314.8,465.0 339.1,465.0 339.1,478.1 363.4,478.1 363.4,490.9 387.8,490.9 387.8,503.1 412.1,503.1 412.1,514.8 436.4,514.8 436.4,525.5 460.8,525.5 460.8,534.3 485.1,534.3 485.1,541.1 509.4,541.1 509.4,547.0 533.8,547.0 533.8,551.3 558.1,551.3 558.1,554.3 582.4,554.3 582.4,556.3 606.8,556.3 606.8,557.8 631.1,557.8 631.1,558.8 655.4,558.8 655.4,559.4 679.8,559.4 679.8,559.8 704.1,559.8 704.1,560.1 728.4,560.1 728.4,560.3 752.8,560.3" fill="none" stroke="#404588" stroke-width="3.10" stroke-opacity="0.750" stroke-linejoin="round"/>
<path d="M169.0,503.7L169.0,466.7 193.3,466.7 193.3,447.7 217.7,447.7 217.7,440.4 242.0,440.4 242.0,440.2 266.3,440.2 266.3,444.0 290.7,444.0 290.7,454.8 315.0,454.8 315.0,466.0 339.3,466.0 339.3,478.8 363.7,478.8 363.7,491.4 388.0,491.4 388.0,503.3 412.3,503.3 412.3,514.8 436.7,514.8 436.7,525.4 461.0,525.4 461.0,534.1 485.3,534.1 485.3,540.8 509.7,540.8 509.7,546.8 534.0,546.8 534.0,551.1 558.3,551.1 558.3,554.2 582.7,554.2 582.7,556.2 607.0,556.2 607.0,557.7 631.3,557.7 631.3,558.7 655.7,558.7 655.7,559.4 680.0,559.4 680.0,559.8 704.3,559.8 704.3,560.1 728.7,560.1 728.7,560.3 753.0,560.3" fill="none" stroke="#3b518b" stroke-width="3.10" stroke-opacity="0.750" stroke-linejoin="round"/>
<path d="M169.3,501.7L169.3,465.2 193.6,465.2 193.6,447.1 217.9,447.1 217.9,440.6 242.3,440.6 242.3,440.9 266.6,440.9 266.6,445.1 290.9,445.1 290.9,455.9 315.3,455.9 315.3,466.9 339.6,466.9 339.6,479.5 363.9,479.5 363.9,491.8 388.3,491.8 388.3,503.6 412.6,503.6 412.6,514.9 436.9,514.9 436.9,525.3 461.3,525.3 461.3,533.9 485.6,533.9 485.6,540.6 509.9,540.6 509.9,546.6 534.3,546.6 534.3,550.9 558.6,550.9 558.6,554.0 582.9,554.0 582.9,556.1 607.3,556.1 607.3,557.6 631.6,557.6 631.6,558.7 655.9,558.7 655.9,559.3 680.3,559.3 680.3,559.7 704.6,559.7 704.6,560.0 728.9,560.0 728.9,560.3 753.3,560.3" fill="none" stroke="#365d8d" stroke-width="3.10" stroke-opacity="0.750" stroke-linejoin="round"/>
<path d="M169.5,500.2L169.5,464.2 193.8,464.2 193.8,446.8 218.2,446.8 218.2,440.9 242.5,440.9 242.5,441.6 266.8,441.6 266.8,445.9 291.2,445.9 291.2,456.8 315.5,456.8 315.5,467.6 339.8,467.6 339.8,480.1 364.2,480.1 364.2,492.1 388.5,492.1 388.5,503.7 412.8,503.7 412.8,514.9 437.2,514.9 437.2,525.2 461.5,525.2 461.5,533.7 485.8,533.7 485.8,540.4 510.2,540.4 510.2,546.4 534.5,546.4 534.5,550.7 558.8,550.7 558.8,553.9 583.2,553.9 583.2,555.9 607.5,555.9 607.5,557.5 631.8,557.5 631.8,558.6 656.2,558.6 656.2,559.3 680.5,559.3 680.5,559.7 704.8,559.7 704.8,560.0 729.2,560.0 729.2,560.3 753.5,560.3" fill="none" stroke="#31678e" stroke-width="3.10" stroke-opacity="0.750" stroke-linejoin="round"/>
<path d="M169.8,498.8L169.8,463.3 194.1,463.3 194.1,446.6 218.4,446.6 218.4,441.3 242.8,441.3 242.8,442.3 267.1,442.3 267.1,446.7 291.4,446.7 291.4,457.5 315.8,457.5 315.8,468.2 340.1,468.2 340.1,480.5 364.4,480.5 364.4,492.4 388.8,492.4 388.8,503.7 413.1,503.7 413.1,514.8 437.4,514.8 437.4,525.0 461.8,525.0 461.8,533.5 486.1,533.5 486.1,540.2 510.4,540.2 510.4,546.2 534.8,546.2 534.8,550.5 559.1,550.5 559.1,553.7 583.4,553.7 583.4,555.8 607.8,555.8 607.8,557.4 632.1,557.4 632.1,558.5 656.4,558.5 656.4,559.2 680.8,559.2 680.8,559.7 705.1,559.7 705.1,560.0 729.4,560.0 729.4,560.3 753.8,560.3" fill="none" stroke="#2c718e" stroke-width="3.10" stroke-opacity="0.750" stroke-linejoin="round"/>
<path d="M170.0,497.5L170.0,462.5 194.4,462.5 194.4,446.4 218.7,446.4 218.7,441.6 243.0,441.6 243.0,442.9 267.4,442.9 267.4,447.5 291.7,447.5 291.7,458.2 316.0,458.2 316.0,468.8 340.3,468.8 340.3,480.9 364.7,480.9 364.7,492.6 389.0,492.6 389.0,503.8 413.3,503.8 413.3,514.7 437.7,514.7 437.7,524.9 462.0,524.9 462.0,533.3 486.3,533.3 486.3,540.0 510.7,540.0 510.7,546.0 535.0,546.0 535.0,550.4 559.3,550.4 559.3,553.6 583.7,553.6 583.7,555.7 608.0,555.7 608.0,557.4 632.3,557.4 632.3,558.5 656.7,558.5 656.7,559.2 681.0,559.2 681.0,559.6 705.3,559.6 705.3,559.9 729.7,559.9 729.7,560.2 754.0,560.2" fill="none" stroke="#297b8e" stroke-width="3.10" stroke-opacity="0.750" stroke-linejoin="round"/>
<path d="M170.3,496.1L170.3,461.7 194.6,461.7 194.6,446.3 218.9,446.3 218.9,442.0 243.3,442.0 243.3,443.6 267.6,443.6 267.6,448.3 291.9,448.3 291.9,459.0 316.3,459.0 316.3,469.4 340.6,469.4 340.6,481.3 364.9,481.3 364.9,492.9 389.3,492.9 389.3,503.9 413.6,503.9 413.6,514.7 437.9,514.7 437.9,524.7 462.3,524.7 462.3,533.1 486.6,533.1 486.6,539.8 510.9,539.8 510.9,545.8 535.3,545.8 535.3,550.2 559.6,550.2 559.6,553.5 583.9,553.5 583.9,555.6 608.3,555.6 608.3,557.3 632.6,557.3 632.6,558.4 656.9,558.4 656.9,559.2 681.3,559.2 681.3,559.6 705.6,559.6 705.6,559.9 729.9,559.9 729.9,560.2 754.3,560.2" fill="none" stroke="#25858e" stroke-width="3.10" stroke-opacity="0.750" stroke-linejoin="round"/>
<path d="M170.5,494.7L170.5,460.9 194.9,460.9 194.9,446.1 219.2,446.1 219.2,442.3 243.5,442.3 243.5,444.2 267.9,444.2 267.9,449.1 292.2,449.1 292.2,459.7 316.5,459.7 316.5,470.0 340.9,470.0 340.9,481.7 365.2,481.7 365.2,493.1 389.5,493.1 389.5,504.0 413.9,504.0 413.9,514.6 438.2,514.6 438.2,524.6 462.5,524.6 462.5,533.0 486.9,533.0 486.9,539.6 511.2,539.6 511.2,545.6 535.5,545.6 535.5,550.0 559.8,550.0 559.8,553.3 584.2,553.3 584.2,555.5 608.5,555.5 608.5,557.2 632.8,557.2 632.8,558.4 657.2,558.4 657.2,559.1 681.5,559.1 681.5,559.6 705.8,559.6 705.8,559.9 730.2,559.9 730.2,560.2 754.5,560.2" fill="none" stroke="#218f8d" stroke-width="3.10" stroke-opacity="0.750" stroke-linejoin="round"/>
<path d="M170.8,493.3L170.8,460.1 195.1,460.1 195.1,446.0 219.4,446.0 219.4,442.7 243.8,442.7 243.8,444.8 268.1,444.8 268.1,449.8 292.4,449.8 292.4,460.4 316.8,460.4 316.8,470.6 341.1,470.6 341.1,482.2 365.4,482.2 365.4,493.3 389.8,493.3 389.8,504.0 414.1,504.0 414.1,514.6 438.4,514.6 438.4,524.5 462.8,524.5 462.8,532.8 487.1,532.8 487.1,539.4 511.4,539.4 511.4,545.4 535.8,545.4 535.8,549.9 560.1,549.9 560.1,553.2 584.4,553.2 584.4,555.4 608.8,555.4 608.8,557.1 633.1,557.1 633.1,558.3 657.4,558.3 657.4,559.1 681.8,559.1 681.8,559.5 706.1,559.5 706.1,559.8 730.4,559.8 730.4,560.2 754.8,560.2" fill="none" stroke="#1f998a" stroke-width="3.10" stroke-opacity="0.750" stroke-linejoin="round"/>
<path d="M171.0,491.9L171.0,459.4 195.4,459.4 195.4,445.9 219.7,445.9 219.7,443.0 244.0,443.0 244.0,445.5 268.4,445.5 268.4,450.5 292.7,450.5 292.7,461.1 317.0,461.1 317.0,471.2 341.4,471.2 341.4,482.6 365.7,482.6 365.7,493.6 390.0,493.6 390.0,504.1 414.4,504.1 414.4,514.5 438.7,514.5 438.7,524.3 463.0,524.3 463.0,532.6 487.4,532.6 487.4,539.2 511.7,539.2 511.7,545.2 536.0,545.2 536.0,549.7 560.4,549.7 560.4,553.1 584.7,553.1 584.7,555.3 609.0,555.3 609.0,557.0 633.4,557.0 633.4,558.2 657.7,558.2 657.7,559.0 682.0,559.0 682.0,559.5 706.3,559.5 706.3,559.8 730.7,559.8 730.7,560.2 755.0,560.2" fill="none" stroke="#20a386" stroke-width="3.10" stroke-opacity="0.750" stroke-linejoin="round"/>
<path d="M171.3,490.5L171.3,458.6 195.6,458.6 195.6,445.8 219.9,445.8 219.9,443.4 244.3,443.4 244.3,446.1 268.6,446.1 268.6,451.3 292.9,451.3 292.9,461.8 317.3,461.8 317.3,471.7 341.6,471.7 341.6,483.0 365.9,483.0 365.9,493.8 390.3,493.8 390.3,504.2 414.6,504.2 414.6,514.5 438.9,514.5 438.9,524.2 463.3,524.2 463.3,532.4 487.6,532.4 487.6,539.0 511.9,539.0 511.9,545.0 536.3,545.0 536.3,549.5 560.6,549.5 560.6,552.9 584.9,552.9 584.9,555.2 609.3,555.2 609.3,556.9 633.6,556.9 633.6,558.2 657.9,558.2 657.9,559.0 682.3,559.0 682.3,559.4 706.6,559.4 706.6,559.8 730.9,559.8 730.9,560.1 755.3,560.1" fill="none" stroke="#26ad81" stroke-width="3.10" stroke-opacity="0.750" stroke-linejoin="round"/>
<path d="M173.6,519.7L173.6,479.9 197.9,479.9 197.9,453.4 222.3,453.4 222.3,438.5 246.6,438.5 246.6,432.7 270.9,432.7 270.9,433.7 295.3,433.7 295.3,444.3 319.6,444.3 319.6,456.9 343.9,456.9 343.9,472.3 368.3,472.3 368.3,487.5 392.6,487.5 392.6,501.9 416.9,501.9 416.9,515.3 441.3,515.3 441.3,527.0 465.6,527.0 465.6,536.3 489.9,536.3 489.9,543.2 514.2,543.2 514.2,549.0 538.6,549.0 538.6,552.9 562.9,552.9 562.9,555.6 587.2,555.6 587.2,557.3 611.6,557.3 611.6,558.6 635.9,558.6 635.9,559.4 660.2,559.4 660.2,559.8 684.6,559.8 684.6,560.1 708.9,560.1 708.9,560.3 733.2,560.3 733.2,560.5 757.6,560.5" fill="none" stroke="#fde725" stroke-width="3.10" stroke-opacity="0.500" stroke-linejoin="round"/>
</g>
<text x="763.40" y="358.40" text-anchor="end" font-size="18.1" fill="#000" stroke="#000" stroke-width="0.25">total antipsychotic utilization</text>
<defs><linearGradient id="cb2g" x1="0" x2="1" y1="0" y2="0"><stop offset="0.000" stop-color="#440154"/><stop offset="0.050" stop-color="#471365"/><stop offset="0.100" stop-color="#482475"/><stop offset="0.150" stop-color="#463480"/><stop offset="0.200" stop-color="#414487"/><stop offset="0.250" stop-color="#3b528b"/><stop offset="0.300" stop-color="#355f8d"/><stop offset="0.350" stop-color="#2f6c8e"/><stop offset="0.400" stop-color="#2a788e"/><stop offset="0.450" stop-color="#25848e"/><stop offset="0.500" stop-color="#21918c"/><stop offset="0.550" stop-color="#1e9c89"/><stop offset="0.600" stop-color="#22a884"/><stop offset="0.650" stop-color="#2fb47c"/><stop offset="0.700" stop-color="#44bf70"/><stop offset="0.750" stop-color="#5ec962"/><stop offset="0.800" stop-color="#7ad151"/><stop offset="0.850" stop-color="#9bd93c"/><stop offset="0.900" stop-color="#bddf26"/><stop offset="0.950" stop-color="#dfe318"/><stop offset="1.000" stop-color="#fde725"/></linearGradient></defs>
<rect x="502.40" y="368.50" width="262.20" height="23.40" fill="url(#cb2g)"/>
<line x1="558.50" y1="368.50" x2="558.50" y2="373.18" stroke="#fff" stroke-width="1"/>
<line x1="558.50" y1="387.22" x2="558.50" y2="391.90" stroke="#fff" stroke-width="1"/>
<text x="558.50" y="413.30" text-anchor="middle" font-size="18.2" fill="#000" stroke="#000" stroke-width="0.25">2</text>
<line x1="618.50" y1="368.50" x2="618.50" y2="373.18" stroke="#fff" stroke-width="1"/>
<line x1="618.50" y1="387.22" x2="618.50" y2="391.90" stroke="#fff" stroke-width="1"/>
<text x="618.50" y="413.30" text-anchor="middle" font-size="18.2" fill="#000" stroke="#000" stroke-width="0.25">4</text>
<line x1="678.50" y1="368.50" x2="678.50" y2="373.18" stroke="#fff" stroke-width="1"/>
<line x1="678.50" y1="387.22" x2="678.50" y2="391.90" stroke="#fff" stroke-width="1"/>
<text x="678.50" y="413.30" text-anchor="middle" font-size="18.2" fill="#000" stroke="#000" stroke-width="0.25">6</text>
<line x1="738.50" y1="368.50" x2="738.50" y2="373.18" stroke="#fff" stroke-width="1"/>
<line x1="738.50" y1="387.22" x2="738.50" y2="391.90" stroke="#fff" stroke-width="1"/>
<text x="738.50" y="413.30" text-anchor="middle" font-size="18.2" fill="#000" stroke="#000" stroke-width="0.25">8</text>
<rect x="138.85" y="323.15" width="647.40" height="247.90" fill="none" stroke="#333" stroke-width="1.7"/>
<line x1="129.90" y1="560.61" x2="138.00" y2="560.61" stroke="#333" stroke-width="2.6"/>
<text x="123.10" y="569.01" text-anchor="end" font-size="24" fill="#4d4d4d" stroke="#4d4d4d" stroke-width="0.3">0.00</text>
<line x1="129.90" y1="536.63" x2="138.00" y2="536.63" stroke="#333" stroke-width="2.6"/>
<text x="123.10" y="545.03" text-anchor="end" font-size="24" fill="#4d4d4d" stroke="#4d4d4d" stroke-width="0.3">0.02</text>
<line x1="129.90" y1="512.65" x2="138.00" y2="512.65" stroke="#333" stroke-width="2.6"/>
<text x="123.10" y="521.05" text-anchor="end" font-size="24" fill="#4d4d4d" stroke="#4d4d4d" stroke-width="0.3">0.04</text>
<line x1="129.90" y1="488.67" x2="138.00" y2="488.67" stroke="#333" stroke-width="2.6"/>
<text x="123.10" y="497.07" text-anchor="end" font-size="24" fill="#4d4d4d" stroke="#4d4d4d" stroke-width="0.3">0.06</text>
<line x1="129.90" y1="464.69" x2="138.00" y2="464.69" stroke="#333" stroke-width="2.6"/>
<text x="123.10" y="473.09" text-anchor="end" font-size="24" fill="#4d4d4d" stroke="#4d4d4d" stroke-width="0.3">0.08</text>
<line x1="129.90" y1="440.71" x2="138.00" y2="440.71" stroke="#333" stroke-width="2.6"/>
<text x="123.10" y="449.11" text-anchor="end" font-size="24" fill="#4d4d4d" stroke="#4d4d4d" stroke-width="0.3">0.10</text>
<line x1="167.50" y1="571.90" x2="167.50" y2="579.70" stroke="#333" stroke-width="2.6"/>
<text x="167.50" y="603.90" text-anchor="middle" font-size="24" fill="#4d4d4d" stroke="#4d4d4d" stroke-width="0.3">4</text>
<line x1="313.50" y1="571.90" x2="313.50" y2="579.70" stroke="#333" stroke-width="2.6"/>
<text x="313.50" y="603.90" text-anchor="middle" font-size="24" fill="#4d4d4d" stroke="#4d4d4d" stroke-width="0.3">10</text>
<line x1="459.50" y1="571.90" x2="459.50" y2="579.70" stroke="#333" stroke-width="2.6"/>
<text x="459.50" y="603.90" text-anchor="middle" font-size="24" fill="#4d4d4d" stroke="#4d4d4d" stroke-width="0.3">16</text>
<line x1="605.50" y1="571.90" x2="605.50" y2="579.70" stroke="#333" stroke-width="2.6"/>
<text x="605.50" y="603.90" text-anchor="middle" font-size="24" fill="#4d4d4d" stroke="#4d4d4d" stroke-width="0.3">22</text>
<line x1="751.50" y1="571.90" x2="751.50" y2="579.70" stroke="#333" stroke-width="2.6"/>
<text x="751.50" y="603.90" text-anchor="middle" font-size="24" fill="#4d4d4d" stroke="#4d4d4d" stroke-width="0.3">28</text>
<defs><clipPath id="c3"><rect x="879.20" y="322.30" width="649.10" height="249.60"/></clipPath></defs>
<g clip-path="url(#c3)">
<line x1="879.20" y1="548.62" x2="1528.30" y2="548.62" stroke="#ebebeb" stroke-width="1.2"/>
<line x1="879.20" y1="524.64" x2="1528.30" y2="524.64" stroke="#ebebeb" stroke-width="1.2"/>
<line x1="879.20" y1="500.66" x2="1528.30" y2="500.66" stroke="#ebebeb" stroke-width="1.2"/>
<line x1="879.20" y1="476.68" x2="1528.30" y2="476.68" stroke="#ebebeb" stroke-width="1.2"/>
<line x1="879.20" y1="452.70" x2="1528.30" y2="452.70" stroke="#ebebeb" stroke-width="1.2"/>
<line x1="879.20" y1="428.72" x2="1528.30" y2="428.72" stroke="#ebebeb" stroke-width="1.2"/>
<line x1="879.20" y1="416.73" x2="1528.30" y2="416.73" stroke="#ebebeb" stroke-width="1.2"/>
<line x1="981.70" y1="322.30" x2="981.70" y2="571.90" stroke="#ebebeb" stroke-width="1.2"/>
<line x1="1127.70" y1="322.30" x2="1127.70" y2="571.90" stroke="#ebebeb" stroke-width="1.2"/>
<line x1="1273.70" y1="322.30" x2="1273.70" y2="571.90" stroke="#ebebeb" stroke-width="1.2"/>
<line x1="1419.70" y1="322.30" x2="1419.70" y2="571.90" stroke="#ebebeb" stroke-width="1.2"/>
<line x1="879.20" y1="560.61" x2="1528.30" y2="560.61" stroke="#ebebeb" stroke-width="2.4"/>
<line x1="879.20" y1="536.63" x2="1528.30" y2="536.63" stroke="#ebebeb" stroke-width="2.4"/>
<line x1="879.20" y1="512.65" x2="1528.30" y2="512.65" stroke="#ebebeb" stroke-width="2.4"/>
<line x1="879.20" y1="488.67" x2="1528.30" y2="488.67" stroke="#ebebeb" stroke-width="2.4"/>
<line x1="879.20" y1="464.69" x2="1528.30" y2="464.69" stroke="#ebebeb" stroke-width="2.4"/>
<line x1="879.20" y1="440.71" x2="1528.30" y2="440.71" stroke="#ebebeb" stroke-width="2.4"/>
<line x1="908.70" y1="322.30" x2="908.70" y2="571.90" stroke="#ebebeb" stroke-width="2.4"/>
<line x1="1054.70" y1="322.30" x2="1054.70" y2="571.90" stroke="#ebebeb" stroke-width="2.4"/>
<line x1="1200.70" y1="322.30" x2="1200.70" y2="571.90" stroke="#ebebeb" stroke-width="2.4"/>
<line x1="1346.70" y1="322.30" x2="1346.70" y2="571.90" stroke="#ebebeb" stroke-width="2.4"/>
<line x1="1492.70" y1="322.30" x2="1492.70" y2="571.90" stroke="#ebebeb" stroke-width="2.4"/>
<path d="M908.7,490.5L908.7,445.7 933.0,445.7 933.0,427.2 957.4,427.2 957.4,425.2 981.7,425.2 981.7,431.7 1006.0,431.7 1006.0,442.3 1030.4,442.3 1030.4,458.6 1054.7,458.6 1054.7,473.4 1079.0,473.4 1079.0,488.4 1103.4,488.4 1103.4,501.7 1127.7,501.7 1127.7,513.4 1152.0,513.4 1152.0,523.9 1176.4,523.9 1176.4,533.0 1200.7,533.0 1200.7,540.2 1225.0,540.2 1225.0,545.7 1249.4,545.7 1249.4,550.3 1273.7,550.3 1273.7,553.6 1298.0,553.6 1298.0,555.9 1322.4,555.9 1322.4,557.4 1346.7,557.4 1346.7,558.5 1371.0,558.5 1371.0,559.3 1395.4,559.3 1395.4,559.8 1419.7,559.8 1419.7,560.0 1444.0,560.0 1444.0,560.2 1468.4,560.2 1468.4,560.4 1492.7,560.4" fill="none" stroke="#440154" stroke-width="3.10" stroke-opacity="0.500" stroke-linejoin="round"/>
<path d="M908.9,491.6L908.9,447.0 933.2,447.0 933.2,428.2 957.6,428.2 957.6,425.7 981.9,425.7 981.9,431.8 1006.2,431.8 1006.2,442.0 1030.6,442.0 1030.6,458.1 1054.9,458.1 1054.9,472.9 1079.2,472.9 1079.2,487.8 1103.6,487.8 1103.6,501.1 1127.9,501.1 1127.9,512.9 1152.2,512.9 1152.2,523.5 1176.6,523.5 1176.6,532.7 1200.9,532.7 1200.9,540.0 1225.2,540.0 1225.2,545.5 1249.6,545.5 1249.6,550.2 1273.9,550.2 1273.9,553.5 1298.2,553.5 1298.2,555.9 1322.6,555.9 1322.6,557.4 1346.9,557.4 1346.9,558.5 1371.2,558.5 1371.2,559.3 1395.6,559.3 1395.6,559.8 1419.9,559.8 1419.9,560.0 1444.2,560.0 1444.2,560.2 1468.6,560.2 1468.6,560.4 1492.9,560.4" fill="none" stroke="#470d60" stroke-width="3.10" stroke-opacity="0.500" stroke-linejoin="round"/>
<path d="M909.1,492.7L909.1,448.3 933.4,448.3 933.4,429.3 957.7,429.3 957.7,426.3 982.1,426.3 982.1,431.9 1006.4,431.9 1006.4,441.8 1030.7,441.8 1030.7,457.7 1055.1,457.7 1055.1,472.3 1079.4,472.3 1079.4,487.2 1103.7,487.2 1103.7,500.6 1128.1,500.6 1128.1,512.5 1152.4,512.5 1152.4,523.2 1176.7,523.2 1176.7,532.4 1201.1,532.4 1201.1,539.8 1225.4,539.8 1225.4,545.4 1249.7,545.4 1249.7,550.1 1274.1,550.1 1274.1,553.4 1298.4,553.4 1298.4,555.8 1322.7,555.8 1322.7,557.4 1347.1,557.4 1347.1,558.5 1371.4,558.5 1371.4,559.3 1395.7,559.3 1395.7,559.7 1420.1,559.7 1420.1,560.0 1444.4,560.0 1444.4,560.2 1468.7,560.2 1468.7,560.4 1493.1,560.4" fill="none" stroke="#48186a" stroke-width="3.10" stroke-opacity="0.500" stroke-linejoin="round"/>
<path d="M909.3,493.8L909.3,449.7 933.6,449.7 933.6,430.3 957.9,430.3 957.9,426.9 982.3,426.9 982.3,432.1 1006.6,432.1 1006.6,441.6 1030.9,441.6 1030.9,457.2 1055.3,457.2 1055.3,471.8 1079.6,471.8 1079.6,486.7 1103.9,486.7 1103.9,500.1 1128.3,500.1 1128.3,512.0 1152.6,512.0 1152.6,522.8 1176.9,522.8 1176.9,532.1 1201.3,532.1 1201.3,539.6 1225.6,539.6 1225.6,545.2 1249.9,545.2 1249.9,550.0 1274.3,550.0 1274.3,553.4 1298.6,553.4 1298.6,555.8 1322.9,555.8 1322.9,557.3 1347.3,557.3 1347.3,558.5 1371.6,558.5 1371.6,559.3 1395.9,559.3 1395.9,559.7 1420.3,559.7 1420.3,560.0 1444.6,560.0 1444.6,560.2 1468.9,560.2 1468.9,560.4 1493.3,560.4" fill="none" stroke="#482374" stroke-width="3.10" stroke-opacity="0.500" stroke-linejoin="round"/>
<path d="M909.5,494.9L909.5,451.0 933.8,451.0 933.8,431.4 958.1,431.4 958.1,427.5 982.5,427.5 982.5,432.2 1006.8,432.2 1006.8,441.4 1031.1,441.4 1031.1,456.8 1055.5,456.8 1055.5,471.2 1079.8,471.2 1079.8,486.1 1104.1,486.1 1104.1,499.5 1128.5,499.5 1128.5,511.5 1152.8,511.5 1152.8,522.4 1177.1,522.4 1177.1,531.8 1201.5,531.8 1201.5,539.4 1225.8,539.4 1225.8,545.0 1250.1,545.0 1250.1,549.9 1274.5,549.9 1274.5,553.3 1298.8,553.3 1298.8,555.7 1323.1,555.7 1323.1,557.3 1347.5,557.3 1347.5,558.5 1371.8,558.5 1371.8,559.2 1396.1,559.2 1396.1,559.7 1420.5,559.7 1420.5,560.0 1444.8,560.0 1444.8,560.2 1469.1,560.2 1469.1,560.4 1493.5,560.4" fill="none" stroke="#472d7b" stroke-width="3.10" stroke-opacity="0.500" stroke-linejoin="round"/>
<path d="M909.7,496.0L909.7,452.3 934.0,452.3 934.0,432.4 958.3,432.4 958.3,428.1 982.7,428.1 982.7,432.4 1007.0,432.4 1007.0,441.2 1031.3,441.2 1031.3,456.3 1055.7,456.3 1055.7,470.6 1080.0,470.6 1080.0,485.5 1104.3,485.5 1104.3,499.0 1128.7,499.0 1128.7,511.0 1153.0,511.0 1153.0,522.0 1177.3,522.0 1177.3,531.5 1201.7,531.5 1201.7,539.1 1226.0,539.1 1226.0,544.9 1250.3,544.9 1250.3,549.8 1274.6,549.8 1274.6,553.2 1299.0,553.2 1299.0,555.7 1323.3,555.7 1323.3,557.3 1347.6,557.3 1347.6,558.4 1372.0,558.4 1372.0,559.2 1396.3,559.2 1396.3,559.7 1420.6,559.7 1420.6,560.0 1445.0,560.0 1445.0,560.2 1469.3,560.2 1469.3,560.4 1493.6,560.4" fill="none" stroke="#453781" stroke-width="3.10" stroke-opacity="0.500" stroke-linejoin="round"/>
<path d="M909.8,497.0L909.8,453.6 934.2,453.6 934.2,433.5 958.5,433.5 958.5,428.7 982.8,428.7 982.8,432.5 1007.2,432.5 1007.2,441.0 1031.5,441.0 1031.5,455.9 1055.8,455.9 1055.8,470.1 1080.2,470.1 1080.2,484.9 1104.5,484.9 1104.5,498.4 1128.8,498.4 1128.8,510.5 1153.2,510.5 1153.2,521.6 1177.5,521.6 1177.5,531.2 1201.8,531.2 1201.8,538.9 1226.2,538.9 1226.2,544.7 1250.5,544.7 1250.5,549.7 1274.8,549.7 1274.8,553.2 1299.2,553.2 1299.2,555.7 1323.5,555.7 1323.5,557.2 1347.8,557.2 1347.8,558.4 1372.2,558.4 1372.2,559.2 1396.5,559.2 1396.5,559.7 1420.8,559.7 1420.8,560.0 1445.2,560.0 1445.2,560.2 1469.5,560.2 1469.5,560.4 1493.8,560.4" fill="none" stroke="#424086" stroke-width="3.10" stroke-opacity="0.500" stroke-linejoin="round"/>
<path d="M910.0,498.1L910.0,454.9 934.4,454.9 934.4,434.5 958.7,434.5 958.7,429.3 983.0,429.3 983.0,432.7 1007.4,432.7 1007.4,440.8 1031.7,440.8 1031.7,455.5 1056.0,455.5 1056.0,469.5 1080.4,469.5 1080.4,484.3 1104.7,484.3 1104.7,497.9 1129.0,497.9 1129.0,510.1 1153.4,510.1 1153.4,521.2 1177.7,521.2 1177.7,530.9 1202.0,530.9 1202.0,538.7 1226.4,538.7 1226.4,544.6 1250.7,544.6 1250.7,549.5 1275.0,549.5 1275.0,553.1 1299.4,553.1 1299.4,555.6 1323.7,555.6 1323.7,557.2 1348.0,557.2 1348.0,558.4 1372.4,558.4 1372.4,559.2 1396.7,559.2 1396.7,559.7 1421.0,559.7 1421.0,560.0 1445.4,560.0 1445.4,560.2 1469.7,560.2 1469.7,560.4 1494.0,560.4" fill="none" stroke="#3e4989" stroke-width="3.10" stroke-opacity="0.500" stroke-linejoin="round"/>
<path d="M910.2,499.1L910.2,456.2 934.6,456.2 934.6,435.6 958.9,435.6 958.9,429.9 983.2,429.9 983.2,432.9 1007.6,432.9 1007.6,440.6 1031.9,440.6 1031.9,455.0 1056.2,455.0 1056.2,469.0 1080.6,469.0 1080.6,483.7 1104.9,483.7 1104.9,497.3 1129.2,497.3 1129.2,509.6 1153.6,509.6 1153.6,520.8 1177.9,520.8 1177.9,530.6 1202.2,530.6 1202.2,538.4 1226.6,538.4 1226.6,544.4 1250.9,544.4 1250.9,549.4 1275.2,549.4 1275.2,553.0 1299.6,553.0 1299.6,555.6 1323.9,555.6 1323.9,557.2 1348.2,557.2 1348.2,558.4 1372.6,558.4 1372.6,559.2 1396.9,559.2 1396.9,559.7 1421.2,559.7 1421.2,560.0 1445.6,560.0 1445.6,560.2 1469.9,560.2 1469.9,560.4 1494.2,560.4" fill="none" stroke="#3b528b" stroke-width="3.10" stroke-opacity="0.500" stroke-linejoin="round"/>
<path d="M910.4,500.1L910.4,457.5 934.7,457.5 934.7,436.7 959.1,436.7 959.1,430.6 983.4,430.6 983.4,433.1 1007.7,433.1 1007.7,440.4 1032.1,440.4 1032.1,454.6 1056.4,454.6 1056.4,468.4 1080.7,468.4 1080.7,483.2 1105.1,483.2 1105.1,496.7 1129.4,496.7 1129.4,509.1 1153.7,509.1 1153.7,520.4 1178.1,520.4 1178.1,530.3 1202.4,530.3 1202.4,538.2 1226.7,538.2 1226.7,544.2 1251.1,544.2 1251.1,549.3 1275.4,549.3 1275.4,552.9 1299.7,552.9 1299.7,555.5 1324.1,555.5 1324.1,557.1 1348.4,557.1 1348.4,558.4 1372.7,558.4 1372.7,559.2 1397.1,559.2 1397.1,559.7 1421.4,559.7 1421.4,560.0 1445.7,560.0 1445.7,560.2 1470.1,560.2 1470.1,560.4 1494.4,560.4" fill="none" stroke="#375b8d" stroke-width="3.10" stroke-opacity="0.500" stroke-linejoin="round"/>
<path d="M910.6,501.1L910.6,458.8 934.9,458.8 934.9,437.8 959.3,437.8 959.3,431.2 983.6,431.2 983.6,433.3 1007.9,433.3 1007.9,440.3 1032.3,440.3 1032.3,454.2 1056.6,454.2 1056.6,467.9 1080.9,467.9 1080.9,482.6 1105.3,482.6 1105.3,496.2 1129.6,496.2 1129.6,508.6 1153.9,508.6 1153.9,520.0 1178.3,520.0 1178.3,530.0 1202.6,530.0 1202.6,538.0 1226.9,538.0 1226.9,544.0 1251.3,544.0 1251.3,549.2 1275.6,549.2 1275.6,552.9 1299.9,552.9 1299.9,555.5 1324.3,555.5 1324.3,557.1 1348.6,557.1 1348.6,558.4 1372.9,558.4 1372.9,559.2 1397.3,559.2 1397.3,559.7 1421.6,559.7 1421.6,560.0 1445.9,560.0 1445.9,560.2 1470.3,560.2 1470.3,560.4 1494.6,560.4" fill="none" stroke="#33638d" stroke-width="3.10" stroke-opacity="0.500" stroke-linejoin="round"/>
<path d="M910.8,502.1L910.8,460.0 935.1,460.0 935.1,438.8 959.5,438.8 959.5,431.9 983.8,431.9 983.8,433.6 1008.1,433.6 1008.1,440.1 1032.5,440.1 1032.5,453.8 1056.8,453.8 1056.8,467.4 1081.1,467.4 1081.1,482.0 1105.5,482.0 1105.5,495.6 1129.8,495.6 1129.8,508.1 1154.1,508.1 1154.1,519.5 1178.5,519.5 1178.5,529.6 1202.8,529.6 1202.8,537.7 1227.1,537.7 1227.1,543.9 1251.5,543.9 1251.5,549.1 1275.8,549.1 1275.8,552.8 1300.1,552.8 1300.1,555.4 1324.5,555.4 1324.5,557.1 1348.8,557.1 1348.8,558.3 1373.1,558.3 1373.1,559.2 1397.5,559.2 1397.5,559.7 1421.8,559.7 1421.8,560.0 1446.1,560.0 1446.1,560.2 1470.5,560.2 1470.5,560.4 1494.8,560.4" fill="none" stroke="#2f6b8e" stroke-width="3.10" stroke-opacity="0.500" stroke-linejoin="round"/>
<path d="M911.0,503.0L911.0,461.3 935.3,461.3 935.3,439.9 959.7,439.9 959.7,432.6 984.0,432.6 984.0,433.8 1008.3,433.8 1008.3,440.0 1032.6,440.0 1032.6,453.4 1057.0,453.4 1057.0,466.8 1081.3,466.8 1081.3,481.4 1105.6,481.4 1105.6,495.0 1130.0,495.0 1130.0,507.6 1154.3,507.6 1154.3,519.1 1178.6,519.1 1178.6,529.3 1203.0,529.3 1203.0,537.5 1227.3,537.5 1227.3,543.7 1251.6,543.7 1251.6,549.0 1276.0,549.0 1276.0,552.7 1300.3,552.7 1300.3,555.4 1324.6,555.4 1324.6,557.1 1349.0,557.1 1349.0,558.3 1373.3,558.3 1373.3,559.2 1397.6,559.2 1397.6,559.7 1422.0,559.7 1422.0,560.0 1446.3,560.0 1446.3,560.2 1470.6,560.2 1470.6,560.4 1495.0,560.4" fill="none" stroke="#2c728e" stroke-width="3.10" stroke-opacity="0.500" stroke-linejoin="round"/>
<path d="M911.2,504.0L911.2,462.5 935.5,462.5 935.5,441.0 959.8,441.0 959.8,433.3 984.2,433.3 984.2,434.1 1008.5,434.1 1008.5,439.9 1032.8,439.9 1032.8,453.1 1057.2,453.1 1057.2,466.3 1081.5,466.3 1081.5,480.8 1105.8,480.8 1105.8,494.5 1130.2,494.5 1130.2,507.0 1154.5,507.0 1154.5,518.7 1178.8,518.7 1178.8,529.0 1203.2,529.0 1203.2,537.2 1227.5,537.2 1227.5,543.5 1251.8,543.5 1251.8,548.8 1276.2,548.8 1276.2,552.6 1300.5,552.6 1300.5,555.3 1324.8,555.3 1324.8,557.0 1349.2,557.0 1349.2,558.3 1373.5,558.3 1373.5,559.1 1397.8,559.1 1397.8,559.7 1422.2,559.7 1422.2,560.0 1446.5,560.0 1446.5,560.2 1470.8,560.2 1470.8,560.4 1495.2,560.4" fill="none" stroke="#297a8e" stroke-width="3.10" stroke-opacity="0.500" stroke-linejoin="round"/>
<path d="M911.4,504.9L911.4,463.8 935.7,463.8 935.7,442.1 960.0,442.1 960.0,434.0 984.4,434.0 984.4,434.3 1008.7,434.3 1008.7,439.8 1033.0,439.8 1033.0,452.7 1057.4,452.7 1057.4,465.7 1081.7,465.7 1081.7,480.2 1106.0,480.2 1106.0,493.9 1130.4,493.9 1130.4,506.5 1154.7,506.5 1154.7,518.3 1179.0,518.3 1179.0,528.6 1203.4,528.6 1203.4,537.0 1227.7,537.0 1227.7,543.3 1252.0,543.3 1252.0,548.7 1276.4,548.7 1276.4,552.5 1300.7,552.5 1300.7,555.3 1325.0,555.3 1325.0,557.0 1349.4,557.0 1349.4,558.3 1373.7,558.3 1373.7,559.1 1398.0,559.1 1398.0,559.7 1422.4,559.7 1422.4,560.0 1446.7,560.0 1446.7,560.2 1471.0,560.2 1471.0,560.4 1495.4,560.4" fill="none" stroke="#26828e" stroke-width="3.10" stroke-opacity="0.500" stroke-linejoin="round"/>
<path d="M911.6,505.9L911.6,465.0 935.9,465.0 935.9,443.1 960.2,443.1 960.2,434.7 984.6,434.7 984.6,434.6 1008.9,434.6 1008.9,439.7 1033.2,439.7 1033.2,452.3 1057.6,452.3 1057.6,465.2 1081.9,465.2 1081.9,479.6 1106.2,479.6 1106.2,493.3 1130.6,493.3 1130.6,506.0 1154.9,506.0 1154.9,517.8 1179.2,517.8 1179.2,528.3 1203.6,528.3 1203.6,536.7 1227.9,536.7 1227.9,543.1 1252.2,543.1 1252.2,548.6 1276.6,548.6 1276.6,552.5 1300.9,552.5 1300.9,555.2 1325.2,555.2 1325.2,557.0 1349.5,557.0 1349.5,558.3 1373.9,558.3 1373.9,559.1 1398.2,559.1 1398.2,559.7 1422.5,559.7 1422.5,560.0 1446.9,560.0 1446.9,560.2 1471.2,560.2 1471.2,560.4 1495.5,560.4" fill="none" stroke="#23898e" stroke-width="3.10" stroke-opacity="0.500" stroke-linejoin="round"/>
<path d="M911.7,506.8L911.7,466.2 936.1,466.2 936.1,444.2 960.4,444.2 960.4,435.4 984.7,435.4 984.7,434.9 1009.1,434.9 1009.1,439.6 1033.4,439.6 1033.4,452.0 1057.7,452.0 1057.7,464.7 1082.1,464.7 1082.1,479.0 1106.4,479.0 1106.4,492.7 1130.7,492.7 1130.7,505.5 1155.1,505.5 1155.1,517.4 1179.4,517.4 1179.4,528.0 1203.7,528.0 1203.7,536.5 1228.1,536.5 1228.1,543.0 1252.4,543.0 1252.4,548.5 1276.7,548.5 1276.7,552.4 1301.1,552.4 1301.1,555.2 1325.4,555.2 1325.4,556.9 1349.7,556.9 1349.7,558.2 1374.1,558.2 1374.1,559.1 1398.4,559.1 1398.4,559.7 1422.7,559.7 1422.7,560.0 1447.1,560.0 1447.1,560.2 1471.4,560.2 1471.4,560.4 1495.7,560.4" fill="none" stroke="#21918c" stroke-width="3.10" stroke-opacity="0.500" stroke-linejoin="round"/>
<path d="M911.9,507.7L911.9,467.5 936.3,467.5 936.3,445.3 960.6,445.3 960.6,436.1 984.9,436.1 984.9,435.2 1009.3,435.2 1009.3,439.5 1033.6,439.5 1033.6,451.6 1057.9,451.6 1057.9,464.2 1082.3,464.2 1082.3,478.4 1106.6,478.4 1106.6,492.2 1130.9,492.2 1130.9,504.9 1155.3,504.9 1155.3,516.9 1179.6,516.9 1179.6,527.6 1203.9,527.6 1203.9,536.2 1228.3,536.2 1228.3,542.8 1252.6,542.8 1252.6,548.3 1276.9,548.3 1276.9,552.3 1301.3,552.3 1301.3,555.1 1325.6,555.1 1325.6,556.9 1349.9,556.9 1349.9,558.2 1374.3,558.2 1374.3,559.1 1398.6,559.1 1398.6,559.6 1422.9,559.6 1422.9,560.0 1447.3,560.0 1447.3,560.2 1471.6,560.2 1471.6,560.4 1495.9,560.4" fill="none" stroke="#1f988b" stroke-width="3.10" stroke-opacity="0.500" stroke-linejoin="round"/>
<path d="M912.1,508.6L912.1,468.7 936.5,468.7 936.5,446.4 960.8,446.4 960.8,436.8 985.1,436.8 985.1,435.5 1009.5,435.5 1009.5,439.5 1033.8,439.5 1033.8,451.3 1058.1,451.3 1058.1,463.6 1082.5,463.6 1082.5,477.9 1106.8,477.9 1106.8,491.6 1131.1,491.6 1131.1,504.4 1155.5,504.4 1155.5,516.5 1179.8,516.5 1179.8,527.3 1204.1,527.3 1204.1,535.9 1228.5,535.9 1228.5,542.6 1252.8,542.6 1252.8,548.2 1277.1,548.2 1277.1,552.2 1301.5,552.2 1301.5,555.0 1325.8,555.0 1325.8,556.9 1350.1,556.9 1350.1,558.2 1374.5,558.2 1374.5,559.1 1398.8,559.1 1398.8,559.6 1423.1,559.6 1423.1,560.0 1447.5,560.0 1447.5,560.2 1471.8,560.2 1471.8,560.4 1496.1,560.4" fill="none" stroke="#1fa088" stroke-width="3.10" stroke-opacity="0.500" stroke-linejoin="round"/>
<path d="M912.3,509.5L912.3,469.9 936.6,469.9 936.6,447.5 961.0,447.5 961.0,437.6 985.3,437.6 985.3,435.9 1009.6,435.9 1009.6,439.4 1034.0,439.4 1034.0,450.9 1058.3,450.9 1058.3,463.1 1082.6,463.1 1082.6,477.3 1107.0,477.3 1107.0,491.0 1131.3,491.0 1131.3,503.9 1155.6,503.9 1155.6,516.0 1180.0,516.0 1180.0,526.9 1204.3,526.9 1204.3,535.7 1228.6,535.7 1228.6,542.4 1253.0,542.4 1253.0,548.1 1277.3,548.1 1277.3,552.1 1301.6,552.1 1301.6,555.0 1326.0,555.0 1326.0,556.8 1350.3,556.8 1350.3,558.2 1374.6,558.2 1374.6,559.1 1399.0,559.1 1399.0,559.6 1423.3,559.6 1423.3,560.0 1447.6,560.0 1447.6,560.2 1472.0,560.2 1472.0,560.4 1496.3,560.4" fill="none" stroke="#22a785" stroke-width="3.10" stroke-opacity="0.500" stroke-linejoin="round"/>
<path d="M912.5,510.3L912.5,471.1 936.8,471.1 936.8,448.5 961.2,448.5 961.2,438.3 985.5,438.3 985.5,436.2 1009.8,436.2 1009.8,439.4 1034.2,439.4 1034.2,450.6 1058.5,450.6 1058.5,462.6 1082.8,462.6 1082.8,476.7 1107.2,476.7 1107.2,490.4 1131.5,490.4 1131.5,503.3 1155.8,503.3 1155.8,515.6 1180.2,515.6 1180.2,526.6 1204.5,526.6 1204.5,535.4 1228.8,535.4 1228.8,542.2 1253.2,542.2 1253.2,548.0 1277.5,548.0 1277.5,552.0 1301.8,552.0 1301.8,554.9 1326.2,554.9 1326.2,556.8 1350.5,556.8 1350.5,558.2 1374.8,558.2 1374.8,559.1 1399.2,559.1 1399.2,559.6 1423.5,559.6 1423.5,560.0 1447.8,560.0 1447.8,560.2 1472.2,560.2 1472.2,560.4 1496.5,560.4" fill="none" stroke="#28ae80" stroke-width="3.10" stroke-opacity="0.500" stroke-linejoin="round"/>
<path d="M912.7,511.2L912.7,472.2 937.0,472.2 937.0,449.6 961.4,449.6 961.4,439.1 985.7,439.1 985.7,436.6 1010.0,436.6 1010.0,439.4 1034.4,439.4 1034.4,450.3 1058.7,450.3 1058.7,462.1 1083.0,462.1 1083.0,476.1 1107.4,476.1 1107.4,489.8 1131.7,489.8 1131.7,502.8 1156.0,502.8 1156.0,515.1 1180.4,515.1 1180.4,526.2 1204.7,526.2 1204.7,535.1 1229.0,535.1 1229.0,542.0 1253.4,542.0 1253.4,547.8 1277.7,547.8 1277.7,552.0 1302.0,552.0 1302.0,554.9 1326.4,554.9 1326.4,556.7 1350.7,556.7 1350.7,558.1 1375.0,558.1 1375.0,559.0 1399.4,559.0 1399.4,559.6 1423.7,559.6 1423.7,560.0 1448.0,560.0 1448.0,560.2 1472.4,560.2 1472.4,560.4 1496.7,560.4" fill="none" stroke="#32b67a" stroke-width="3.10" stroke-opacity="0.500" stroke-linejoin="round"/>
<path d="M912.9,512.0L912.9,473.4 937.2,473.4 937.2,450.7 961.6,450.7 961.6,439.9 985.9,439.9 985.9,437.0 1010.2,437.0 1010.2,439.4 1034.6,439.4 1034.6,450.0 1058.9,450.0 1058.9,461.6 1083.2,461.6 1083.2,475.5 1107.5,475.5 1107.5,489.2 1131.9,489.2 1131.9,502.2 1156.2,502.2 1156.2,514.7 1180.5,514.7 1180.5,525.8 1204.9,525.8 1204.9,534.9 1229.2,534.9 1229.2,541.8 1253.5,541.8 1253.5,547.7 1277.9,547.7 1277.9,551.9 1302.2,551.9 1302.2,554.8 1326.5,554.8 1326.5,556.7 1350.9,556.7 1350.9,558.1 1375.2,558.1 1375.2,559.0 1399.5,559.0 1399.5,559.6 1423.9,559.6 1423.9,560.0 1448.2,560.0 1448.2,560.2 1472.5,560.2 1472.5,560.4 1496.9,560.4" fill="none" stroke="#3fbc73" stroke-width="3.10" stroke-opacity="0.500" stroke-linejoin="round"/>
<path d="M913.1,512.9L913.1,474.6 937.4,474.6 937.4,451.8 961.7,451.8 961.7,440.6 986.1,440.6 986.1,437.3 1010.4,437.3 1010.4,439.4 1034.7,439.4 1034.7,449.7 1059.1,449.7 1059.1,461.1 1083.4,461.1 1083.4,474.9 1107.7,474.9 1107.7,488.6 1132.1,488.6 1132.1,501.7 1156.4,501.7 1156.4,514.2 1180.7,514.2 1180.7,525.5 1205.1,525.5 1205.1,534.6 1229.4,534.6 1229.4,541.6 1253.7,541.6 1253.7,547.5 1278.1,547.5 1278.1,551.8 1302.4,551.8 1302.4,554.8 1326.7,554.8 1326.7,556.7 1351.1,556.7 1351.1,558.1 1375.4,558.1 1375.4,559.0 1399.7,559.0 1399.7,559.6 1424.1,559.6 1424.1,559.9 1448.4,559.9 1448.4,560.2 1472.7,560.2 1472.7,560.4 1497.1,560.4" fill="none" stroke="#4ec36b" stroke-width="3.10" stroke-opacity="0.500" stroke-linejoin="round"/>
<path d="M913.3,513.7L913.3,475.7 937.6,475.7 937.6,452.9 961.9,452.9 961.9,441.4 986.3,441.4 986.3,437.7 1010.6,437.7 1010.6,439.4 1034.9,439.4 1034.9,449.4 1059.3,449.4 1059.3,460.6 1083.6,460.6 1083.6,474.3 1107.9,474.3 1107.9,488.0 1132.3,488.0 1132.3,501.1 1156.6,501.1 1156.6,513.7 1180.9,513.7 1180.9,525.1 1205.3,525.1 1205.3,534.3 1229.6,534.3 1229.6,541.4 1253.9,541.4 1253.9,547.4 1278.3,547.4 1278.3,551.7 1302.6,551.7 1302.6,554.7 1326.9,554.7 1326.9,556.6 1351.3,556.6 1351.3,558.1 1375.6,558.1 1375.6,559.0 1399.9,559.0 1399.9,559.6 1424.3,559.6 1424.3,559.9 1448.6,559.9 1448.6,560.2 1472.9,560.2 1472.9,560.4 1497.3,560.4" fill="none" stroke="#5ec962" stroke-width="3.10" stroke-opacity="0.500" stroke-linejoin="round"/>
<path d="M913.5,514.5L913.5,476.9 937.8,476.9 937.8,454.0 962.1,454.0 962.1,442.2 986.5,442.2 986.5,438.1 1010.8,438.1 1010.8,439.4 1035.1,439.4 1035.1,449.1 1059.5,449.1 1059.5,460.1 1083.8,460.1 1083.8,473.7 1108.1,473.7 1108.1,487.4 1132.5,487.4 1132.5,500.6 1156.8,500.6 1156.8,513.2 1181.1,513.2 1181.1,524.7 1205.5,524.7 1205.5,534.0 1229.8,534.0 1229.8,541.2 1254.1,541.2 1254.1,547.3 1278.5,547.3 1278.5,551.6 1302.8,551.6 1302.8,554.7 1327.1,554.7 1327.1,556.6 1351.5,556.6 1351.5,558.0 1375.8,558.0 1375.8,559.0 1400.1,559.0 1400.1,559.6 1424.4,559.6 1424.4,559.9 1448.8,559.9 1448.8,560.2 1473.1,560.2 1473.1,560.4 1497.4,560.4" fill="none" stroke="#70cf57" stroke-width="3.10" stroke-opacity="0.500" stroke-linejoin="round"/>
<path d="M913.6,515.3L913.6,478.0 938.0,478.0 938.0,455.0 962.3,455.0 962.3,443.0 986.6,443.0 986.6,438.6 1011.0,438.6 1011.0,439.5 1035.3,439.5 1035.3,448.8 1059.6,448.8 1059.6,459.6 1084.0,459.6 1084.0,473.1 1108.3,473.1 1108.3,486.8 1132.6,486.8 1132.6,500.0 1157.0,500.0 1157.0,512.7 1181.3,512.7 1181.3,524.3 1205.6,524.3 1205.6,533.7 1230.0,533.7 1230.0,541.0 1254.3,541.0 1254.3,547.1 1278.6,547.1 1278.6,551.5 1303.0,551.5 1303.0,554.6 1327.3,554.6 1327.3,556.6 1351.6,556.6 1351.6,558.0 1376.0,558.0 1376.0,559.0 1400.3,559.0 1400.3,559.6 1424.6,559.6 1424.6,559.9 1449.0,559.9 1449.0,560.2 1473.3,560.2 1473.3,560.4 1497.6,560.4" fill="none" stroke="#84d44b" stroke-width="3.10" stroke-opacity="0.500" stroke-linejoin="round"/>
<path d="M913.8,516.1L913.8,479.1 938.2,479.1 938.2,456.1 962.5,456.1 962.5,443.8 986.8,443.8 986.8,439.0 1011.2,439.0 1011.2,439.5 1035.5,439.5 1035.5,448.6 1059.8,448.6 1059.8,459.2 1084.2,459.2 1084.2,472.5 1108.5,472.5 1108.5,486.2 1132.8,486.2 1132.8,499.4 1157.2,499.4 1157.2,512.3 1181.5,512.3 1181.5,523.9 1205.8,523.9 1205.8,533.4 1230.2,533.4 1230.2,540.7 1254.5,540.7 1254.5,547.0 1278.8,547.0 1278.8,551.4 1303.2,551.4 1303.2,554.5 1327.5,554.5 1327.5,556.5 1351.8,556.5 1351.8,558.0 1376.2,558.0 1376.2,559.0 1400.5,559.0 1400.5,559.6 1424.8,559.6 1424.8,559.9 1449.2,559.9 1449.2,560.2 1473.5,560.2 1473.5,560.4 1497.8,560.4" fill="none" stroke="#98d83e" stroke-width="3.10" stroke-opacity="0.500" stroke-linejoin="round"/>
<path d="M914.0,516.9L914.0,480.3 938.4,480.3 938.4,457.2 962.7,457.2 962.7,444.6 987.0,444.6 987.0,439.4 1011.4,439.4 1011.4,439.6 1035.7,439.6 1035.7,448.3 1060.0,448.3 1060.0,458.7 1084.4,458.7 1084.4,472.0 1108.7,472.0 1108.7,485.5 1133.0,485.5 1133.0,498.8 1157.4,498.8 1157.4,511.8 1181.7,511.8 1181.7,523.5 1206.0,523.5 1206.0,533.1 1230.4,533.1 1230.4,540.5 1254.7,540.5 1254.7,546.8 1279.0,546.8 1279.0,551.3 1303.4,551.3 1303.4,554.5 1327.7,554.5 1327.7,556.5 1352.0,556.5 1352.0,558.0 1376.4,558.0 1376.4,559.0 1400.7,559.0 1400.7,559.6 1425.0,559.6 1425.0,559.9 1449.4,559.9 1449.4,560.2 1473.7,560.2 1473.7,560.4 1498.0,560.4" fill="none" stroke="#addc30" stroke-width="3.10" stroke-opacity="0.500" stroke-linejoin="round"/>
<path d="M914.2,517.6L914.2,481.4 938.5,481.4 938.5,458.3 962.9,458.3 962.9,445.4 987.2,445.4 987.2,439.9 1011.5,439.9 1011.5,439.6 1035.9,439.6 1035.9,448.1 1060.2,448.1 1060.2,458.2 1084.5,458.2 1084.5,471.4 1108.9,471.4 1108.9,484.9 1133.2,484.9 1133.2,498.3 1157.5,498.3 1157.5,511.3 1181.9,511.3 1181.9,523.1 1206.2,523.1 1206.2,532.8 1230.5,532.8 1230.5,540.3 1254.9,540.3 1254.9,546.7 1279.2,546.7 1279.2,551.2 1303.5,551.2 1303.5,554.4 1327.9,554.4 1327.9,556.4 1352.2,556.4 1352.2,558.0 1376.5,558.0 1376.5,558.9 1400.9,558.9 1400.9,559.6 1425.2,559.6 1425.2,559.9 1449.5,559.9 1449.5,560.2 1473.9,560.2 1473.9,560.4 1498.2,560.4" fill="none" stroke="#c2df23" stroke-width="3.10" stroke-opacity="0.500" stroke-linejoin="round"/>
<path d="M914.4,518.4L914.4,482.5 938.7,482.5 938.7,459.3 963.1,459.3 963.1,446.3 987.4,446.3 987.4,440.4 1011.7,440.4 1011.7,439.7 1036.1,439.7 1036.1,447.8 1060.4,447.8 1060.4,457.8 1084.7,457.8 1084.7,470.8 1109.1,470.8 1109.1,484.3 1133.4,484.3 1133.4,497.7 1157.7,497.7 1157.7,510.8 1182.1,510.8 1182.1,522.7 1206.4,522.7 1206.4,532.5 1230.7,532.5 1230.7,540.1 1255.1,540.1 1255.1,546.5 1279.4,546.5 1279.4,551.1 1303.7,551.1 1303.7,554.4 1328.1,554.4 1328.1,556.4 1352.4,556.4 1352.4,557.9 1376.7,557.9 1376.7,558.9 1401.1,558.9 1401.1,559.5 1425.4,559.5 1425.4,559.9 1449.7,559.9 1449.7,560.2 1474.1,560.2 1474.1,560.4 1498.4,560.4" fill="none" stroke="#d8e219" stroke-width="3.10" stroke-opacity="0.500" stroke-linejoin="round"/>
<path d="M914.6,519.1L914.6,483.5 938.9,483.5 938.9,460.4 963.3,460.4 963.3,447.1 987.6,447.1 987.6,440.8 1011.9,440.8 1011.9,439.8 1036.3,439.8 1036.3,447.6 1060.6,447.6 1060.6,457.3 1084.9,457.3 1084.9,470.2 1109.3,470.2 1109.3,483.7 1133.6,483.7 1133.6,497.1 1157.9,497.1 1157.9,510.3 1182.3,510.3 1182.3,522.3 1206.6,522.3 1206.6,532.2 1230.9,532.2 1230.9,539.9 1255.3,539.9 1255.3,546.4 1279.6,546.4 1279.6,551.0 1303.9,551.0 1303.9,554.3 1328.3,554.3 1328.3,556.4 1352.6,556.4 1352.6,557.9 1376.9,557.9 1376.9,558.9 1401.3,558.9 1401.3,559.5 1425.6,559.5 1425.6,559.9 1449.9,559.9 1449.9,560.2 1474.3,560.2 1474.3,560.4 1498.6,560.4" fill="none" stroke="#ece51b" stroke-width="3.10" stroke-opacity="0.500" stroke-linejoin="round"/>
<path d="M914.8,519.9L914.8,484.6 939.1,484.6 939.1,461.5 963.5,461.5 963.5,447.9 987.8,447.9 987.8,441.3 1012.1,441.3 1012.1,440.0 1036.5,440.0 1036.5,447.4 1060.8,447.4 1060.8,456.8 1085.1,456.8 1085.1,469.6 1109.5,469.6 1109.5,483.1 1133.8,483.1 1133.8,496.5 1158.1,496.5 1158.1,509.7 1182.5,509.7 1182.5,521.9 1206.8,521.9 1206.8,531.9 1231.1,531.9 1231.1,539.6 1255.4,539.6 1255.4,546.2 1279.8,546.2 1279.8,550.9 1304.1,550.9 1304.1,554.2 1328.4,554.2 1328.4,556.3 1352.8,556.3 1352.8,557.9 1377.1,557.9 1377.1,558.9 1401.4,558.9 1401.4,559.5 1425.8,559.5 1425.8,559.9 1450.1,559.9 1450.1,560.2 1474.4,560.2 1474.4,560.4 1498.8,560.4" fill="none" stroke="#fde725" stroke-width="3.10" stroke-opacity="0.500" stroke-linejoin="round"/>
</g>
<text x="1504.60" y="358.40" text-anchor="end" font-size="18.1" fill="#000" stroke="#000" stroke-width="0.25">negative score</text>
<defs><linearGradient id="cb3g" x1="0" x2="1" y1="0" y2="0"><stop offset="0.000" stop-color="#440154"/><stop offset="0.050" stop-color="#471365"/><stop offset="0.100" stop-color="#482475"/><stop offset="0.150" stop-color="#463480"/><stop offset="0.200" stop-color="#414487"/><stop offset="0.250" stop-color="#3b528b"/><stop offset="0.300" stop-color="#355f8d"/><stop offset="0.350" stop-color="#2f6c8e"/><stop offset="0.400" stop-color="#2a788e"/><stop offset="0.450" stop-color="#25848e"/><stop offset="0.500" stop-color="#21918c"/><stop offset="0.550" stop-color="#1e9c89"/><stop offset="0.600" stop-color="#22a884"/><stop offset="0.650" stop-color="#2fb47c"/><stop offset="0.700" stop-color="#44bf70"/><stop offset="0.750" stop-color="#5ec962"/><stop offset="0.800" stop-color="#7ad151"/><stop offset="0.850" stop-color="#9bd93c"/><stop offset="0.900" stop-color="#bddf26"/><stop offset="0.950" stop-color="#dfe318"/><stop offset="1.000" stop-color="#fde725"/></linearGradient></defs>
<rect x="1243.60" y="368.50" width="262.20" height="23.40" fill="url(#cb3g)"/>
<line x1="1276.84" y1="368.50" x2="1276.84" y2="373.18" stroke="#fff" stroke-width="1"/>
<line x1="1276.84" y1="387.22" x2="1276.84" y2="391.90" stroke="#fff" stroke-width="1"/>
<text x="1276.84" y="413.30" text-anchor="middle" font-size="18.2" fill="#000" stroke="#000" stroke-width="0.25">10</text>
<line x1="1358.32" y1="368.50" x2="1358.32" y2="373.18" stroke="#fff" stroke-width="1"/>
<line x1="1358.32" y1="387.22" x2="1358.32" y2="391.90" stroke="#fff" stroke-width="1"/>
<text x="1358.32" y="413.30" text-anchor="middle" font-size="18.2" fill="#000" stroke="#000" stroke-width="0.25">20</text>
<line x1="1439.80" y1="368.50" x2="1439.80" y2="373.18" stroke="#fff" stroke-width="1"/>
<line x1="1439.80" y1="387.22" x2="1439.80" y2="391.90" stroke="#fff" stroke-width="1"/>
<text x="1439.80" y="413.30" text-anchor="middle" font-size="18.2" fill="#000" stroke="#000" stroke-width="0.25">30</text>
<rect x="880.05" y="323.15" width="647.40" height="247.90" fill="none" stroke="#333" stroke-width="1.7"/>
<line x1="871.10" y1="560.61" x2="879.20" y2="560.61" stroke="#333" stroke-width="2.6"/>
<text x="864.30" y="569.01" text-anchor="end" font-size="24" fill="#4d4d4d" stroke="#4d4d4d" stroke-width="0.3">0.00</text>
<line x1="871.10" y1="536.63" x2="879.20" y2="536.63" stroke="#333" stroke-width="2.6"/>
<text x="864.30" y="545.03" text-anchor="end" font-size="24" fill="#4d4d4d" stroke="#4d4d4d" stroke-width="0.3">0.02</text>
<line x1="871.10" y1="512.65" x2="879.20" y2="512.65" stroke="#333" stroke-width="2.6"/>
<text x="864.30" y="521.05" text-anchor="end" font-size="24" fill="#4d4d4d" stroke="#4d4d4d" stroke-width="0.3">0.04</text>
<line x1="871.10" y1="488.67" x2="879.20" y2="488.67" stroke="#333" stroke-width="2.6"/>
<text x="864.30" y="497.07" text-anchor="end" font-size="24" fill="#4d4d4d" stroke="#4d4d4d" stroke-width="0.3">0.06</text>
<line x1="871.10" y1="464.69" x2="879.20" y2="464.69" stroke="#333" stroke-width="2.6"/>
<text x="864.30" y="473.09" text-anchor="end" font-size="24" fill="#4d4d4d" stroke="#4d4d4d" stroke-width="0.3">0.08</text>
<line x1="871.10" y1="440.71" x2="879.20" y2="440.71" stroke="#333" stroke-width="2.6"/>
<text x="864.30" y="449.11" text-anchor="end" font-size="24" fill="#4d4d4d" stroke="#4d4d4d" stroke-width="0.3">0.10</text>
<line x1="908.70" y1="571.90" x2="908.70" y2="579.70" stroke="#333" stroke-width="2.6"/>
<text x="908.70" y="603.90" text-anchor="middle" font-size="24" fill="#4d4d4d" stroke="#4d4d4d" stroke-width="0.3">4</text>
<line x1="1054.70" y1="571.90" x2="1054.70" y2="579.70" stroke="#333" stroke-width="2.6"/>
<text x="1054.70" y="603.90" text-anchor="middle" font-size="24" fill="#4d4d4d" stroke="#4d4d4d" stroke-width="0.3">10</text>
<line x1="1200.70" y1="571.90" x2="1200.70" y2="579.70" stroke="#333" stroke-width="2.6"/>
<text x="1200.70" y="603.90" text-anchor="middle" font-size="24" fill="#4d4d4d" stroke="#4d4d4d" stroke-width="0.3">16</text>
<line x1="1346.70" y1="571.90" x2="1346.70" y2="579.70" stroke="#333" stroke-width="2.6"/>
<text x="1346.70" y="603.90" text-anchor="middle" font-size="24" fill="#4d4d4d" stroke="#4d4d4d" stroke-width="0.3">22</text>
<line x1="1492.70" y1="571.90" x2="1492.70" y2="579.70" stroke="#333" stroke-width="2.6"/>
<text x="1492.70" y="603.90" text-anchor="middle" font-size="24" fill="#4d4d4d" stroke="#4d4d4d" stroke-width="0.3">28</text>
<defs><clipPath id="c4"><rect x="138.00" y="638.40" width="649.10" height="249.60"/></clipPath></defs>
<g clip-path="url(#c4)">
<line x1="138.00" y1="864.72" x2="787.10" y2="864.72" stroke="#ebebeb" stroke-width="1.2"/>
<line x1="138.00" y1="840.74" x2="787.10" y2="840.74" stroke="#ebebeb" stroke-width="1.2"/>
<line x1="138.00" y1="816.76" x2="787.10" y2="816.76" stroke="#ebebeb" stroke-width="1.2"/>
<line x1="138.00" y1="792.78" x2="787.10" y2="792.78" stroke="#ebebeb" stroke-width="1.2"/>
<line x1="138.00" y1="768.80" x2="787.10" y2="768.80" stroke="#ebebeb" stroke-width="1.2"/>
<line x1="138.00" y1="744.82" x2="787.10" y2="744.82" stroke="#ebebeb" stroke-width="1.2"/>
<line x1="138.00" y1="732.83" x2="787.10" y2="732.83" stroke="#ebebeb" stroke-width="1.2"/>
<line x1="240.50" y1="638.40" x2="240.50" y2="888.00" stroke="#ebebeb" stroke-width="1.2"/>
<line x1="386.50" y1="638.40" x2="386.50" y2="888.00" stroke="#ebebeb" stroke-width="1.2"/>
<line x1="532.50" y1="638.40" x2="532.50" y2="888.00" stroke="#ebebeb" stroke-width="1.2"/>
<line x1="678.50" y1="638.40" x2="678.50" y2="888.00" stroke="#ebebeb" stroke-width="1.2"/>
<line x1="138.00" y1="876.71" x2="787.10" y2="876.71" stroke="#ebebeb" stroke-width="2.4"/>
<line x1="138.00" y1="852.73" x2="787.10" y2="852.73" stroke="#ebebeb" stroke-width="2.4"/>
<line x1="138.00" y1="828.75" x2="787.10" y2="828.75" stroke="#ebebeb" stroke-width="2.4"/>
<line x1="138.00" y1="804.77" x2="787.10" y2="804.77" stroke="#ebebeb" stroke-width="2.4"/>
<line x1="138.00" y1="780.79" x2="787.10" y2="780.79" stroke="#ebebeb" stroke-width="2.4"/>
<line x1="138.00" y1="756.81" x2="787.10" y2="756.81" stroke="#ebebeb" stroke-width="2.4"/>
<line x1="167.50" y1="638.40" x2="167.50" y2="888.00" stroke="#ebebeb" stroke-width="2.4"/>
<line x1="313.50" y1="638.40" x2="313.50" y2="888.00" stroke="#ebebeb" stroke-width="2.4"/>
<line x1="459.50" y1="638.40" x2="459.50" y2="888.00" stroke="#ebebeb" stroke-width="2.4"/>
<line x1="605.50" y1="638.40" x2="605.50" y2="888.00" stroke="#ebebeb" stroke-width="2.4"/>
<line x1="751.50" y1="638.40" x2="751.50" y2="888.00" stroke="#ebebeb" stroke-width="2.4"/>
<path d="M167.5,819.7L167.5,781.7 191.8,781.7 191.8,762.2 216.2,762.2 216.2,754.9 240.5,754.9 240.5,754.9 264.8,754.9 264.8,759.3 289.2,759.3 289.2,770.6 313.5,770.6 313.5,782.2 337.8,782.2 337.8,795.4 362.2,795.4 362.2,808.2 386.5,808.2 386.5,820.3 410.8,820.3 410.8,831.8 435.2,831.8 435.2,842.3 459.5,842.3 459.5,850.9 483.8,850.9 483.8,857.6 508.2,857.6 508.2,863.4 532.5,863.4 532.5,867.5 556.8,867.5 556.8,870.5 581.2,870.5 581.2,872.5 605.5,872.5 605.5,873.9 629.8,873.9 629.8,874.9 654.2,874.9 654.2,875.6 678.5,875.6 678.5,875.9 702.8,875.9 702.8,876.2 727.2,876.2 727.2,876.4 751.5,876.4" fill="none" stroke="#440154" stroke-width="3.10" stroke-opacity="0.500" stroke-linejoin="round"/>
<path d="M167.8,820.1L167.8,782.0 192.2,782.0 192.2,762.2 216.5,762.2 216.5,754.8 240.8,754.8 240.8,754.7 265.2,754.7 265.2,759.0 289.5,759.0 289.5,770.3 313.8,770.3 313.8,782.0 338.2,782.0 338.2,795.3 362.5,795.3 362.5,808.1 386.8,808.1 386.8,820.3 411.2,820.3 411.2,831.9 435.5,831.9 435.5,842.4 459.8,842.4 459.8,851.0 484.2,851.0 484.2,857.6 508.5,857.6 508.5,863.4 532.8,863.4 532.8,867.6 557.2,867.6 557.2,870.6 581.5,870.6 581.5,872.5 605.8,872.5 605.8,874.0 630.2,874.0 630.2,875.0 654.5,875.0 654.5,875.6 678.8,875.6 678.8,875.9 703.2,875.9 703.2,876.2 727.5,876.2 727.5,876.4 751.8,876.4" fill="none" stroke="#481668" stroke-width="3.10" stroke-opacity="0.500" stroke-linejoin="round"/>
<path d="M168.2,820.5L168.2,782.2 192.5,782.2 192.5,762.3 216.8,762.3 216.8,754.7 241.2,754.7 241.2,754.4 265.5,754.4 265.5,758.7 289.8,758.7 289.8,770.1 314.2,770.1 314.2,781.8 338.5,781.8 338.5,795.2 362.8,795.2 362.8,808.1 387.2,808.1 387.2,820.3 411.5,820.3 411.5,831.9 435.8,831.9 435.8,842.5 460.2,842.5 460.2,851.1 484.5,851.1 484.5,857.7 508.8,857.7 508.8,863.5 533.2,863.5 533.2,867.6 557.5,867.6 557.5,870.6 581.8,870.6 581.8,872.5 606.2,872.5 606.2,874.0 630.5,874.0 630.5,875.0 654.8,875.0 654.8,875.6 679.2,875.6 679.2,876.0 703.5,876.0 703.5,876.2 727.8,876.2 727.8,876.5 752.2,876.5" fill="none" stroke="#482878" stroke-width="3.10" stroke-opacity="0.500" stroke-linejoin="round"/>
<path d="M168.5,820.9L168.5,782.5 192.9,782.5 192.9,762.3 217.2,762.3 217.2,754.5 241.5,754.5 241.5,754.2 265.8,754.2 265.8,758.4 290.2,758.4 290.2,769.8 314.5,769.8 314.5,781.6 338.8,781.6 338.8,795.0 363.2,795.0 363.2,808.0 387.5,808.0 387.5,820.3 411.8,820.3 411.8,832.0 436.2,832.0 436.2,842.5 460.5,842.5 460.5,851.1 484.8,851.1 484.8,857.8 509.2,857.8 509.2,863.6 533.5,863.6 533.5,867.7 557.8,867.7 557.8,870.7 582.2,870.7 582.2,872.6 606.5,872.6 606.5,874.0 630.8,874.0 630.8,875.0 655.2,875.0 655.2,875.6 679.5,875.6 679.5,876.0 703.8,876.0 703.8,876.2 728.2,876.2 728.2,876.5 752.5,876.5" fill="none" stroke="#443983" stroke-width="3.10" stroke-opacity="0.500" stroke-linejoin="round"/>
<path d="M168.9,821.3L168.9,782.7 193.2,782.7 193.2,762.4 217.5,762.4 217.5,754.4 241.9,754.4 241.9,754.0 266.2,754.0 266.2,758.1 290.5,758.1 290.5,769.6 314.9,769.6 314.9,781.4 339.2,781.4 339.2,794.9 363.5,794.9 363.5,808.0 387.9,808.0 387.9,820.3 412.2,820.3 412.2,832.0 436.5,832.0 436.5,842.6 460.9,842.6 460.9,851.2 485.2,851.2 485.2,857.9 509.5,857.9 509.5,863.6 533.9,863.6 533.9,867.8 558.2,867.8 558.2,870.7 582.5,870.7 582.5,872.6 606.8,872.6 606.8,874.1 631.2,874.1 631.2,875.0 655.5,875.0 655.5,875.6 679.8,875.6 679.8,876.0 704.2,876.0 704.2,876.2 728.5,876.2 728.5,876.5 752.8,876.5" fill="none" stroke="#3e4989" stroke-width="3.10" stroke-opacity="0.500" stroke-linejoin="round"/>
<path d="M169.2,821.7L169.2,783.0 193.5,783.0 193.5,762.4 217.9,762.4 217.9,754.2 242.2,754.2 242.2,753.7 266.5,753.7 266.5,757.9 290.9,757.9 290.9,769.3 315.2,769.3 315.2,781.2 339.5,781.2 339.5,794.8 363.9,794.8 363.9,807.9 388.2,807.9 388.2,820.3 412.5,820.3 412.5,832.1 436.9,832.1 436.9,842.7 461.2,842.7 461.2,851.3 485.5,851.3 485.5,858.0 509.9,858.0 509.9,863.7 534.2,863.7 534.2,867.8 558.5,867.8 558.5,870.8 582.9,870.8 582.9,872.7 607.2,872.7 607.2,874.1 631.5,874.1 631.5,875.0 655.9,875.0 655.9,875.6 680.2,875.6 680.2,876.0 704.5,876.0 704.5,876.2 728.9,876.2 728.9,876.5 753.2,876.5" fill="none" stroke="#375a8c" stroke-width="3.10" stroke-opacity="0.500" stroke-linejoin="round"/>
<path d="M169.5,822.1L169.5,783.2 193.9,783.2 193.9,762.4 218.2,762.4 218.2,754.1 242.5,754.1 242.5,753.5 266.9,753.5 266.9,757.6 291.2,757.6 291.2,769.1 315.5,769.1 315.5,781.0 339.9,781.0 339.9,794.7 364.2,794.7 364.2,807.9 388.5,807.9 388.5,820.3 412.9,820.3 412.9,832.1 437.2,832.1 437.2,842.8 461.5,842.8 461.5,851.4 485.9,851.4 485.9,858.0 510.2,858.0 510.2,863.8 534.5,863.8 534.5,867.9 558.9,867.9 558.9,870.8 583.2,870.8 583.2,872.7 607.5,872.7 607.5,874.1 631.9,874.1 631.9,875.1 656.2,875.1 656.2,875.6 680.5,875.6 680.5,876.0 704.9,876.0 704.9,876.2 729.2,876.2 729.2,876.5 753.5,876.5" fill="none" stroke="#31688e" stroke-width="3.10" stroke-opacity="0.500" stroke-linejoin="round"/>
<path d="M169.9,822.5L169.9,783.5 194.2,783.5 194.2,762.5 218.5,762.5 218.5,754.0 242.9,754.0 242.9,753.2 267.2,753.2 267.2,757.3 291.5,757.3 291.5,768.8 315.9,768.8 315.9,780.8 340.2,780.8 340.2,794.5 364.5,794.5 364.5,807.8 388.9,807.8 388.9,820.3 413.2,820.3 413.2,832.2 437.5,832.2 437.5,842.8 461.9,842.8 461.9,851.5 486.2,851.5 486.2,858.1 510.5,858.1 510.5,863.9 534.9,863.9 534.9,867.9 559.2,867.9 559.2,870.9 583.5,870.9 583.5,872.7 607.9,872.7 607.9,874.1 632.2,874.1 632.2,875.1 656.5,875.1 656.5,875.7 680.9,875.7 680.9,876.0 705.2,876.0 705.2,876.2 729.5,876.2 729.5,876.5 753.9,876.5" fill="none" stroke="#2b758e" stroke-width="3.10" stroke-opacity="0.500" stroke-linejoin="round"/>
<path d="M170.2,822.9L170.2,783.8 194.5,783.8 194.5,762.5 218.9,762.5 218.9,753.8 243.2,753.8 243.2,753.0 267.5,753.0 267.5,757.0 291.9,757.0 291.9,768.6 316.2,768.6 316.2,780.6 340.5,780.6 340.5,794.4 364.9,794.4 364.9,807.8 389.2,807.8 389.2,820.3 413.5,820.3 413.5,832.2 437.9,832.2 437.9,842.9 462.2,842.9 462.2,851.6 486.5,851.6 486.5,858.2 510.9,858.2 510.9,863.9 535.2,863.9 535.2,868.0 559.5,868.0 559.5,870.9 583.9,870.9 583.9,872.8 608.2,872.8 608.2,874.2 632.5,874.2 632.5,875.1 656.9,875.1 656.9,875.7 681.2,875.7 681.2,876.0 705.5,876.0 705.5,876.2 729.9,876.2 729.9,876.5 754.2,876.5" fill="none" stroke="#26828e" stroke-width="3.10" stroke-opacity="0.500" stroke-linejoin="round"/>
<path d="M170.5,823.3L170.5,784.0 194.9,784.0 194.9,762.6 219.2,762.6 219.2,753.7 243.5,753.7 243.5,752.7 267.9,752.7 267.9,756.7 292.2,756.7 292.2,768.3 316.5,768.3 316.5,780.4 340.9,780.4 340.9,794.3 365.2,794.3 365.2,807.7 389.5,807.7 389.5,820.3 413.9,820.3 413.9,832.3 438.2,832.3 438.2,843.0 462.5,843.0 462.5,851.6 486.9,851.6 486.9,858.3 511.2,858.3 511.2,864.0 535.5,864.0 535.5,868.1 559.9,868.1 559.9,871.0 584.2,871.0 584.2,872.8 608.5,872.8 608.5,874.2 632.9,874.2 632.9,875.1 657.2,875.1 657.2,875.7 681.5,875.7 681.5,876.0 705.9,876.0 705.9,876.3 730.2,876.3 730.2,876.5 754.5,876.5" fill="none" stroke="#21918c" stroke-width="3.10" stroke-opacity="0.500" stroke-linejoin="round"/>
<path d="M170.9,822.8L170.9,783.6 195.2,783.6 195.2,762.5 219.5,762.5 219.5,753.9 243.9,753.9 243.9,753.1 268.2,753.1 268.2,757.1 292.5,757.1 292.5,768.7 316.9,768.7 316.9,780.7 341.2,780.7 341.2,794.5 365.5,794.5 365.5,807.8 389.9,807.8 389.9,820.3 414.2,820.3 414.2,832.2 438.5,832.2 438.5,842.9 462.9,842.9 462.9,851.5 487.2,851.5 487.2,858.2 511.5,858.2 511.5,863.9 535.9,863.9 535.9,868.0 560.2,868.0 560.2,870.9 584.5,870.9 584.5,872.8 608.9,872.8 608.9,874.2 633.2,874.2 633.2,875.1 657.5,875.1 657.5,875.7 681.9,875.7 681.9,876.0 706.2,876.0 706.2,876.2 730.5,876.2 730.5,876.5 754.9,876.5" fill="none" stroke="#1f9e89" stroke-width="3.10" stroke-opacity="0.500" stroke-linejoin="round"/>
<path d="M171.2,822.2L171.2,783.3 195.6,783.3 195.6,762.4 219.9,762.4 219.9,754.1 244.2,754.1 244.2,753.4 268.6,753.4 268.6,757.5 292.9,757.5 292.9,769.0 317.2,769.0 317.2,781.0 341.6,781.0 341.6,794.6 365.9,794.6 365.9,807.9 390.2,807.9 390.2,820.3 414.6,820.3 414.6,832.1 438.9,832.1 438.9,842.8 463.2,842.8 463.2,851.4 487.6,851.4 487.6,858.1 511.9,858.1 511.9,863.8 536.2,863.8 536.2,867.9 560.5,867.9 560.5,870.8 584.9,870.8 584.9,872.7 609.2,872.7 609.2,874.1 633.5,874.1 633.5,875.1 657.9,875.1 657.9,875.6 682.2,875.6 682.2,876.0 706.5,876.0 706.5,876.2 730.9,876.2 730.9,876.5 755.2,876.5" fill="none" stroke="#25ab82" stroke-width="3.10" stroke-opacity="0.500" stroke-linejoin="round"/>
<path d="M171.6,821.6L171.6,782.9 195.9,782.9 195.9,762.4 220.2,762.4 220.2,754.3 244.6,754.3 244.6,753.8 268.9,753.8 268.9,757.9 293.2,757.9 293.2,769.4 317.6,769.4 317.6,781.2 341.9,781.2 341.9,794.8 366.2,794.8 366.2,807.9 390.6,807.9 390.6,820.3 414.9,820.3 414.9,832.1 439.2,832.1 439.2,842.7 463.6,842.7 463.6,851.3 487.9,851.3 487.9,858.0 512.2,858.0 512.2,863.7 536.6,863.7 536.6,867.8 560.9,867.8 560.9,870.8 585.2,870.8 585.2,872.7 609.6,872.7 609.6,874.1 633.9,874.1 633.9,875.0 658.2,875.0 658.2,875.6 682.6,875.6 682.6,876.0 706.9,876.0 706.9,876.2 731.2,876.2 731.2,876.5 755.6,876.5" fill="none" stroke="#35b779" stroke-width="3.10" stroke-opacity="0.500" stroke-linejoin="round"/>
<path d="M171.9,821.0L171.9,782.5 196.2,782.5 196.2,762.3 220.6,762.3 220.6,754.4 244.9,754.4 244.9,754.1 269.2,754.1 269.2,758.3 293.6,758.3 293.6,769.8 317.9,769.8 317.9,781.5 342.2,781.5 342.2,795.0 366.6,795.0 366.6,808.0 390.9,808.0 390.9,820.3 415.2,820.3 415.2,832.0 439.6,832.0 439.6,842.6 463.9,842.6 463.9,851.2 488.2,851.2 488.2,857.8 512.6,857.8 512.6,863.6 536.9,863.6 536.9,867.7 561.2,867.7 561.2,870.7 585.6,870.7 585.6,872.6 609.9,872.6 609.9,874.0 634.2,874.0 634.2,875.0 658.6,875.0 658.6,875.6 682.9,875.6 682.9,876.0 707.2,876.0 707.2,876.2 731.6,876.2 731.6,876.5 755.9,876.5" fill="none" stroke="#4ec36b" stroke-width="3.10" stroke-opacity="0.500" stroke-linejoin="round"/>
<path d="M172.2,820.5L172.2,782.2 196.6,782.2 196.6,762.2 220.9,762.2 220.9,754.6 245.2,754.6 245.2,754.4 269.6,754.4 269.6,758.7 293.9,758.7 293.9,770.1 318.2,770.1 318.2,781.8 342.6,781.8 342.6,795.2 366.9,795.2 366.9,808.1 391.2,808.1 391.2,820.3 415.6,820.3 415.6,831.9 439.9,831.9 439.9,842.5 464.2,842.5 464.2,851.1 488.6,851.1 488.6,857.7 512.9,857.7 512.9,863.5 537.2,863.5 537.2,867.6 561.6,867.6 561.6,870.6 585.9,870.6 585.9,872.5 610.2,872.5 610.2,874.0 634.6,874.0 634.6,875.0 658.9,875.0 658.9,875.6 683.2,875.6 683.2,876.0 707.6,876.0 707.6,876.2 731.9,876.2 731.9,876.5 756.2,876.5" fill="none" stroke="#6ece58" stroke-width="3.10" stroke-opacity="0.500" stroke-linejoin="round"/>
<path d="M172.6,819.9L172.6,781.8 196.9,781.8 196.9,762.2 221.2,762.2 221.2,754.8 245.6,754.8 245.6,754.8 269.9,754.8 269.9,759.1 294.2,759.1 294.2,770.5 318.6,770.5 318.6,782.1 342.9,782.1 342.9,795.3 367.2,795.3 367.2,808.2 391.6,808.2 391.6,820.3 415.9,820.3 415.9,831.9 440.2,831.9 440.2,842.4 464.6,842.4 464.6,851.0 488.9,851.0 488.9,857.6 513.2,857.6 513.2,863.4 537.6,863.4 537.6,867.6 561.9,867.6 561.9,870.6 586.2,870.6 586.2,872.5 610.6,872.5 610.6,874.0 634.9,874.0 634.9,874.9 659.2,874.9 659.2,875.6 683.6,875.6 683.6,875.9 707.9,875.9 707.9,876.2 732.2,876.2 732.2,876.4 756.6,876.4" fill="none" stroke="#90d743" stroke-width="3.10" stroke-opacity="0.500" stroke-linejoin="round"/>
<path d="M172.9,819.3L172.9,781.4 197.2,781.4 197.2,762.1 221.6,762.1 221.6,755.0 245.9,755.0 245.9,755.1 270.2,755.1 270.2,759.5 294.6,759.5 294.6,770.8 318.9,770.8 318.9,782.3 343.2,782.3 343.2,795.5 367.6,795.5 367.6,808.3 391.9,808.3 391.9,820.3 416.2,820.3 416.2,831.8 440.6,831.8 440.6,842.3 464.9,842.3 464.9,850.8 489.2,850.8 489.2,857.5 513.6,857.5 513.6,863.3 537.9,863.3 537.9,867.5 562.2,867.5 562.2,870.5 586.6,870.5 586.6,872.4 610.9,872.4 610.9,873.9 635.2,873.9 635.2,874.9 659.6,874.9 659.6,875.5 683.9,875.5 683.9,875.9 708.2,875.9 708.2,876.2 732.6,876.2 732.6,876.4 756.9,876.4" fill="none" stroke="#b5de2b" stroke-width="3.10" stroke-opacity="0.500" stroke-linejoin="round"/>
<path d="M173.2,818.7L173.2,781.1 197.6,781.1 197.6,762.1 221.9,762.1 221.9,755.2 246.2,755.2 246.2,755.5 270.6,755.5 270.6,759.9 294.9,759.9 294.9,771.2 319.2,771.2 319.2,782.6 343.6,782.6 343.6,795.7 367.9,795.7 367.9,808.3 392.2,808.3 392.2,820.3 416.6,820.3 416.6,831.7 440.9,831.7 440.9,842.2 465.2,842.2 465.2,850.7 489.6,850.7 489.6,857.4 513.9,857.4 513.9,863.2 538.2,863.2 538.2,867.4 562.6,867.4 562.6,870.4 586.9,870.4 586.9,872.4 611.2,872.4 611.2,873.9 635.6,873.9 635.6,874.9 659.9,874.9 659.9,875.5 684.2,875.5 684.2,875.9 708.6,875.9 708.6,876.2 732.9,876.2 732.9,876.4 757.2,876.4" fill="none" stroke="#dae319" stroke-width="3.10" stroke-opacity="0.500" stroke-linejoin="round"/>
<path d="M173.6,818.1L173.6,780.7 197.9,780.7 197.9,762.0 222.3,762.0 222.3,755.4 246.6,755.4 246.6,755.8 270.9,755.8 270.9,760.3 295.3,760.3 295.3,771.5 319.6,771.5 319.6,782.9 343.9,782.9 343.9,795.9 368.3,795.9 368.3,808.4 392.6,808.4 392.6,820.3 416.9,820.3 416.9,831.7 441.3,831.7 441.3,842.1 465.6,842.1 465.6,850.6 489.9,850.6 489.9,857.3 514.2,857.3 514.2,863.1 538.6,863.1 538.6,867.3 562.9,867.3 562.9,870.4 587.2,870.4 587.2,872.3 611.6,872.3 611.6,873.8 635.9,873.8 635.9,874.9 660.2,874.9 660.2,875.5 684.6,875.5 684.6,875.9 708.9,875.9 708.9,876.2 733.2,876.2 733.2,876.4 757.6,876.4" fill="none" stroke="#fde725" stroke-width="3.10" stroke-opacity="0.500" stroke-linejoin="round"/>
</g>
<text x="763.40" y="674.50" text-anchor="end" font-size="18.1" fill="#000" stroke="#000" stroke-width="0.25">disorganized score</text>
<defs><linearGradient id="cb4g" x1="0" x2="1" y1="0" y2="0"><stop offset="0.000" stop-color="#440154"/><stop offset="0.050" stop-color="#471365"/><stop offset="0.100" stop-color="#482475"/><stop offset="0.150" stop-color="#463480"/><stop offset="0.200" stop-color="#414487"/><stop offset="0.250" stop-color="#3b528b"/><stop offset="0.300" stop-color="#355f8d"/><stop offset="0.350" stop-color="#2f6c8e"/><stop offset="0.400" stop-color="#2a788e"/><stop offset="0.450" stop-color="#25848e"/><stop offset="0.500" stop-color="#21918c"/><stop offset="0.550" stop-color="#1e9c89"/><stop offset="0.600" stop-color="#22a884"/><stop offset="0.650" stop-color="#2fb47c"/><stop offset="0.700" stop-color="#44bf70"/><stop offset="0.750" stop-color="#5ec962"/><stop offset="0.800" stop-color="#7ad151"/><stop offset="0.850" stop-color="#9bd93c"/><stop offset="0.900" stop-color="#bddf26"/><stop offset="0.950" stop-color="#dfe318"/><stop offset="1.000" stop-color="#fde725"/></linearGradient></defs>
<rect x="502.40" y="684.60" width="262.20" height="23.40" fill="url(#cb4g)"/>
<line x1="531.69" y1="684.60" x2="531.69" y2="689.28" stroke="#fff" stroke-width="1"/>
<line x1="531.69" y1="703.32" x2="531.69" y2="708.00" stroke="#fff" stroke-width="1"/>
<text x="531.69" y="729.40" text-anchor="middle" font-size="18.2" fill="#000" stroke="#000" stroke-width="0.25">5</text>
<line x1="604.21" y1="684.60" x2="604.21" y2="689.28" stroke="#fff" stroke-width="1"/>
<line x1="604.21" y1="703.32" x2="604.21" y2="708.00" stroke="#fff" stroke-width="1"/>
<text x="604.21" y="729.40" text-anchor="middle" font-size="18.2" fill="#000" stroke="#000" stroke-width="0.25">10</text>
<line x1="676.72" y1="684.60" x2="676.72" y2="689.28" stroke="#fff" stroke-width="1"/>
<line x1="676.72" y1="703.32" x2="676.72" y2="708.00" stroke="#fff" stroke-width="1"/>
<text x="676.72" y="729.40" text-anchor="middle" font-size="18.2" fill="#000" stroke="#000" stroke-width="0.25">15</text>
<line x1="749.23" y1="684.60" x2="749.23" y2="689.28" stroke="#fff" stroke-width="1"/>
<line x1="749.23" y1="703.32" x2="749.23" y2="708.00" stroke="#fff" stroke-width="1"/>
<text x="749.23" y="729.40" text-anchor="middle" font-size="18.2" fill="#000" stroke="#000" stroke-width="0.25">20</text>
<rect x="138.85" y="639.25" width="647.40" height="247.90" fill="none" stroke="#333" stroke-width="1.7"/>
<line x1="129.90" y1="876.71" x2="138.00" y2="876.71" stroke="#333" stroke-width="2.6"/>
<text x="123.10" y="885.11" text-anchor="end" font-size="24" fill="#4d4d4d" stroke="#4d4d4d" stroke-width="0.3">0.00</text>
<line x1="129.90" y1="852.73" x2="138.00" y2="852.73" stroke="#333" stroke-width="2.6"/>
<text x="123.10" y="861.13" text-anchor="end" font-size="24" fill="#4d4d4d" stroke="#4d4d4d" stroke-width="0.3">0.02</text>
<line x1="129.90" y1="828.75" x2="138.00" y2="828.75" stroke="#333" stroke-width="2.6"/>
<text x="123.10" y="837.15" text-anchor="end" font-size="24" fill="#4d4d4d" stroke="#4d4d4d" stroke-width="0.3">0.04</text>
<line x1="129.90" y1="804.77" x2="138.00" y2="804.77" stroke="#333" stroke-width="2.6"/>
<text x="123.10" y="813.17" text-anchor="end" font-size="24" fill="#4d4d4d" stroke="#4d4d4d" stroke-width="0.3">0.06</text>
<line x1="129.90" y1="780.79" x2="138.00" y2="780.79" stroke="#333" stroke-width="2.6"/>
<text x="123.10" y="789.19" text-anchor="end" font-size="24" fill="#4d4d4d" stroke="#4d4d4d" stroke-width="0.3">0.08</text>
<line x1="129.90" y1="756.81" x2="138.00" y2="756.81" stroke="#333" stroke-width="2.6"/>
<text x="123.10" y="765.21" text-anchor="end" font-size="24" fill="#4d4d4d" stroke="#4d4d4d" stroke-width="0.3">0.10</text>
<line x1="167.50" y1="888.00" x2="167.50" y2="895.80" stroke="#333" stroke-width="2.6"/>
<text x="167.50" y="920.00" text-anchor="middle" font-size="24" fill="#4d4d4d" stroke="#4d4d4d" stroke-width="0.3">4</text>
<line x1="313.50" y1="888.00" x2="313.50" y2="895.80" stroke="#333" stroke-width="2.6"/>
<text x="313.50" y="920.00" text-anchor="middle" font-size="24" fill="#4d4d4d" stroke="#4d4d4d" stroke-width="0.3">10</text>
<line x1="459.50" y1="888.00" x2="459.50" y2="895.80" stroke="#333" stroke-width="2.6"/>
<text x="459.50" y="920.00" text-anchor="middle" font-size="24" fill="#4d4d4d" stroke="#4d4d4d" stroke-width="0.3">16</text>
<line x1="605.50" y1="888.00" x2="605.50" y2="895.80" stroke="#333" stroke-width="2.6"/>
<text x="605.50" y="920.00" text-anchor="middle" font-size="24" fill="#4d4d4d" stroke="#4d4d4d" stroke-width="0.3">22</text>
<line x1="751.50" y1="888.00" x2="751.50" y2="895.80" stroke="#333" stroke-width="2.6"/>
<text x="751.50" y="920.00" text-anchor="middle" font-size="24" fill="#4d4d4d" stroke="#4d4d4d" stroke-width="0.3">28</text>
<defs><clipPath id="c5"><rect x="879.20" y="638.40" width="649.10" height="249.60"/></clipPath></defs>
<g clip-path="url(#c5)">
<line x1="879.20" y1="864.72" x2="1528.30" y2="864.72" stroke="#ebebeb" stroke-width="1.2"/>
<line x1="879.20" y1="840.74" x2="1528.30" y2="840.74" stroke="#ebebeb" stroke-width="1.2"/>
<line x1="879.20" y1="816.76" x2="1528.30" y2="816.76" stroke="#ebebeb" stroke-width="1.2"/>
<line x1="879.20" y1="792.78" x2="1528.30" y2="792.78" stroke="#ebebeb" stroke-width="1.2"/>
<line x1="879.20" y1="768.80" x2="1528.30" y2="768.80" stroke="#ebebeb" stroke-width="1.2"/>
<line x1="879.20" y1="744.82" x2="1528.30" y2="744.82" stroke="#ebebeb" stroke-width="1.2"/>
<line x1="879.20" y1="720.84" x2="1528.30" y2="720.84" stroke="#ebebeb" stroke-width="1.2"/>
<line x1="879.20" y1="696.86" x2="1528.30" y2="696.86" stroke="#ebebeb" stroke-width="1.2"/>
<line x1="879.20" y1="684.87" x2="1528.30" y2="684.87" stroke="#ebebeb" stroke-width="1.2"/>
<line x1="981.70" y1="638.40" x2="981.70" y2="888.00" stroke="#ebebeb" stroke-width="1.2"/>
<line x1="1127.70" y1="638.40" x2="1127.70" y2="888.00" stroke="#ebebeb" stroke-width="1.2"/>
<line x1="1273.70" y1="638.40" x2="1273.70" y2="888.00" stroke="#ebebeb" stroke-width="1.2"/>
<line x1="1419.70" y1="638.40" x2="1419.70" y2="888.00" stroke="#ebebeb" stroke-width="1.2"/>
<line x1="879.20" y1="876.71" x2="1528.30" y2="876.71" stroke="#ebebeb" stroke-width="2.4"/>
<line x1="879.20" y1="852.73" x2="1528.30" y2="852.73" stroke="#ebebeb" stroke-width="2.4"/>
<line x1="879.20" y1="828.75" x2="1528.30" y2="828.75" stroke="#ebebeb" stroke-width="2.4"/>
<line x1="879.20" y1="804.77" x2="1528.30" y2="804.77" stroke="#ebebeb" stroke-width="2.4"/>
<line x1="879.20" y1="780.79" x2="1528.30" y2="780.79" stroke="#ebebeb" stroke-width="2.4"/>
<line x1="879.20" y1="756.81" x2="1528.30" y2="756.81" stroke="#ebebeb" stroke-width="2.4"/>
<line x1="879.20" y1="732.83" x2="1528.30" y2="732.83" stroke="#ebebeb" stroke-width="2.4"/>
<line x1="879.20" y1="708.85" x2="1528.30" y2="708.85" stroke="#ebebeb" stroke-width="2.4"/>
<line x1="908.70" y1="638.40" x2="908.70" y2="888.00" stroke="#ebebeb" stroke-width="2.4"/>
<line x1="1054.70" y1="638.40" x2="1054.70" y2="888.00" stroke="#ebebeb" stroke-width="2.4"/>
<line x1="1200.70" y1="638.40" x2="1200.70" y2="888.00" stroke="#ebebeb" stroke-width="2.4"/>
<line x1="1346.70" y1="638.40" x2="1346.70" y2="888.00" stroke="#ebebeb" stroke-width="2.4"/>
<line x1="1492.70" y1="638.40" x2="1492.70" y2="888.00" stroke="#ebebeb" stroke-width="2.4"/>
<path d="M908.7,741.2L908.7,686.8 933.0,686.8 933.0,699.3 957.4,699.3 957.4,720.8 981.7,720.8 981.7,750.8 1006.0,750.8 1006.0,776.6 1030.4,776.6 1030.4,798.8 1054.7,798.8 1054.7,817.1 1079.0,817.1 1079.0,832.6 1103.4,832.6 1103.4,845.9 1127.7,845.9 1127.7,853.9 1152.0,853.9 1152.0,861.7 1176.4,861.7 1176.4,867.4 1200.7,867.4 1200.7,871.1 1225.0,871.1 1225.0,873.4 1249.4,873.4 1249.4,874.7 1273.7,874.7 1273.7,875.5 1298.0,875.5 1298.0,876.0 1322.4,876.0 1322.4,876.2 1346.7,876.2 1346.7,876.5 1371.0,876.5 1371.0,876.6 1395.4,876.6 1395.4,876.6 1419.7,876.6 1419.7,876.7 1444.0,876.7 1444.0,876.7 1468.4,876.7 1468.4,876.7 1492.7,876.7" fill="none" stroke="#440154" stroke-width="3.10" stroke-opacity="0.500" stroke-linejoin="round"/>
<path d="M909.0,754.9L909.0,699.9 933.3,699.9 933.3,704.5 957.7,704.5 957.7,721.2 982.0,721.2 982.0,747.5 1006.3,747.5 1006.3,771.6 1030.7,771.6 1030.7,793.6 1055.0,793.6 1055.0,812.1 1079.3,812.1 1079.3,828.0 1103.7,828.0 1103.7,842.0 1128.0,842.0 1128.0,850.7 1152.3,850.7 1152.3,859.2 1176.7,859.2 1176.7,865.5 1201.0,865.5 1201.0,869.8 1225.3,869.8 1225.3,872.5 1249.7,872.5 1249.7,874.1 1274.0,874.1 1274.0,875.1 1298.3,875.1 1298.3,875.8 1322.7,875.8 1322.7,876.1 1347.0,876.1 1347.0,876.4 1371.3,876.4 1371.3,876.5 1395.7,876.5 1395.7,876.6 1420.0,876.6 1420.0,876.6 1444.3,876.6 1444.3,876.7 1468.7,876.7 1468.7,876.7 1493.0,876.7" fill="none" stroke="#471365" stroke-width="3.10" stroke-opacity="0.500" stroke-linejoin="round"/>
<path d="M909.3,768.7L909.3,714.2 933.6,714.2 933.6,711.5 958.0,711.5 958.0,723.0 982.3,723.0 982.3,745.0 1006.6,745.0 1006.6,766.7 1031.0,766.7 1031.0,788.0 1055.3,788.0 1055.3,806.4 1079.6,806.4 1079.6,822.8 1104.0,822.8 1104.0,837.3 1128.3,837.3 1128.3,846.8 1152.6,846.8 1152.6,856.0 1177.0,856.0 1177.0,863.1 1201.3,863.1 1201.3,868.0 1225.6,868.0 1225.6,871.2 1250.0,871.2 1250.0,873.3 1274.3,873.3 1274.3,874.6 1298.6,874.6 1298.6,875.4 1323.0,875.4 1323.0,875.8 1347.3,875.8 1347.3,876.2 1371.6,876.2 1371.6,876.5 1396.0,876.5 1396.0,876.5 1420.3,876.5 1420.3,876.6 1444.6,876.6 1444.6,876.6 1469.0,876.6 1469.0,876.7 1493.3,876.7" fill="none" stroke="#482475" stroke-width="3.10" stroke-opacity="0.500" stroke-linejoin="round"/>
<path d="M909.6,781.9L909.6,729.2 933.9,729.2 933.9,720.0 958.3,720.0 958.3,726.4 982.6,726.4 982.6,743.6 1006.9,743.6 1006.9,762.4 1031.3,762.4 1031.3,782.7 1055.6,782.7 1055.6,800.6 1079.9,800.6 1079.9,817.0 1104.3,817.0 1104.3,831.9 1128.6,831.9 1128.6,842.1 1152.9,842.1 1152.9,852.1 1177.3,852.1 1177.3,860.0 1201.6,860.0 1201.6,865.7 1225.9,865.7 1225.9,869.5 1250.3,869.5 1250.3,872.1 1274.6,872.1 1274.6,873.8 1298.9,873.8 1298.9,874.9 1323.3,874.9 1323.3,875.5 1347.6,875.5 1347.6,876.0 1371.9,876.0 1371.9,876.3 1396.3,876.3 1396.3,876.4 1420.6,876.4 1420.6,876.5 1444.9,876.5 1444.9,876.6 1469.3,876.6 1469.3,876.6 1493.6,876.6" fill="none" stroke="#463480" stroke-width="3.10" stroke-opacity="0.500" stroke-linejoin="round"/>
<path d="M909.9,794.2L909.9,744.2 934.3,744.2 934.3,729.8 958.6,729.8 958.6,731.5 982.9,731.5 982.9,743.8 1007.3,743.8 1007.3,759.1 1031.6,759.1 1031.6,777.8 1055.9,777.8 1055.9,794.8 1080.3,794.8 1080.3,811.1 1104.6,811.1 1104.6,825.9 1128.9,825.9 1128.9,836.9 1153.3,836.9 1153.3,847.5 1177.6,847.5 1177.6,856.2 1201.9,856.2 1201.9,862.6 1226.2,862.6 1226.2,867.2 1250.6,867.2 1250.6,870.4 1274.9,870.4 1274.9,872.7 1299.2,872.7 1299.2,874.1 1323.6,874.1 1323.6,875.0 1347.9,875.0 1347.9,875.7 1372.2,875.7 1372.2,876.1 1396.6,876.1 1396.6,876.3 1420.9,876.3 1420.9,876.4 1445.2,876.4 1445.2,876.5 1469.6,876.5 1469.6,876.6 1493.9,876.6" fill="none" stroke="#414487" stroke-width="3.10" stroke-opacity="0.500" stroke-linejoin="round"/>
<path d="M910.2,806.0L910.2,759.6 934.6,759.6 934.6,741.1 958.9,741.1 958.9,738.7 983.2,738.7 983.2,745.8 1007.6,745.8 1007.6,757.1 1031.9,757.1 1031.9,773.8 1056.2,773.8 1056.2,789.4 1080.6,789.4 1080.6,805.0 1104.9,805.0 1104.9,819.2 1129.2,819.2 1129.2,831.0 1153.6,831.0 1153.6,841.9 1177.9,841.9 1177.9,851.2 1202.2,851.2 1202.2,858.5 1226.6,858.5 1226.6,863.8 1250.9,863.8 1250.9,868.0 1275.2,868.0 1275.2,870.9 1299.6,870.9 1299.6,872.9 1323.9,872.9 1323.9,874.1 1348.2,874.1 1348.2,875.1 1372.6,875.1 1372.6,875.7 1396.9,875.7 1396.9,876.0 1421.2,876.0 1421.2,876.3 1445.6,876.3 1445.6,876.4 1469.9,876.4 1469.9,876.6 1494.2,876.6" fill="none" stroke="#3b528b" stroke-width="3.10" stroke-opacity="0.500" stroke-linejoin="round"/>
<path d="M910.5,816.8L910.5,774.4 934.9,774.4 934.9,752.2 959.2,752.2 959.2,745.4 983.5,745.4 983.5,748.2 1007.9,748.2 1007.9,755.9 1032.2,755.9 1032.2,770.5 1056.5,770.5 1056.5,784.6 1080.9,784.6 1080.9,799.5 1105.2,799.5 1105.2,813.2 1129.5,813.2 1129.5,825.6 1153.9,825.6 1153.9,836.8 1178.2,836.8 1178.2,846.7 1202.5,846.7 1202.5,854.5 1226.9,854.5 1226.9,860.4 1251.2,860.4 1251.2,865.5 1275.5,865.5 1275.5,869.1 1299.9,869.1 1299.9,871.6 1324.2,871.6 1324.2,873.3 1348.5,873.3 1348.5,874.5 1372.9,874.5 1372.9,875.3 1397.2,875.3 1397.2,875.8 1421.5,875.8 1421.5,876.1 1445.9,876.1 1445.9,876.3 1470.2,876.3 1470.2,876.5 1494.5,876.5" fill="none" stroke="#355f8d" stroke-width="3.10" stroke-opacity="0.500" stroke-linejoin="round"/>
<path d="M910.8,826.3L910.8,788.2 935.2,788.2 935.2,761.9 959.5,761.9 959.5,750.0 983.8,750.0 983.8,749.2 1008.2,749.2 1008.2,753.9 1032.5,753.9 1032.5,766.5 1056.8,766.5 1056.8,779.7 1081.2,779.7 1081.2,794.5 1105.5,794.5 1105.5,808.5 1129.8,808.5 1129.8,821.5 1154.2,821.5 1154.2,833.3 1178.5,833.3 1178.5,843.8 1202.8,843.8 1202.8,852.2 1227.2,852.2 1227.2,858.7 1251.5,858.7 1251.5,864.2 1275.8,864.2 1275.8,868.1 1300.2,868.1 1300.2,871.0 1324.5,871.0 1324.5,872.8 1348.8,872.8 1348.8,874.2 1373.2,874.2 1373.2,875.1 1397.5,875.1 1397.5,875.7 1421.8,875.7 1421.8,876.1 1446.2,876.1 1446.2,876.3 1470.5,876.3 1470.5,876.5 1494.8,876.5" fill="none" stroke="#2f6c8e" stroke-width="3.10" stroke-opacity="0.500" stroke-linejoin="round"/>
<path d="M911.1,834.5L911.1,800.7 935.5,800.7 935.5,771.8 959.8,771.8 959.8,755.6 984.1,755.6 984.1,751.4 1008.5,751.4 1008.5,753.0 1032.8,753.0 1032.8,763.3 1057.1,763.3 1057.1,775.1 1081.5,775.1 1081.5,789.5 1105.8,789.5 1105.8,803.7 1130.1,803.7 1130.1,817.1 1154.5,817.1 1154.5,829.5 1178.8,829.5 1178.8,840.6 1203.1,840.6 1203.1,849.7 1227.5,849.7 1227.5,856.7 1251.8,856.7 1251.8,862.7 1276.1,862.7 1276.1,867.1 1300.5,867.1 1300.5,870.2 1324.8,870.2 1324.8,872.3 1349.1,872.3 1349.1,873.8 1373.5,873.8 1373.5,874.9 1397.8,874.9 1397.8,875.6 1422.1,875.6 1422.1,876.0 1446.5,876.0 1446.5,876.3 1470.8,876.3 1470.8,876.5 1495.1,876.5" fill="none" stroke="#2a788e" stroke-width="3.10" stroke-opacity="0.500" stroke-linejoin="round"/>
<path d="M911.4,841.7L911.4,812.1 935.8,812.1 935.8,782.0 960.1,782.0 960.1,762.3 984.4,762.3 984.4,754.8 1008.8,754.8 1008.8,753.1 1033.1,753.1 1033.1,760.7 1057.4,760.7 1057.4,770.9 1081.8,770.9 1081.8,784.6 1106.1,784.6 1106.1,798.6 1130.4,798.6 1130.4,812.5 1154.8,812.5 1154.8,825.4 1179.1,825.4 1179.1,837.2 1203.4,837.2 1203.4,846.8 1227.8,846.8 1227.8,854.4 1252.1,854.4 1252.1,861.0 1276.4,861.0 1276.4,865.8 1300.8,865.8 1300.8,869.3 1325.1,869.3 1325.1,871.7 1349.4,871.7 1349.4,873.5 1373.8,873.5 1373.8,874.7 1398.1,874.7 1398.1,875.5 1422.4,875.5 1422.4,875.9 1446.8,875.9 1446.8,876.3 1471.1,876.3 1471.1,876.5 1495.4,876.5" fill="none" stroke="#25848e" stroke-width="3.10" stroke-opacity="0.500" stroke-linejoin="round"/>
<path d="M911.7,847.9L911.7,822.4 936.1,822.4 936.1,792.2 960.4,792.2 960.4,770.0 984.7,770.0 984.7,759.4 1009.1,759.4 1009.1,754.4 1033.4,754.4 1033.4,759.1 1057.7,759.1 1057.7,767.1 1082.1,767.1 1082.1,779.7 1106.4,779.7 1106.4,793.4 1130.7,793.4 1130.7,807.6 1155.1,807.6 1155.1,820.9 1179.4,820.9 1179.4,833.3 1203.7,833.3 1203.7,843.5 1228.1,843.5 1228.1,851.8 1252.4,851.8 1252.4,859.0 1276.7,859.0 1276.7,864.4 1301.1,864.4 1301.1,868.3 1325.4,868.3 1325.4,871.0 1349.7,871.0 1349.7,873.0 1374.1,873.0 1374.1,874.4 1398.4,874.4 1398.4,875.3 1422.7,875.3 1422.7,875.9 1447.1,875.9 1447.1,876.2 1471.4,876.2 1471.4,876.5 1495.7,876.5" fill="none" stroke="#21918c" stroke-width="3.10" stroke-opacity="0.500" stroke-linejoin="round"/>
<path d="M912.0,852.7L912.0,830.6 936.4,830.6 936.4,801.1 960.7,801.1 960.7,777.3 985.0,777.3 985.0,764.4 1009.4,764.4 1009.4,756.6 1033.7,756.6 1033.7,758.4 1058.0,758.4 1058.0,764.4 1082.4,764.4 1082.4,775.7 1106.7,775.7 1106.7,788.8 1131.0,788.8 1131.0,803.0 1155.4,803.0 1155.4,816.6 1179.7,816.6 1179.7,829.5 1204.0,829.5 1204.0,840.3 1228.4,840.3 1228.4,849.2 1252.7,849.2 1252.7,857.0 1277.0,857.0 1277.0,862.9 1301.4,862.9 1301.4,867.2 1325.7,867.2 1325.7,870.3 1350.0,870.3 1350.0,872.5 1374.4,872.5 1374.4,874.2 1398.7,874.2 1398.7,875.2 1423.0,875.2 1423.0,875.8 1447.4,875.8 1447.4,876.2 1471.7,876.2 1471.7,876.5 1496.0,876.5" fill="none" stroke="#1e9c89" stroke-width="3.10" stroke-opacity="0.500" stroke-linejoin="round"/>
<path d="M912.4,857.4L912.4,838.8 936.7,838.8 936.7,811.0 961.0,811.0 961.0,786.3 985.4,786.3 985.4,771.2 1009.7,771.2 1009.7,760.3 1034.0,760.3 1034.0,758.9 1058.4,758.9 1058.4,762.0 1082.7,762.0 1082.7,771.5 1107.0,771.5 1107.0,783.6 1131.4,783.6 1131.4,797.6 1155.7,797.6 1155.7,811.3 1180.0,811.3 1180.0,824.7 1204.3,824.7 1204.3,836.2 1228.7,836.2 1228.7,845.7 1253.0,845.7 1253.0,854.3 1277.3,854.3 1277.3,860.9 1301.7,860.9 1301.7,865.8 1326.0,865.8 1326.0,869.3 1350.3,869.3 1350.3,871.9 1374.7,871.9 1374.7,873.8 1399.0,873.8 1399.0,875.0 1423.3,875.0 1423.3,875.7 1447.7,875.7 1447.7,876.2 1472.0,876.2 1472.0,876.4 1496.3,876.4" fill="none" stroke="#22a884" stroke-width="3.10" stroke-opacity="0.500" stroke-linejoin="round"/>
<path d="M912.7,860.9L912.7,845.3 937.0,845.3 937.0,819.4 961.3,819.4 961.3,794.6 985.7,794.6 985.7,778.0 1010.0,778.0 1010.0,764.8 1034.3,764.8 1034.3,760.4 1058.7,760.4 1058.7,760.9 1083.0,760.9 1083.0,768.3 1107.3,768.3 1107.3,779.1 1131.7,779.1 1131.7,792.7 1156.0,792.7 1156.0,806.4 1180.3,806.4 1180.3,820.0 1204.7,820.0 1204.7,832.0 1229.0,832.0 1229.0,842.2 1253.3,842.2 1253.3,851.5 1277.7,851.5 1277.7,858.7 1302.0,858.7 1302.0,864.2 1326.3,864.2 1326.3,868.2 1350.7,868.2 1350.7,871.1 1375.0,871.1 1375.0,873.4 1399.3,873.4 1399.3,874.7 1423.7,874.7 1423.7,875.6 1448.0,875.6 1448.0,876.1 1472.3,876.1 1472.3,876.4 1496.6,876.4" fill="none" stroke="#2fb47c" stroke-width="3.10" stroke-opacity="0.500" stroke-linejoin="round"/>
<path d="M913.0,863.8L913.0,850.6 937.3,850.6 937.3,826.7 961.6,826.7 961.6,802.3 986.0,802.3 986.0,784.9 1010.3,784.9 1010.3,769.9 1034.6,769.9 1034.6,762.9 1059.0,762.9 1059.0,760.7 1083.3,760.7 1083.3,765.9 1107.6,765.9 1107.6,775.3 1132.0,775.3 1132.0,788.2 1156.3,788.2 1156.3,801.5 1180.6,801.5 1180.6,815.3 1205.0,815.3 1205.0,827.7 1229.3,827.7 1229.3,838.5 1253.6,838.5 1253.6,848.6 1278.0,848.6 1278.0,856.4 1302.3,856.4 1302.3,862.5 1326.6,862.5 1326.6,867.0 1351.0,867.0 1351.0,870.4 1375.3,870.4 1375.3,873.0 1399.6,873.0 1399.6,874.5 1424.0,874.5 1424.0,875.5 1448.3,875.5 1448.3,876.1 1472.6,876.1 1472.6,876.4 1497.0,876.4" fill="none" stroke="#44bf70" stroke-width="3.10" stroke-opacity="0.500" stroke-linejoin="round"/>
<path d="M913.3,866.1L913.3,855.0 937.6,855.0 937.6,833.3 961.9,833.3 961.9,809.8 986.3,809.8 986.3,791.9 1010.6,791.9 1010.6,775.6 1034.9,775.6 1034.9,766.2 1059.3,766.2 1059.3,761.4 1083.6,761.4 1083.6,764.4 1107.9,764.4 1107.9,772.0 1132.3,772.0 1132.3,784.0 1156.6,784.0 1156.6,796.8 1180.9,796.8 1180.9,810.5 1205.3,810.5 1205.3,823.1 1229.6,823.1 1229.6,834.5 1253.9,834.5 1253.9,845.3 1278.3,845.3 1278.3,853.8 1302.6,853.8 1302.6,860.6 1326.9,860.6 1326.9,865.7 1351.3,865.7 1351.3,869.5 1375.6,869.5 1375.6,872.5 1399.9,872.5 1399.9,874.3 1424.3,874.3 1424.3,875.4 1448.6,875.4 1448.6,876.1 1472.9,876.1 1472.9,876.4 1497.3,876.4" fill="none" stroke="#5ec962" stroke-width="3.10" stroke-opacity="0.500" stroke-linejoin="round"/>
<path d="M913.6,868.2L913.6,859.1 937.9,859.1 937.9,839.7 962.2,839.7 962.2,817.5 986.6,817.5 986.6,799.7 1010.9,799.7 1010.9,782.3 1035.2,782.3 1035.2,770.7 1059.6,770.7 1059.6,763.3 1083.9,763.3 1083.9,763.6 1108.2,763.6 1108.2,769.1 1132.6,769.1 1132.6,779.9 1156.9,779.9 1156.9,791.7 1181.2,791.7 1181.2,805.1 1205.6,805.1 1205.6,817.8 1229.9,817.8 1229.9,829.7 1254.2,829.7 1254.2,841.2 1278.6,841.2 1278.6,850.6 1302.9,850.6 1302.9,858.1 1327.2,858.1 1327.2,864.0 1351.6,864.0 1351.6,868.4 1375.9,868.4 1375.9,871.9 1400.2,871.9 1400.2,874.0 1424.6,874.0 1424.6,875.3 1448.9,875.3 1448.9,876.0 1473.2,876.0 1473.2,876.4 1497.6,876.4" fill="none" stroke="#7ad151" stroke-width="3.10" stroke-opacity="0.500" stroke-linejoin="round"/>
<path d="M913.9,870.2L913.9,862.9 938.2,862.9 938.2,846.2 962.5,846.2 962.5,825.8 986.9,825.8 986.9,808.4 1011.2,808.4 1011.2,790.5 1035.5,790.5 1035.5,777.0 1059.9,777.0 1059.9,766.9 1084.2,766.9 1084.2,764.2 1108.5,764.2 1108.5,766.9 1132.9,766.9 1132.9,775.8 1157.2,775.8 1157.2,786.2 1181.5,786.2 1181.5,798.9 1205.9,798.9 1205.9,811.4 1230.2,811.4 1230.2,823.7 1254.5,823.7 1254.5,836.0 1278.9,836.0 1278.9,846.3 1303.2,846.3 1303.2,854.8 1327.5,854.8 1327.5,861.7 1351.9,861.7 1351.9,866.9 1376.2,866.9 1376.2,871.1 1400.5,871.1 1400.5,873.5 1424.9,873.5 1424.9,875.1 1449.2,875.1 1449.2,876.0 1473.5,876.0 1473.5,876.3 1497.9,876.3" fill="none" stroke="#9bd93c" stroke-width="3.10" stroke-opacity="0.500" stroke-linejoin="round"/>
<path d="M914.2,871.9L914.2,866.4 938.5,866.4 938.5,852.5 962.8,852.5 962.8,834.4 987.2,834.4 987.2,818.1 1011.5,818.1 1011.5,800.2 1035.8,800.2 1035.8,785.2 1060.2,785.2 1060.2,772.6 1084.5,772.6 1084.5,766.6 1108.8,766.6 1108.8,766.1 1133.2,766.1 1133.2,772.4 1157.5,772.4 1157.5,780.6 1181.8,780.6 1181.8,791.9 1206.2,791.9 1206.2,803.7 1230.5,803.7 1230.5,816.1 1254.8,816.1 1254.8,829.1 1279.2,829.1 1279.2,840.5 1303.5,840.5 1303.5,850.3 1327.8,850.3 1327.8,858.5 1352.2,858.5 1352.2,864.7 1376.5,864.7 1376.5,870.0 1400.8,870.0 1400.8,873.0 1425.2,873.0 1425.2,874.9 1449.5,874.9 1449.5,875.9 1473.8,875.9 1473.8,876.3 1498.2,876.3" fill="none" stroke="#bddf26" stroke-width="3.10" stroke-opacity="0.500" stroke-linejoin="round"/>
<path d="M914.5,873.2L914.5,869.2 938.8,869.2 938.8,857.9 963.1,857.9 963.1,842.3 987.5,842.3 987.5,827.4 1011.8,827.4 1011.8,810.2 1036.1,810.2 1036.1,794.5 1060.5,794.5 1060.5,780.1 1084.8,780.1 1084.8,771.2 1109.1,771.2 1109.1,767.3 1133.5,767.3 1133.5,770.7 1157.8,770.7 1157.8,776.1 1182.1,776.1 1182.1,785.2 1206.5,785.2 1206.5,795.5 1230.8,795.5 1230.8,807.6 1255.1,807.6 1255.1,821.0 1279.5,821.0 1279.5,833.4 1303.8,833.4 1303.8,844.5 1328.1,844.5 1328.1,854.3 1352.5,854.3 1352.5,862.0 1376.8,862.0 1376.8,868.5 1401.1,868.5 1401.1,872.3 1425.5,872.3 1425.5,874.7 1449.8,874.7 1449.8,875.8 1474.1,875.8 1474.1,876.3 1498.5,876.3" fill="none" stroke="#dfe318" stroke-width="3.10" stroke-opacity="0.500" stroke-linejoin="round"/>
<path d="M914.8,874.3L914.8,871.4 939.1,871.4 939.1,862.7 963.5,862.7 963.5,849.7 987.8,849.7 987.8,836.7 1012.1,836.7 1012.1,821.0 1036.5,821.0 1036.5,805.4 1060.8,805.4 1060.8,789.8 1085.1,789.8 1085.1,778.4 1109.5,778.4 1109.5,771.2 1133.8,771.2 1133.8,771.2 1158.1,771.2 1158.1,773.0 1182.5,773.0 1182.5,779.0 1206.8,779.0 1206.8,786.8 1231.1,786.8 1231.1,797.6 1255.4,797.6 1255.4,810.8 1279.8,810.8 1279.8,824.0 1304.1,824.0 1304.1,836.5 1328.4,836.5 1328.4,848.5 1352.8,848.5 1352.8,858.1 1377.1,858.1 1377.1,866.5 1401.4,866.5 1401.4,871.3 1425.8,871.3 1425.8,874.3 1450.1,874.3 1450.1,875.8 1474.4,875.8 1474.4,876.2 1498.8,876.2" fill="none" stroke="#fde725" stroke-width="3.10" stroke-opacity="0.500" stroke-linejoin="round"/>
</g>
<text x="1504.60" y="674.50" text-anchor="end" font-size="18.1" fill="#000" stroke="#000" stroke-width="0.25">excited score</text>
<defs><linearGradient id="cb5g" x1="0" x2="1" y1="0" y2="0"><stop offset="0.000" stop-color="#440154"/><stop offset="0.050" stop-color="#471365"/><stop offset="0.100" stop-color="#482475"/><stop offset="0.150" stop-color="#463480"/><stop offset="0.200" stop-color="#414487"/><stop offset="0.250" stop-color="#3b528b"/><stop offset="0.300" stop-color="#355f8d"/><stop offset="0.350" stop-color="#2f6c8e"/><stop offset="0.400" stop-color="#2a788e"/><stop offset="0.450" stop-color="#25848e"/><stop offset="0.500" stop-color="#21918c"/><stop offset="0.550" stop-color="#1e9c89"/><stop offset="0.600" stop-color="#22a884"/><stop offset="0.650" stop-color="#2fb47c"/><stop offset="0.700" stop-color="#44bf70"/><stop offset="0.750" stop-color="#5ec962"/><stop offset="0.800" stop-color="#7ad151"/><stop offset="0.850" stop-color="#9bd93c"/><stop offset="0.900" stop-color="#bddf26"/><stop offset="0.950" stop-color="#dfe318"/><stop offset="1.000" stop-color="#fde725"/></linearGradient></defs>
<rect x="1243.60" y="684.60" width="262.20" height="23.40" fill="url(#cb5g)"/>
<line x1="1255.93" y1="684.60" x2="1255.93" y2="689.28" stroke="#fff" stroke-width="1"/>
<line x1="1255.93" y1="703.32" x2="1255.93" y2="708.00" stroke="#fff" stroke-width="1"/>
<text x="1255.93" y="729.40" text-anchor="middle" font-size="18.2" fill="#000" stroke="#000" stroke-width="0.25">5</text>
<line x1="1315.23" y1="684.60" x2="1315.23" y2="689.28" stroke="#fff" stroke-width="1"/>
<line x1="1315.23" y1="703.32" x2="1315.23" y2="708.00" stroke="#fff" stroke-width="1"/>
<text x="1315.23" y="729.40" text-anchor="middle" font-size="18.2" fill="#000" stroke="#000" stroke-width="0.25">10</text>
<line x1="1374.52" y1="684.60" x2="1374.52" y2="689.28" stroke="#fff" stroke-width="1"/>
<line x1="1374.52" y1="703.32" x2="1374.52" y2="708.00" stroke="#fff" stroke-width="1"/>
<text x="1374.52" y="729.40" text-anchor="middle" font-size="18.2" fill="#000" stroke="#000" stroke-width="0.25">15</text>
<line x1="1433.82" y1="684.60" x2="1433.82" y2="689.28" stroke="#fff" stroke-width="1"/>
<line x1="1433.82" y1="703.32" x2="1433.82" y2="708.00" stroke="#fff" stroke-width="1"/>
<text x="1433.82" y="729.40" text-anchor="middle" font-size="18.2" fill="#000" stroke="#000" stroke-width="0.25">20</text>
<line x1="1493.11" y1="684.60" x2="1493.11" y2="689.28" stroke="#fff" stroke-width="1"/>
<line x1="1493.11" y1="703.32" x2="1493.11" y2="708.00" stroke="#fff" stroke-width="1"/>
<text x="1493.11" y="729.40" text-anchor="middle" font-size="18.2" fill="#000" stroke="#000" stroke-width="0.25">25</text>
<rect x="880.05" y="639.25" width="647.40" height="247.90" fill="none" stroke="#333" stroke-width="1.7"/>
<line x1="871.10" y1="876.71" x2="879.20" y2="876.71" stroke="#333" stroke-width="2.6"/>
<text x="864.30" y="885.11" text-anchor="end" font-size="24" fill="#4d4d4d" stroke="#4d4d4d" stroke-width="0.3">0.00</text>
<line x1="871.10" y1="852.73" x2="879.20" y2="852.73" stroke="#333" stroke-width="2.6"/>
<text x="864.30" y="861.13" text-anchor="end" font-size="24" fill="#4d4d4d" stroke="#4d4d4d" stroke-width="0.3">0.02</text>
<line x1="871.10" y1="828.75" x2="879.20" y2="828.75" stroke="#333" stroke-width="2.6"/>
<text x="864.30" y="837.15" text-anchor="end" font-size="24" fill="#4d4d4d" stroke="#4d4d4d" stroke-width="0.3">0.04</text>
<line x1="871.10" y1="804.77" x2="879.20" y2="804.77" stroke="#333" stroke-width="2.6"/>
<text x="864.30" y="813.17" text-anchor="end" font-size="24" fill="#4d4d4d" stroke="#4d4d4d" stroke-width="0.3">0.06</text>
<line x1="871.10" y1="780.79" x2="879.20" y2="780.79" stroke="#333" stroke-width="2.6"/>
<text x="864.30" y="789.19" text-anchor="end" font-size="24" fill="#4d4d4d" stroke="#4d4d4d" stroke-width="0.3">0.08</text>
<line x1="871.10" y1="756.81" x2="879.20" y2="756.81" stroke="#333" stroke-width="2.6"/>
<text x="864.30" y="765.21" text-anchor="end" font-size="24" fill="#4d4d4d" stroke="#4d4d4d" stroke-width="0.3">0.10</text>
<line x1="871.10" y1="732.83" x2="879.20" y2="732.83" stroke="#333" stroke-width="2.6"/>
<text x="864.30" y="741.23" text-anchor="end" font-size="24" fill="#4d4d4d" stroke="#4d4d4d" stroke-width="0.3">0.12</text>
<line x1="871.10" y1="708.85" x2="879.20" y2="708.85" stroke="#333" stroke-width="2.6"/>
<text x="864.30" y="717.25" text-anchor="end" font-size="24" fill="#4d4d4d" stroke="#4d4d4d" stroke-width="0.3">0.14</text>
<line x1="908.70" y1="888.00" x2="908.70" y2="895.80" stroke="#333" stroke-width="2.6"/>
<text x="908.70" y="920.00" text-anchor="middle" font-size="24" fill="#4d4d4d" stroke="#4d4d4d" stroke-width="0.3">4</text>
<line x1="1054.70" y1="888.00" x2="1054.70" y2="895.80" stroke="#333" stroke-width="2.6"/>
<text x="1054.70" y="920.00" text-anchor="middle" font-size="24" fill="#4d4d4d" stroke="#4d4d4d" stroke-width="0.3">10</text>
<line x1="1200.70" y1="888.00" x2="1200.70" y2="895.80" stroke="#333" stroke-width="2.6"/>
<text x="1200.70" y="920.00" text-anchor="middle" font-size="24" fill="#4d4d4d" stroke="#4d4d4d" stroke-width="0.3">16</text>
<line x1="1346.70" y1="888.00" x2="1346.70" y2="895.80" stroke="#333" stroke-width="2.6"/>
<text x="1346.70" y="920.00" text-anchor="middle" font-size="24" fill="#4d4d4d" stroke="#4d4d4d" stroke-width="0.3">22</text>
<line x1="1492.70" y1="888.00" x2="1492.70" y2="895.80" stroke="#333" stroke-width="2.6"/>
<text x="1492.70" y="920.00" text-anchor="middle" font-size="24" fill="#4d4d4d" stroke="#4d4d4d" stroke-width="0.3">28</text>
<defs><clipPath id="c6"><rect x="138.00" y="954.50" width="649.10" height="249.60"/></clipPath></defs>
<g clip-path="url(#c6)">
<line x1="138.00" y1="1180.82" x2="787.10" y2="1180.82" stroke="#ebebeb" stroke-width="1.2"/>
<line x1="138.00" y1="1156.84" x2="787.10" y2="1156.84" stroke="#ebebeb" stroke-width="1.2"/>
<line x1="138.00" y1="1132.86" x2="787.10" y2="1132.86" stroke="#ebebeb" stroke-width="1.2"/>
<line x1="138.00" y1="1108.88" x2="787.10" y2="1108.88" stroke="#ebebeb" stroke-width="1.2"/>
<line x1="138.00" y1="1084.90" x2="787.10" y2="1084.90" stroke="#ebebeb" stroke-width="1.2"/>
<line x1="138.00" y1="1060.92" x2="787.10" y2="1060.92" stroke="#ebebeb" stroke-width="1.2"/>
<line x1="138.00" y1="1048.93" x2="787.10" y2="1048.93" stroke="#ebebeb" stroke-width="1.2"/>
<line x1="240.50" y1="954.50" x2="240.50" y2="1204.10" stroke="#ebebeb" stroke-width="1.2"/>
<line x1="386.50" y1="954.50" x2="386.50" y2="1204.10" stroke="#ebebeb" stroke-width="1.2"/>
<line x1="532.50" y1="954.50" x2="532.50" y2="1204.10" stroke="#ebebeb" stroke-width="1.2"/>
<line x1="678.50" y1="954.50" x2="678.50" y2="1204.10" stroke="#ebebeb" stroke-width="1.2"/>
<line x1="138.00" y1="1192.81" x2="787.10" y2="1192.81" stroke="#ebebeb" stroke-width="2.4"/>
<line x1="138.00" y1="1168.83" x2="787.10" y2="1168.83" stroke="#ebebeb" stroke-width="2.4"/>
<line x1="138.00" y1="1144.85" x2="787.10" y2="1144.85" stroke="#ebebeb" stroke-width="2.4"/>
<line x1="138.00" y1="1120.87" x2="787.10" y2="1120.87" stroke="#ebebeb" stroke-width="2.4"/>
<line x1="138.00" y1="1096.89" x2="787.10" y2="1096.89" stroke="#ebebeb" stroke-width="2.4"/>
<line x1="138.00" y1="1072.91" x2="787.10" y2="1072.91" stroke="#ebebeb" stroke-width="2.4"/>
<line x1="167.50" y1="954.50" x2="167.50" y2="1204.10" stroke="#ebebeb" stroke-width="2.4"/>
<line x1="313.50" y1="954.50" x2="313.50" y2="1204.10" stroke="#ebebeb" stroke-width="2.4"/>
<line x1="459.50" y1="954.50" x2="459.50" y2="1204.10" stroke="#ebebeb" stroke-width="2.4"/>
<line x1="605.50" y1="954.50" x2="605.50" y2="1204.10" stroke="#ebebeb" stroke-width="2.4"/>
<line x1="751.50" y1="954.50" x2="751.50" y2="1204.10" stroke="#ebebeb" stroke-width="2.4"/>
<path d="M167.5,1139.0L167.5,1099.0 191.8,1099.0 191.8,1077.3 216.2,1077.3 216.2,1068.5 240.5,1068.5 240.5,1067.9 264.8,1067.9 264.8,1072.4 289.2,1072.4 289.2,1084.4 313.5,1084.4 313.5,1096.8 337.8,1096.8 337.8,1110.9 362.2,1110.9 362.2,1124.5 386.5,1124.5 386.5,1137.2 410.8,1137.2 410.8,1149.1 435.2,1149.1 435.2,1159.7 459.5,1159.7 459.5,1168.3 483.8,1168.3 483.8,1174.8 508.2,1174.8 508.2,1180.4 532.5,1180.4 532.5,1184.4 556.8,1184.4 556.8,1187.2 581.2,1187.2 581.2,1189.0 605.5,1189.0 605.5,1190.4 629.8,1190.4 629.8,1191.3 654.2,1191.3 654.2,1191.8 678.5,1191.8 678.5,1192.2 702.8,1192.2 702.8,1192.4 727.2,1192.4 727.2,1192.6 751.5,1192.6" fill="none" stroke="#440154" stroke-width="3.10" stroke-opacity="1.000" stroke-linejoin="round"/>
<path d="M173.6,1140.3L173.6,1100.8 197.9,1100.8 197.9,1078.9 222.3,1078.9 222.3,1069.6 246.6,1069.6 246.6,1068.3 270.9,1068.3 270.9,1072.2 295.3,1072.2 295.3,1083.9 319.6,1083.9 319.6,1096.1 343.9,1096.1 343.9,1110.1 368.3,1110.1 368.3,1123.7 392.6,1123.7 392.6,1136.4 416.9,1136.4 416.9,1148.4 441.3,1148.4 441.3,1159.2 465.6,1159.2 465.6,1167.9 489.9,1167.9 489.9,1174.5 514.2,1174.5 514.2,1180.2 538.6,1180.2 538.6,1184.3 562.9,1184.3 562.9,1187.1 587.2,1187.1 587.2,1189.0 611.6,1189.0 611.6,1190.3 635.9,1190.3 635.9,1191.2 660.2,1191.2 660.2,1191.8 684.6,1191.8 684.6,1192.1 708.9,1192.1 708.9,1192.4 733.2,1192.4 733.2,1192.6 757.6,1192.6" fill="none" stroke="#fde725" stroke-width="3.10" stroke-opacity="1.000" stroke-linejoin="round"/>
</g>
<text x="763.40" y="990.60" text-anchor="end" font-size="18.1" fill="#000" stroke="#000" stroke-width="0.25">prior clozapine trial</text>
<line x1="589.20" y1="1027.70" x2="631.20" y2="1027.70" stroke="#440154" stroke-width="3"/>
<text x="644.20" y="1034.30" font-size="18.2" fill="#000" stroke="#000" stroke-width="0.25">no</text>
<line x1="679.90" y1="1027.70" x2="721.90" y2="1027.70" stroke="#fde725" stroke-width="3"/>
<text x="735.80" y="1034.30" font-size="18.2" fill="#000" stroke="#000" stroke-width="0.25">yes</text>
<rect x="138.85" y="955.35" width="647.40" height="247.90" fill="none" stroke="#333" stroke-width="1.7"/>
<line x1="129.90" y1="1192.81" x2="138.00" y2="1192.81" stroke="#333" stroke-width="2.6"/>
<text x="123.10" y="1201.21" text-anchor="end" font-size="24" fill="#4d4d4d" stroke="#4d4d4d" stroke-width="0.3">0.00</text>
<line x1="129.90" y1="1168.83" x2="138.00" y2="1168.83" stroke="#333" stroke-width="2.6"/>
<text x="123.10" y="1177.23" text-anchor="end" font-size="24" fill="#4d4d4d" stroke="#4d4d4d" stroke-width="0.3">0.02</text>
<line x1="129.90" y1="1144.85" x2="138.00" y2="1144.85" stroke="#333" stroke-width="2.6"/>
<text x="123.10" y="1153.25" text-anchor="end" font-size="24" fill="#4d4d4d" stroke="#4d4d4d" stroke-width="0.3">0.04</text>
<line x1="129.90" y1="1120.87" x2="138.00" y2="1120.87" stroke="#333" stroke-width="2.6"/>
<text x="123.10" y="1129.27" text-anchor="end" font-size="24" fill="#4d4d4d" stroke="#4d4d4d" stroke-width="0.3">0.06</text>
<line x1="129.90" y1="1096.89" x2="138.00" y2="1096.89" stroke="#333" stroke-width="2.6"/>
<text x="123.10" y="1105.29" text-anchor="end" font-size="24" fill="#4d4d4d" stroke="#4d4d4d" stroke-width="0.3">0.08</text>
<line x1="129.90" y1="1072.91" x2="138.00" y2="1072.91" stroke="#333" stroke-width="2.6"/>
<text x="123.10" y="1081.31" text-anchor="end" font-size="24" fill="#4d4d4d" stroke="#4d4d4d" stroke-width="0.3">0.10</text>
<line x1="167.50" y1="1204.10" x2="167.50" y2="1211.90" stroke="#333" stroke-width="2.6"/>
<text x="167.50" y="1236.10" text-anchor="middle" font-size="24" fill="#4d4d4d" stroke="#4d4d4d" stroke-width="0.3">4</text>
<line x1="313.50" y1="1204.10" x2="313.50" y2="1211.90" stroke="#333" stroke-width="2.6"/>
<text x="313.50" y="1236.10" text-anchor="middle" font-size="24" fill="#4d4d4d" stroke="#4d4d4d" stroke-width="0.3">10</text>
<line x1="459.50" y1="1204.10" x2="459.50" y2="1211.90" stroke="#333" stroke-width="2.6"/>
<text x="459.50" y="1236.10" text-anchor="middle" font-size="24" fill="#4d4d4d" stroke="#4d4d4d" stroke-width="0.3">16</text>
<line x1="605.50" y1="1204.10" x2="605.50" y2="1211.90" stroke="#333" stroke-width="2.6"/>
<text x="605.50" y="1236.10" text-anchor="middle" font-size="24" fill="#4d4d4d" stroke="#4d4d4d" stroke-width="0.3">22</text>
<line x1="751.50" y1="1204.10" x2="751.50" y2="1211.90" stroke="#333" stroke-width="2.6"/>
<text x="751.50" y="1236.10" text-anchor="middle" font-size="24" fill="#4d4d4d" stroke="#4d4d4d" stroke-width="0.3">28</text>
<defs><clipPath id="c7"><rect x="879.20" y="954.50" width="649.10" height="249.60"/></clipPath></defs>
<g clip-path="url(#c7)">
<line x1="879.20" y1="1180.82" x2="1528.30" y2="1180.82" stroke="#ebebeb" stroke-width="1.2"/>
<line x1="879.20" y1="1156.84" x2="1528.30" y2="1156.84" stroke="#ebebeb" stroke-width="1.2"/>
<line x1="879.20" y1="1132.86" x2="1528.30" y2="1132.86" stroke="#ebebeb" stroke-width="1.2"/>
<line x1="879.20" y1="1108.88" x2="1528.30" y2="1108.88" stroke="#ebebeb" stroke-width="1.2"/>
<line x1="879.20" y1="1084.90" x2="1528.30" y2="1084.90" stroke="#ebebeb" stroke-width="1.2"/>
<line x1="879.20" y1="1060.92" x2="1528.30" y2="1060.92" stroke="#ebebeb" stroke-width="1.2"/>
<line x1="879.20" y1="1048.93" x2="1528.30" y2="1048.93" stroke="#ebebeb" stroke-width="1.2"/>
<line x1="981.70" y1="954.50" x2="981.70" y2="1204.10" stroke="#ebebeb" stroke-width="1.2"/>
<line x1="1127.70" y1="954.50" x2="1127.70" y2="1204.10" stroke="#ebebeb" stroke-width="1.2"/>
<line x1="1273.70" y1="954.50" x2="1273.70" y2="1204.10" stroke="#ebebeb" stroke-width="1.2"/>
<line x1="1419.70" y1="954.50" x2="1419.70" y2="1204.10" stroke="#ebebeb" stroke-width="1.2"/>
<line x1="879.20" y1="1192.81" x2="1528.30" y2="1192.81" stroke="#ebebeb" stroke-width="2.4"/>
<line x1="879.20" y1="1168.83" x2="1528.30" y2="1168.83" stroke="#ebebeb" stroke-width="2.4"/>
<line x1="879.20" y1="1144.85" x2="1528.30" y2="1144.85" stroke="#ebebeb" stroke-width="2.4"/>
<line x1="879.20" y1="1120.87" x2="1528.30" y2="1120.87" stroke="#ebebeb" stroke-width="2.4"/>
<line x1="879.20" y1="1096.89" x2="1528.30" y2="1096.89" stroke="#ebebeb" stroke-width="2.4"/>
<line x1="879.20" y1="1072.91" x2="1528.30" y2="1072.91" stroke="#ebebeb" stroke-width="2.4"/>
<line x1="908.70" y1="954.50" x2="908.70" y2="1204.10" stroke="#ebebeb" stroke-width="2.4"/>
<line x1="1054.70" y1="954.50" x2="1054.70" y2="1204.10" stroke="#ebebeb" stroke-width="2.4"/>
<line x1="1200.70" y1="954.50" x2="1200.70" y2="1204.10" stroke="#ebebeb" stroke-width="2.4"/>
<line x1="1346.70" y1="954.50" x2="1346.70" y2="1204.10" stroke="#ebebeb" stroke-width="2.4"/>
<line x1="1492.70" y1="954.50" x2="1492.70" y2="1204.10" stroke="#ebebeb" stroke-width="2.4"/>
<path d="M908.7,1142.7L908.7,1104.3 933.0,1104.3 933.0,1082.3 957.4,1082.3 957.4,1072.1 981.7,1072.1 981.7,1069.8 1006.0,1069.8 1006.0,1072.5 1030.4,1072.5 1030.4,1083.1 1054.7,1083.1 1054.7,1094.7 1079.0,1094.7 1079.0,1108.3 1103.4,1108.3 1103.4,1121.8 1127.7,1121.8 1127.7,1134.6 1152.0,1134.6 1152.0,1146.9 1176.4,1146.9 1176.4,1157.9 1200.7,1157.9 1200.7,1166.9 1225.0,1166.9 1225.0,1173.8 1249.4,1173.8 1249.4,1179.7 1273.7,1179.7 1273.7,1183.9 1298.0,1183.9 1298.0,1186.9 1322.4,1186.9 1322.4,1188.8 1346.7,1188.8 1346.7,1190.2 1371.0,1190.2 1371.0,1191.2 1395.4,1191.2 1395.4,1191.8 1419.7,1191.8 1419.7,1192.1 1444.0,1192.1 1444.0,1192.4 1468.4,1192.4 1468.4,1192.6 1492.7,1192.6" fill="none" stroke="#440154" stroke-width="3.10" stroke-opacity="1.000" stroke-linejoin="round"/>
<path d="M914.8,1136.7L914.8,1096.0 939.1,1096.0 939.1,1074.7 963.5,1074.7 963.5,1066.8 987.8,1066.8 987.8,1067.2 1012.1,1067.2 1012.1,1072.6 1036.5,1072.6 1036.5,1085.3 1060.8,1085.3 1060.8,1098.1 1085.1,1098.1 1085.1,1112.4 1109.5,1112.4 1109.5,1125.9 1133.8,1125.9 1133.8,1138.4 1158.1,1138.4 1158.1,1150.1 1182.5,1150.1 1182.5,1160.5 1206.8,1160.5 1206.8,1168.9 1231.1,1168.9 1231.1,1175.3 1255.4,1175.3 1255.4,1180.7 1279.8,1180.7 1279.8,1184.6 1304.1,1184.6 1304.1,1187.3 1328.4,1187.3 1328.4,1189.1 1352.8,1189.1 1352.8,1190.4 1377.1,1190.4 1377.1,1191.3 1401.4,1191.3 1401.4,1191.8 1425.8,1191.8 1425.8,1192.2 1450.1,1192.2 1450.1,1192.4 1474.4,1192.4 1474.4,1192.6 1498.8,1192.6" fill="none" stroke="#fde725" stroke-width="3.10" stroke-opacity="1.000" stroke-linejoin="round"/>
</g>
<text x="1504.60" y="990.60" text-anchor="end" font-size="18.1" fill="#000" stroke="#000" stroke-width="0.25">antipsychotic polypharmacy</text>
<line x1="1263.60" y1="1027.70" x2="1305.60" y2="1027.70" stroke="#440154" stroke-width="3"/>
<text x="1319.70" y="1034.30" font-size="18.2" fill="#000" stroke="#000" stroke-width="0.25">absent</text>
<line x1="1389.30" y1="1027.70" x2="1431.30" y2="1027.70" stroke="#fde725" stroke-width="3"/>
<text x="1444.40" y="1034.30" font-size="18.2" fill="#000" stroke="#000" stroke-width="0.25">present</text>
<rect x="880.05" y="955.35" width="647.40" height="247.90" fill="none" stroke="#333" stroke-width="1.7"/>
<line x1="871.10" y1="1192.81" x2="879.20" y2="1192.81" stroke="#333" stroke-width="2.6"/>
<text x="864.30" y="1201.21" text-anchor="end" font-size="24" fill="#4d4d4d" stroke="#4d4d4d" stroke-width="0.3">0.00</text>
<line x1="871.10" y1="1168.83" x2="879.20" y2="1168.83" stroke="#333" stroke-width="2.6"/>
<text x="864.30" y="1177.23" text-anchor="end" font-size="24" fill="#4d4d4d" stroke="#4d4d4d" stroke-width="0.3">0.02</text>
<line x1="871.10" y1="1144.85" x2="879.20" y2="1144.85" stroke="#333" stroke-width="2.6"/>
<text x="864.30" y="1153.25" text-anchor="end" font-size="24" fill="#4d4d4d" stroke="#4d4d4d" stroke-width="0.3">0.04</text>
<line x1="871.10" y1="1120.87" x2="879.20" y2="1120.87" stroke="#333" stroke-width="2.6"/>
<text x="864.30" y="1129.27" text-anchor="end" font-size="24" fill="#4d4d4d" stroke="#4d4d4d" stroke-width="0.3">0.06</text>
<line x1="871.10" y1="1096.89" x2="879.20" y2="1096.89" stroke="#333" stroke-width="2.6"/>
<text x="864.30" y="1105.29" text-anchor="end" font-size="24" fill="#4d4d4d" stroke="#4d4d4d" stroke-width="0.3">0.08</text>
<line x1="871.10" y1="1072.91" x2="879.20" y2="1072.91" stroke="#333" stroke-width="2.6"/>
<text x="864.30" y="1081.31" text-anchor="end" font-size="24" fill="#4d4d4d" stroke="#4d4d4d" stroke-width="0.3">0.10</text>
<line x1="908.70" y1="1204.10" x2="908.70" y2="1211.90" stroke="#333" stroke-width="2.6"/>
<text x="908.70" y="1236.10" text-anchor="middle" font-size="24" fill="#4d4d4d" stroke="#4d4d4d" stroke-width="0.3">4</text>
<line x1="1054.70" y1="1204.10" x2="1054.70" y2="1211.90" stroke="#333" stroke-width="2.6"/>
<text x="1054.70" y="1236.10" text-anchor="middle" font-size="24" fill="#4d4d4d" stroke="#4d4d4d" stroke-width="0.3">10</text>
<line x1="1200.70" y1="1204.10" x2="1200.70" y2="1211.90" stroke="#333" stroke-width="2.6"/>
<text x="1200.70" y="1236.10" text-anchor="middle" font-size="24" fill="#4d4d4d" stroke="#4d4d4d" stroke-width="0.3">16</text>
<line x1="1346.70" y1="1204.10" x2="1346.70" y2="1211.90" stroke="#333" stroke-width="2.6"/>
<text x="1346.70" y="1236.10" text-anchor="middle" font-size="24" fill="#4d4d4d" stroke="#4d4d4d" stroke-width="0.3">22</text>
<line x1="1492.70" y1="1204.10" x2="1492.70" y2="1211.90" stroke="#333" stroke-width="2.6"/>
<text x="1492.70" y="1236.10" text-anchor="middle" font-size="24" fill="#4d4d4d" stroke="#4d4d4d" stroke-width="0.3">28</text>
<defs><clipPath id="c8"><rect x="138.00" y="1270.60" width="649.10" height="249.60"/></clipPath></defs>
<g clip-path="url(#c8)">
<line x1="138.00" y1="1496.92" x2="787.10" y2="1496.92" stroke="#ebebeb" stroke-width="1.2"/>
<line x1="138.00" y1="1472.94" x2="787.10" y2="1472.94" stroke="#ebebeb" stroke-width="1.2"/>
<line x1="138.00" y1="1448.96" x2="787.10" y2="1448.96" stroke="#ebebeb" stroke-width="1.2"/>
<line x1="138.00" y1="1424.98" x2="787.10" y2="1424.98" stroke="#ebebeb" stroke-width="1.2"/>
<line x1="138.00" y1="1401.00" x2="787.10" y2="1401.00" stroke="#ebebeb" stroke-width="1.2"/>
<line x1="138.00" y1="1377.02" x2="787.10" y2="1377.02" stroke="#ebebeb" stroke-width="1.2"/>
<line x1="138.00" y1="1365.03" x2="787.10" y2="1365.03" stroke="#ebebeb" stroke-width="1.2"/>
<line x1="240.50" y1="1270.60" x2="240.50" y2="1520.20" stroke="#ebebeb" stroke-width="1.2"/>
<line x1="386.50" y1="1270.60" x2="386.50" y2="1520.20" stroke="#ebebeb" stroke-width="1.2"/>
<line x1="532.50" y1="1270.60" x2="532.50" y2="1520.20" stroke="#ebebeb" stroke-width="1.2"/>
<line x1="678.50" y1="1270.60" x2="678.50" y2="1520.20" stroke="#ebebeb" stroke-width="1.2"/>
<line x1="138.00" y1="1508.91" x2="787.10" y2="1508.91" stroke="#ebebeb" stroke-width="2.4"/>
<line x1="138.00" y1="1484.93" x2="787.10" y2="1484.93" stroke="#ebebeb" stroke-width="2.4"/>
<line x1="138.00" y1="1460.95" x2="787.10" y2="1460.95" stroke="#ebebeb" stroke-width="2.4"/>
<line x1="138.00" y1="1436.97" x2="787.10" y2="1436.97" stroke="#ebebeb" stroke-width="2.4"/>
<line x1="138.00" y1="1412.99" x2="787.10" y2="1412.99" stroke="#ebebeb" stroke-width="2.4"/>
<line x1="138.00" y1="1389.01" x2="787.10" y2="1389.01" stroke="#ebebeb" stroke-width="2.4"/>
<line x1="167.50" y1="1270.60" x2="167.50" y2="1520.20" stroke="#ebebeb" stroke-width="2.4"/>
<line x1="313.50" y1="1270.60" x2="313.50" y2="1520.20" stroke="#ebebeb" stroke-width="2.4"/>
<line x1="459.50" y1="1270.60" x2="459.50" y2="1520.20" stroke="#ebebeb" stroke-width="2.4"/>
<line x1="605.50" y1="1270.60" x2="605.50" y2="1520.20" stroke="#ebebeb" stroke-width="2.4"/>
<line x1="751.50" y1="1270.60" x2="751.50" y2="1520.20" stroke="#ebebeb" stroke-width="2.4"/>
<path d="M167.5,1454.0L167.5,1415.0 191.8,1415.0 191.8,1394.3 216.2,1394.3 216.2,1386.1 240.5,1386.1 240.5,1385.6 264.8,1385.6 264.8,1389.8 289.2,1389.8 289.2,1401.4 313.5,1401.4 313.5,1413.4 337.8,1413.4 337.8,1427.1 362.2,1427.1 362.2,1440.3 386.5,1440.3 386.5,1452.7 410.8,1452.7 410.8,1464.5 435.2,1464.5 435.2,1475.1 459.5,1475.1 459.5,1483.7 483.8,1483.7 483.8,1490.3 508.2,1490.3 508.2,1496.0 532.5,1496.0 532.5,1500.1 556.8,1500.1 556.8,1503.0 581.2,1503.0 581.2,1504.9 605.5,1504.9 605.5,1506.3 629.8,1506.3 629.8,1507.3 654.2,1507.3 654.2,1507.8 678.5,1507.8 678.5,1508.2 702.8,1508.2 702.8,1508.4 727.2,1508.4 727.2,1508.7 751.5,1508.7" fill="none" stroke="#440154" stroke-width="3.10" stroke-opacity="1.000" stroke-linejoin="round"/>
<path d="M173.6,1457.8L173.6,1417.6 197.9,1417.6 197.9,1394.8 222.3,1394.8 222.3,1384.8 246.6,1384.8 246.6,1383.3 270.9,1383.3 270.9,1387.1 295.3,1387.1 295.3,1398.9 319.6,1398.9 319.6,1411.5 343.9,1411.5 343.9,1425.9 368.3,1425.9 368.3,1439.7 392.6,1439.7 392.6,1452.7 416.9,1452.7 416.9,1464.9 441.3,1464.9 441.3,1475.7 465.6,1475.7 465.6,1484.4 489.9,1484.4 489.9,1491.1 514.2,1491.1 514.2,1496.7 538.6,1496.7 538.6,1500.6 562.9,1500.6 562.9,1503.5 587.2,1503.5 587.2,1505.2 611.6,1505.2 611.6,1506.6 635.9,1506.6 635.9,1507.4 660.2,1507.4 660.2,1508.0 684.6,1508.0 684.6,1508.3 708.9,1508.3 708.9,1508.5 733.2,1508.5 733.2,1508.7 757.6,1508.7" fill="none" stroke="#fde725" stroke-width="3.10" stroke-opacity="1.000" stroke-linejoin="round"/>
</g>
<text x="763.40" y="1306.70" text-anchor="end" font-size="18.1" fill="#000" stroke="#000" stroke-width="0.25">benzodiazepine(s)</text>
<line x1="522.40" y1="1343.80" x2="564.40" y2="1343.80" stroke="#440154" stroke-width="3"/>
<text x="578.50" y="1350.40" font-size="18.2" fill="#000" stroke="#000" stroke-width="0.25">absent</text>
<line x1="648.10" y1="1343.80" x2="690.10" y2="1343.80" stroke="#fde725" stroke-width="3"/>
<text x="703.20" y="1350.40" font-size="18.2" fill="#000" stroke="#000" stroke-width="0.25">present</text>
<rect x="138.85" y="1271.45" width="647.40" height="247.90" fill="none" stroke="#333" stroke-width="1.7"/>
<line x1="129.90" y1="1508.91" x2="138.00" y2="1508.91" stroke="#333" stroke-width="2.6"/>
<text x="123.10" y="1517.31" text-anchor="end" font-size="24" fill="#4d4d4d" stroke="#4d4d4d" stroke-width="0.3">0.00</text>
<line x1="129.90" y1="1484.93" x2="138.00" y2="1484.93" stroke="#333" stroke-width="2.6"/>
<text x="123.10" y="1493.33" text-anchor="end" font-size="24" fill="#4d4d4d" stroke="#4d4d4d" stroke-width="0.3">0.02</text>
<line x1="129.90" y1="1460.95" x2="138.00" y2="1460.95" stroke="#333" stroke-width="2.6"/>
<text x="123.10" y="1469.35" text-anchor="end" font-size="24" fill="#4d4d4d" stroke="#4d4d4d" stroke-width="0.3">0.04</text>
<line x1="129.90" y1="1436.97" x2="138.00" y2="1436.97" stroke="#333" stroke-width="2.6"/>
<text x="123.10" y="1445.37" text-anchor="end" font-size="24" fill="#4d4d4d" stroke="#4d4d4d" stroke-width="0.3">0.06</text>
<line x1="129.90" y1="1412.99" x2="138.00" y2="1412.99" stroke="#333" stroke-width="2.6"/>
<text x="123.10" y="1421.39" text-anchor="end" font-size="24" fill="#4d4d4d" stroke="#4d4d4d" stroke-width="0.3">0.08</text>
<line x1="129.90" y1="1389.01" x2="138.00" y2="1389.01" stroke="#333" stroke-width="2.6"/>
<text x="123.10" y="1397.41" text-anchor="end" font-size="24" fill="#4d4d4d" stroke="#4d4d4d" stroke-width="0.3">0.10</text>
<line x1="167.50" y1="1520.20" x2="167.50" y2="1528.00" stroke="#333" stroke-width="2.6"/>
<text x="167.50" y="1552.20" text-anchor="middle" font-size="24" fill="#4d4d4d" stroke="#4d4d4d" stroke-width="0.3">4</text>
<line x1="313.50" y1="1520.20" x2="313.50" y2="1528.00" stroke="#333" stroke-width="2.6"/>
<text x="313.50" y="1552.20" text-anchor="middle" font-size="24" fill="#4d4d4d" stroke="#4d4d4d" stroke-width="0.3">10</text>
<line x1="459.50" y1="1520.20" x2="459.50" y2="1528.00" stroke="#333" stroke-width="2.6"/>
<text x="459.50" y="1552.20" text-anchor="middle" font-size="24" fill="#4d4d4d" stroke="#4d4d4d" stroke-width="0.3">16</text>
<line x1="605.50" y1="1520.20" x2="605.50" y2="1528.00" stroke="#333" stroke-width="2.6"/>
<text x="605.50" y="1552.20" text-anchor="middle" font-size="24" fill="#4d4d4d" stroke="#4d4d4d" stroke-width="0.3">22</text>
<line x1="751.50" y1="1520.20" x2="751.50" y2="1528.00" stroke="#333" stroke-width="2.6"/>
<text x="751.50" y="1552.20" text-anchor="middle" font-size="24" fill="#4d4d4d" stroke="#4d4d4d" stroke-width="0.3">28</text>
<defs><clipPath id="c9"><rect x="879.20" y="1270.60" width="649.10" height="249.60"/></clipPath></defs>
<g clip-path="url(#c9)">
<line x1="879.20" y1="1496.92" x2="1528.30" y2="1496.92" stroke="#ebebeb" stroke-width="1.2"/>
<line x1="879.20" y1="1472.94" x2="1528.30" y2="1472.94" stroke="#ebebeb" stroke-width="1.2"/>
<line x1="879.20" y1="1448.96" x2="1528.30" y2="1448.96" stroke="#ebebeb" stroke-width="1.2"/>
<line x1="879.20" y1="1424.98" x2="1528.30" y2="1424.98" stroke="#ebebeb" stroke-width="1.2"/>
<line x1="879.20" y1="1401.00" x2="1528.30" y2="1401.00" stroke="#ebebeb" stroke-width="1.2"/>
<line x1="879.20" y1="1377.02" x2="1528.30" y2="1377.02" stroke="#ebebeb" stroke-width="1.2"/>
<line x1="879.20" y1="1365.03" x2="1528.30" y2="1365.03" stroke="#ebebeb" stroke-width="1.2"/>
<line x1="981.70" y1="1270.60" x2="981.70" y2="1520.20" stroke="#ebebeb" stroke-width="1.2"/>
<line x1="1127.70" y1="1270.60" x2="1127.70" y2="1520.20" stroke="#ebebeb" stroke-width="1.2"/>
<line x1="1273.70" y1="1270.60" x2="1273.70" y2="1520.20" stroke="#ebebeb" stroke-width="1.2"/>
<line x1="1419.70" y1="1270.60" x2="1419.70" y2="1520.20" stroke="#ebebeb" stroke-width="1.2"/>
<line x1="879.20" y1="1508.91" x2="1528.30" y2="1508.91" stroke="#ebebeb" stroke-width="2.4"/>
<line x1="879.20" y1="1484.93" x2="1528.30" y2="1484.93" stroke="#ebebeb" stroke-width="2.4"/>
<line x1="879.20" y1="1460.95" x2="1528.30" y2="1460.95" stroke="#ebebeb" stroke-width="2.4"/>
<line x1="879.20" y1="1436.97" x2="1528.30" y2="1436.97" stroke="#ebebeb" stroke-width="2.4"/>
<line x1="879.20" y1="1412.99" x2="1528.30" y2="1412.99" stroke="#ebebeb" stroke-width="2.4"/>
<line x1="879.20" y1="1389.01" x2="1528.30" y2="1389.01" stroke="#ebebeb" stroke-width="2.4"/>
<line x1="908.70" y1="1270.60" x2="908.70" y2="1520.20" stroke="#ebebeb" stroke-width="2.4"/>
<line x1="1054.70" y1="1270.60" x2="1054.70" y2="1520.20" stroke="#ebebeb" stroke-width="2.4"/>
<line x1="1200.70" y1="1270.60" x2="1200.70" y2="1520.20" stroke="#ebebeb" stroke-width="2.4"/>
<line x1="1346.70" y1="1270.60" x2="1346.70" y2="1520.20" stroke="#ebebeb" stroke-width="2.4"/>
<line x1="1492.70" y1="1270.60" x2="1492.70" y2="1520.20" stroke="#ebebeb" stroke-width="2.4"/>
<path d="M908.7,1456.2L908.7,1416.8 933.0,1416.8 933.0,1395.1 957.4,1395.1 957.4,1385.9 981.7,1385.9 981.7,1384.7 1006.0,1384.7 1006.0,1388.6 1030.4,1388.6 1030.4,1400.1 1054.7,1400.1 1054.7,1412.3 1079.0,1412.3 1079.0,1426.2 1103.4,1426.2 1103.4,1439.7 1127.7,1439.7 1127.7,1452.4 1152.0,1452.4 1152.0,1464.4 1176.4,1464.4 1176.4,1475.2 1200.7,1475.2 1200.7,1483.9 1225.0,1483.9 1225.0,1490.5 1249.4,1490.5 1249.4,1496.2 1273.7,1496.2 1273.7,1500.3 1298.0,1500.3 1298.0,1503.2 1322.4,1503.2 1322.4,1505.0 1346.7,1505.0 1346.7,1506.4 1371.0,1506.4 1371.0,1507.3 1395.4,1507.3 1395.4,1507.9 1419.7,1507.9 1419.7,1508.2 1444.0,1508.2 1444.0,1508.5 1468.4,1508.5 1468.4,1508.7 1492.7,1508.7" fill="none" stroke="#440154" stroke-width="3.10" stroke-opacity="1.000" stroke-linejoin="round"/>
<path d="M914.8,1453.9L914.8,1414.1 939.1,1414.1 939.1,1392.8 963.5,1392.8 963.5,1384.6 987.8,1384.6 987.8,1384.3 1012.1,1384.3 1012.1,1389.0 1036.5,1389.0 1036.5,1401.1 1060.8,1401.1 1060.8,1413.5 1085.1,1413.5 1085.1,1427.5 1109.5,1427.5 1109.5,1441.0 1133.8,1441.0 1133.8,1453.5 1158.1,1453.5 1158.1,1465.3 1182.5,1465.3 1182.5,1475.8 1206.8,1475.8 1206.8,1484.3 1231.1,1484.3 1231.1,1490.8 1255.4,1490.8 1255.4,1496.4 1279.8,1496.4 1279.8,1500.4 1304.1,1500.4 1304.1,1503.3 1328.4,1503.3 1328.4,1505.1 1352.8,1505.1 1352.8,1506.4 1377.1,1506.4 1377.1,1507.3 1401.4,1507.3 1401.4,1507.9 1425.8,1507.9 1425.8,1508.2 1450.1,1508.2 1450.1,1508.5 1474.4,1508.5 1474.4,1508.7 1498.8,1508.7" fill="none" stroke="#fde725" stroke-width="3.10" stroke-opacity="1.000" stroke-linejoin="round"/>
</g>
<text x="1504.60" y="1306.70" text-anchor="end" font-size="18.1" fill="#000" stroke="#000" stroke-width="0.25">anticholinergic(s)</text>
<line x1="1263.60" y1="1343.80" x2="1305.60" y2="1343.80" stroke="#440154" stroke-width="3"/>
<text x="1319.70" y="1350.40" font-size="18.2" fill="#000" stroke="#000" stroke-width="0.25">absent</text>
<line x1="1389.30" y1="1343.80" x2="1431.30" y2="1343.80" stroke="#fde725" stroke-width="3"/>
<text x="1444.40" y="1350.40" font-size="18.2" fill="#000" stroke="#000" stroke-width="0.25">present</text>
<rect x="880.05" y="1271.45" width="647.40" height="247.90" fill="none" stroke="#333" stroke-width="1.7"/>
<line x1="871.10" y1="1508.91" x2="879.20" y2="1508.91" stroke="#333" stroke-width="2.6"/>
<text x="864.30" y="1517.31" text-anchor="end" font-size="24" fill="#4d4d4d" stroke="#4d4d4d" stroke-width="0.3">0.00</text>
<line x1="871.10" y1="1484.93" x2="879.20" y2="1484.93" stroke="#333" stroke-width="2.6"/>
<text x="864.30" y="1493.33" text-anchor="end" font-size="24" fill="#4d4d4d" stroke="#4d4d4d" stroke-width="0.3">0.02</text>
<line x1="871.10" y1="1460.95" x2="879.20" y2="1460.95" stroke="#333" stroke-width="2.6"/>
<text x="864.30" y="1469.35" text-anchor="end" font-size="24" fill="#4d4d4d" stroke="#4d4d4d" stroke-width="0.3">0.04</text>
<line x1="871.10" y1="1436.97" x2="879.20" y2="1436.97" stroke="#333" stroke-width="2.6"/>
<text x="864.30" y="1445.37" text-anchor="end" font-size="24" fill="#4d4d4d" stroke="#4d4d4d" stroke-width="0.3">0.06</text>
<line x1="871.10" y1="1412.99" x2="879.20" y2="1412.99" stroke="#333" stroke-width="2.6"/>
<text x="864.30" y="1421.39" text-anchor="end" font-size="24" fill="#4d4d4d" stroke="#4d4d4d" stroke-width="0.3">0.08</text>
<line x1="871.10" y1="1389.01" x2="879.20" y2="1389.01" stroke="#333" stroke-width="2.6"/>
<text x="864.30" y="1397.41" text-anchor="end" font-size="24" fill="#4d4d4d" stroke="#4d4d4d" stroke-width="0.3">0.10</text>
<line x1="908.70" y1="1520.20" x2="908.70" y2="1528.00" stroke="#333" stroke-width="2.6"/>
<text x="908.70" y="1552.20" text-anchor="middle" font-size="24" fill="#4d4d4d" stroke="#4d4d4d" stroke-width="0.3">4</text>
<line x1="1054.70" y1="1520.20" x2="1054.70" y2="1528.00" stroke="#333" stroke-width="2.6"/>
<text x="1054.70" y="1552.20" text-anchor="middle" font-size="24" fill="#4d4d4d" stroke="#4d4d4d" stroke-width="0.3">10</text>
<line x1="1200.70" y1="1520.20" x2="1200.70" y2="1528.00" stroke="#333" stroke-width="2.6"/>
<text x="1200.70" y="1552.20" text-anchor="middle" font-size="24" fill="#4d4d4d" stroke="#4d4d4d" stroke-width="0.3">16</text>
<line x1="1346.70" y1="1520.20" x2="1346.70" y2="1528.00" stroke="#333" stroke-width="2.6"/>
<text x="1346.70" y="1552.20" text-anchor="middle" font-size="24" fill="#4d4d4d" stroke="#4d4d4d" stroke-width="0.3">22</text>
<line x1="1492.70" y1="1520.20" x2="1492.70" y2="1528.00" stroke="#333" stroke-width="2.6"/>
<text x="1492.70" y="1552.20" text-anchor="middle" font-size="24" fill="#4d4d4d" stroke="#4d4d4d" stroke-width="0.3">28</text>
<text transform="translate(26.9,808.3) rotate(-90)" text-anchor="middle" font-size="24.2" fill="#000" stroke="#000" stroke-width="0.25">conditional probability</text>
<text x="802" y="1601.1" text-anchor="middle" font-size="24.2" fill="#000" stroke="#000" stroke-width="0.25">total score on the excited factor around the time of discharge</text>
</svg></body></html>
